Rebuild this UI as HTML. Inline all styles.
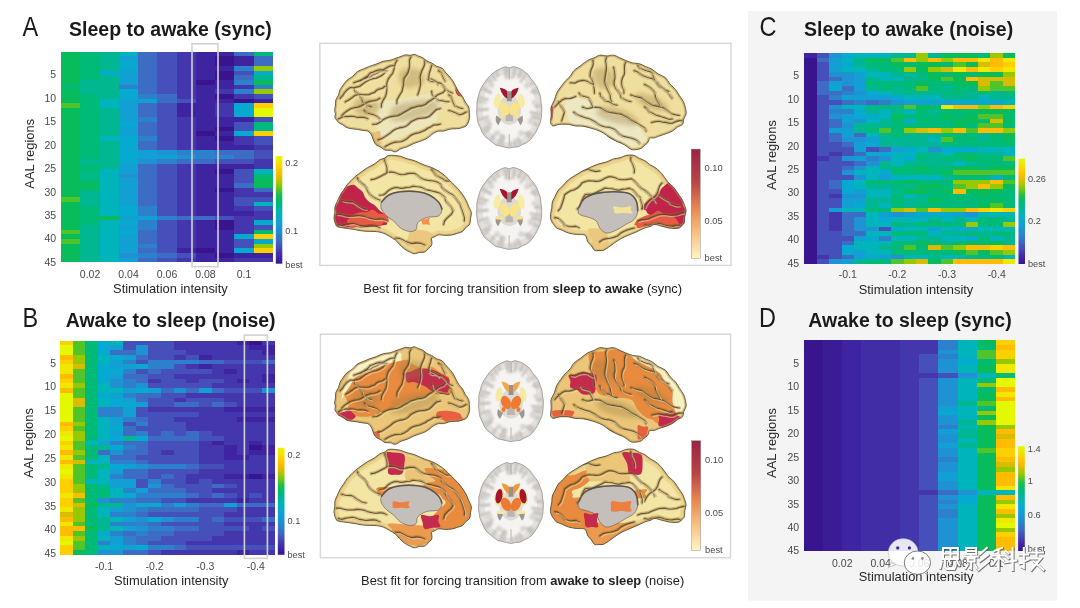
<!DOCTYPE html><html><head><meta charset="utf-8"><style>html,body{margin:0;padding:0;background:#fff;width:1080px;height:608px;overflow:hidden}svg{display:block;filter:blur(0.3px)}text{font-family:"Liberation Sans",sans-serif}</style></head><body>
<svg width="1080" height="608" viewBox="0 0 1080 608">
<rect x="0" y="0" width="1080" height="608" fill="#ffffff"/>
<rect x="748" y="11" width="309.2" height="589.6" fill="#f4f4f4"/>
<text x="0" y="0" font-size="23.5" fill="#1a1a1a" transform="translate(22.4,35.6) scale(1,1.2)">A</text>
<text x="69.1" y="35.6" font-size="19.5" font-weight="bold" text-anchor="start" fill="#1a1a1a" >Sleep to awake (sync)</text>
<g shape-rendering="crispEdges" transform="translate(61.2,51.8) scale(19.2364,4.6822)"><rect x="0" y="0" width="11" height="45" fill="#307bca"/><path fill="#38148e" d="M8 1h1v1h-1zM8 2h1v1h-1zM8 4h1v1h-1zM8 5h1v1h-1zM7 6h1v1h-1zM8 9h1v1h-1zM9 10h1v1h-1zM8 16h1v1h-1zM7 17h1v1h-1zM8 18h1v1h-1zM8 25h1v1h-1zM8 29h1v1h-1zM8 36h1v1h-1zM8 37h1v1h-1zM7 42h1v1h-1zM8 43h1v1h-1z"/><path fill="#3e24a0" d="M7 0h2v1h-2zM7 1h1v1h-1zM9 1h1v1h-1zM7 2h1v1h-1zM9 2h1v1h-1zM7 3h2v1h-2zM7 4h1v1h-1zM7 5h1v1h-1zM8 6h1v1h-1zM7 7h2v1h-2zM7 8h1v1h-1zM7 9h1v1h-1zM7 10h2v1h-2zM10 10h1v1h-1zM6 11h2v1h-2zM6 12h2v1h-2zM6 13h2v1h-2zM7 14h3v1h-3zM7 15h2v1h-2zM7 16h1v1h-1zM8 17h1v1h-1zM7 18h1v1h-1zM7 19h2v1h-2zM7 20h3v1h-3zM7 24h3v1h-3zM7 25h1v1h-1zM7 26h2v1h-2zM7 27h2v1h-2zM7 28h2v1h-2zM7 29h1v1h-1zM7 30h2v1h-2zM7 31h2v1h-2zM7 32h2v1h-2zM7 33h2v1h-2zM7 34h3v1h-3zM7 36h1v1h-1zM7 37h1v1h-1zM7 38h2v1h-2zM7 39h2v1h-2zM7 40h2v1h-2zM7 41h2v1h-2zM6 42h1v1h-1zM8 42h1v1h-1zM7 43h1v1h-1zM9 43h2v1h-2zM7 44h2v1h-2z"/><path fill="#4436ac" d="M6 0h1v1h-1zM6 1h1v1h-1zM6 2h1v1h-1zM6 3h1v1h-1zM6 4h1v1h-1zM6 5h1v1h-1zM6 6h1v1h-1zM6 7h1v1h-1zM9 7h1v1h-1zM6 8h1v1h-1zM8 8h1v1h-1zM6 9h1v1h-1zM9 9h1v1h-1zM8 11h1v1h-1zM8 12h1v1h-1zM8 13h1v1h-1zM6 14h1v1h-1zM6 15h1v1h-1zM6 16h1v1h-1zM6 17h1v1h-1zM6 18h1v1h-1zM9 18h1v1h-1zM6 19h1v1h-1zM9 19h1v1h-1zM6 20h1v1h-1zM10 20h1v1h-1zM10 23h1v1h-1zM6 24h1v1h-1zM10 24h1v1h-1zM6 25h1v1h-1zM6 26h1v1h-1zM6 27h1v1h-1zM6 28h1v1h-1zM6 29h1v1h-1zM9 29h1v1h-1zM6 30h1v1h-1zM9 30h2v1h-2zM6 31h1v1h-1zM6 32h1v1h-1zM6 33h1v1h-1zM9 33h1v1h-1zM6 34h1v1h-1zM10 34h1v1h-1zM9 35h2v1h-2zM6 36h1v1h-1zM9 36h1v1h-1zM6 37h1v1h-1zM9 37h1v1h-1zM6 38h1v1h-1zM9 38h1v1h-1zM6 39h1v1h-1zM6 40h1v1h-1zM6 41h1v1h-1zM6 44h1v1h-1zM9 44h2v1h-2z"/><path fill="#4650ba" d="M5 0h1v1h-1zM5 1h1v1h-1zM5 2h1v1h-1zM5 3h1v1h-1zM5 4h1v1h-1zM9 4h1v1h-1zM5 5h1v1h-1zM5 6h1v1h-1zM5 7h1v1h-1zM5 8h1v1h-1zM10 9h1v1h-1zM6 10h1v1h-1zM5 11h1v1h-1zM5 12h1v1h-1zM5 13h1v1h-1zM5 14h1v1h-1zM10 14h1v1h-1zM5 15h1v1h-1zM9 15h1v1h-1zM5 16h1v1h-1zM9 16h1v1h-1zM5 17h1v1h-1zM5 18h1v1h-1zM10 18h1v1h-1zM5 19h1v1h-1zM10 19h1v1h-1zM5 20h1v1h-1zM10 21h1v1h-1zM10 22h1v1h-1zM8 23h2v1h-2zM5 24h1v1h-1zM5 25h1v1h-1zM9 25h1v1h-1zM5 26h1v1h-1zM9 26h1v1h-1zM5 27h1v1h-1zM9 27h1v1h-1zM5 28h1v1h-1zM5 29h1v1h-1zM5 30h1v1h-1zM5 31h1v1h-1zM9 31h2v1h-2zM5 32h1v1h-1zM9 32h1v1h-1zM5 33h1v1h-1zM10 33h1v1h-1zM5 34h1v1h-1zM8 35h1v1h-1zM5 36h1v1h-1zM5 37h1v1h-1zM10 37h1v1h-1zM5 38h1v1h-1zM5 39h1v1h-1zM5 40h1v1h-1zM9 40h1v1h-1zM5 41h1v1h-1zM9 41h1v1h-1zM5 42h1v1h-1zM6 43h1v1h-1zM5 44h1v1h-1z"/><path fill="#3c6cc4" d="M4 0h1v1h-1zM9 0h1v1h-1zM4 1h1v1h-1zM10 1h1v1h-1zM4 2h1v1h-1zM10 2h1v1h-1zM4 3h1v1h-1zM4 4h1v1h-1zM4 5h1v1h-1zM9 5h1v1h-1zM4 6h1v1h-1zM4 7h1v1h-1zM4 8h1v1h-1zM5 9h1v1h-1zM5 10h1v1h-1zM4 11h1v1h-1zM4 12h1v1h-1zM4 13h1v1h-1zM4 15h1v1h-1zM4 16h1v1h-1zM4 17h1v1h-1zM4 19h1v1h-1zM4 20h1v1h-1zM8 21h2v1h-2zM9 22h1v1h-1zM6 23h2v1h-2zM4 24h1v1h-1zM4 25h1v1h-1zM4 26h1v1h-1zM4 27h1v1h-1zM4 28h1v1h-1zM9 28h1v1h-1zM4 29h1v1h-1zM10 29h1v1h-1zM4 30h1v1h-1zM4 31h1v1h-1zM4 32h1v1h-1zM6 35h2v1h-2zM4 38h1v1h-1zM4 39h1v1h-1zM4 40h1v1h-1zM4 42h1v1h-1zM5 43h1v1h-1zM4 44h1v1h-1z"/><path fill="#2c80cc" d="M9 3h1v1h-1zM9 6h1v1h-1zM3 7h1v1h-1zM10 7h1v1h-1zM9 8h1v1h-1zM4 9h1v1h-1zM4 14h1v1h-1zM4 18h1v1h-1zM6 21h2v1h-2zM7 22h2v1h-2zM5 23h1v1h-1zM4 33h1v1h-1zM4 34h1v1h-1zM5 35h1v1h-1zM4 36h1v1h-1zM4 37h1v1h-1zM4 41h1v1h-1zM4 43h1v1h-1z"/><path fill="#1e92d2" d="M5 21h1v1h-1zM6 22h1v1h-1zM4 23h1v1h-1zM3 26h1v1h-1zM3 43h1v1h-1z"/><path fill="#12a0d4" d="M3 1h1v1h-1zM3 4h1v1h-1zM3 5h1v1h-1zM3 6h1v1h-1zM3 10h2v1h-2zM3 11h1v1h-1zM3 12h1v1h-1zM3 13h1v1h-1zM3 14h1v1h-1zM3 16h1v1h-1zM3 17h1v1h-1zM4 21h1v1h-1zM4 22h2v1h-2zM3 24h1v1h-1zM3 25h1v1h-1zM3 27h1v1h-1zM3 28h1v1h-1zM3 29h1v1h-1zM3 30h1v1h-1zM3 31h1v1h-1zM3 32h1v1h-1zM3 35h2v1h-2zM3 37h1v1h-1zM3 39h1v1h-1zM3 40h1v1h-1zM3 41h1v1h-1zM3 42h1v1h-1zM3 44h1v1h-1z"/><path fill="#06aad0" d="M3 2h1v1h-1zM3 3h1v1h-1zM2 4h1v1h-1zM10 4h1v1h-1zM3 8h1v1h-1zM3 9h1v1h-1zM9 11h1v1h-1zM9 12h1v1h-1zM9 13h1v1h-1zM3 15h1v1h-1zM9 17h1v1h-1zM3 18h1v1h-1zM3 19h1v1h-1zM3 20h1v1h-1zM3 21h1v1h-1zM3 22h1v1h-1zM3 23h1v1h-1zM3 33h1v1h-1zM3 34h1v1h-1zM3 36h1v1h-1zM10 36h1v1h-1zM3 38h1v1h-1zM9 39h1v1h-1zM10 40h1v1h-1zM9 42h1v1h-1z"/><path fill="#00b4bc" d="M3 0h1v1h-1zM2 10h1v1h-1zM2 11h1v1h-1zM2 18h1v1h-1zM2 25h1v1h-1zM10 25h1v1h-1zM2 26h1v1h-1zM2 27h1v1h-1zM2 28h1v1h-1zM2 29h1v1h-1zM2 30h1v1h-1zM2 31h1v1h-1zM2 32h1v1h-1zM10 32h1v1h-1zM2 33h1v1h-1zM2 34h1v1h-1zM2 36h1v1h-1zM2 37h1v1h-1zM2 38h1v1h-1zM2 39h1v1h-1zM2 40h1v1h-1zM2 41h1v1h-1zM2 42h1v1h-1zM2 43h1v1h-1zM2 44h1v1h-1z"/><path fill="#00b792" d="M2 0h1v1h-1zM2 1h1v1h-1zM2 2h1v1h-1zM2 3h1v1h-1zM2 5h1v1h-1zM10 5h1v1h-1zM1 6h2v1h-2zM1 7h2v1h-2zM1 8h2v1h-2zM2 9h1v1h-1zM2 12h1v1h-1zM2 13h1v1h-1zM2 14h1v1h-1zM2 15h1v1h-1zM2 16h1v1h-1zM10 16h1v1h-1zM2 17h1v1h-1zM2 19h1v1h-1zM2 20h1v1h-1zM2 21h1v1h-1zM2 22h1v1h-1zM1 23h2v1h-2zM2 24h1v1h-1zM1 26h1v1h-1zM1 30h1v1h-1zM1 31h1v1h-1zM1 32h1v1h-1zM1 37h1v1h-1zM1 38h1v1h-1zM1 39h1v1h-1zM1 40h1v1h-1zM1 41h1v1h-1zM1 42h1v1h-1zM1 43h1v1h-1zM1 44h1v1h-1z"/><path fill="#00ba78" d="M1 0h1v1h-1zM10 0h1v1h-1zM1 1h1v1h-1zM1 2h1v1h-1zM1 3h1v1h-1zM1 4h1v1h-1zM1 5h1v1h-1zM0 7h1v1h-1zM1 9h1v1h-1zM1 10h1v1h-1zM1 11h1v1h-1zM1 12h1v1h-1zM1 13h1v1h-1zM1 14h1v1h-1zM1 15h1v1h-1zM10 15h1v1h-1zM1 16h1v1h-1zM1 17h1v1h-1zM1 18h1v1h-1zM1 19h1v1h-1zM1 20h1v1h-1zM1 21h1v1h-1zM1 22h1v1h-1zM1 24h1v1h-1zM1 25h1v1h-1zM10 26h1v1h-1zM1 27h1v1h-1zM1 29h1v1h-1zM1 33h1v1h-1zM1 34h1v1h-1zM1 35h1v1h-1zM1 36h1v1h-1zM10 38h1v1h-1z"/><path fill="#08bc5c" d="M0 0h1v1h-1zM0 1h1v1h-1zM0 2h1v1h-1zM0 3h1v1h-1zM0 4h1v1h-1zM0 5h1v1h-1zM0 6h1v1h-1zM10 6h1v1h-1zM0 8h1v1h-1zM0 9h1v1h-1zM0 10h1v1h-1zM0 12h1v1h-1zM0 13h1v1h-1zM0 14h1v1h-1zM0 15h1v1h-1zM0 16h1v1h-1zM0 17h1v1h-1zM0 18h1v1h-1zM0 19h1v1h-1zM0 20h1v1h-1zM0 21h1v1h-1zM0 22h1v1h-1zM0 23h1v1h-1zM0 24h1v1h-1zM0 25h1v1h-1zM0 26h1v1h-1zM0 27h1v1h-1zM10 27h1v1h-1zM0 28h2v1h-2zM10 28h1v1h-1zM0 29h1v1h-1zM0 30h1v1h-1zM0 32h1v1h-1zM0 33h1v1h-1zM0 34h1v1h-1zM0 35h1v1h-1zM2 35h1v1h-1zM0 36h1v1h-1zM0 37h1v1h-1zM0 39h1v1h-1zM0 41h1v1h-1zM0 42h1v1h-1zM0 43h1v1h-1zM0 44h1v1h-1z"/><path fill="#50c428" d="M0 11h1v1h-1zM0 31h1v1h-1zM0 38h1v1h-1zM0 40h1v1h-1z"/><path fill="#98c800" d="M10 3h1v1h-1zM10 8h1v1h-1zM10 41h1v1h-1z"/><path fill="#ffd000" d="M10 11h1v1h-1zM10 17h1v1h-1zM10 39h1v1h-1zM10 42h1v1h-1z"/><path fill="#E4F800" d="M10 12h1v1h-1zM10 13h1v1h-1z"/></g>
<text x="56.1" y="78.47" font-size="10.5" font-weight="normal" text-anchor="end" fill="#4a4a4a" >5</text>
<text x="56.1" y="101.8811111111111" font-size="10.5" font-weight="normal" text-anchor="end" fill="#4a4a4a" >10</text>
<text x="56.1" y="125.29222222222221" font-size="10.5" font-weight="normal" text-anchor="end" fill="#4a4a4a" >15</text>
<text x="56.1" y="148.70333333333335" font-size="10.5" font-weight="normal" text-anchor="end" fill="#4a4a4a" >20</text>
<text x="56.1" y="172.11444444444444" font-size="10.5" font-weight="normal" text-anchor="end" fill="#4a4a4a" >25</text>
<text x="56.1" y="195.52555555555554" font-size="10.5" font-weight="normal" text-anchor="end" fill="#4a4a4a" >30</text>
<text x="56.1" y="218.93666666666664" font-size="10.5" font-weight="normal" text-anchor="end" fill="#4a4a4a" >35</text>
<text x="56.1" y="242.3477777777778" font-size="10.5" font-weight="normal" text-anchor="end" fill="#4a4a4a" >40</text>
<text x="56.1" y="265.7588888888889" font-size="10.5" font-weight="normal" text-anchor="end" fill="#4a4a4a" >45</text>
<text x="90.05454545454546" y="277.9" font-size="10.5" font-weight="normal" text-anchor="middle" fill="#4a4a4a" >0.02</text>
<text x="128.52727272727273" y="277.9" font-size="10.5" font-weight="normal" text-anchor="middle" fill="#4a4a4a" >0.04</text>
<text x="167.0" y="277.9" font-size="10.5" font-weight="normal" text-anchor="middle" fill="#4a4a4a" >0.06</text>
<text x="205.4727272727273" y="277.9" font-size="10.5" font-weight="normal" text-anchor="middle" fill="#4a4a4a" >0.08</text>
<text x="243.94545454545454" y="277.9" font-size="10.5" font-weight="normal" text-anchor="middle" fill="#4a4a4a" >0.1</text>
<text x="170.4" y="292.7" font-size="12.9" font-weight="normal" text-anchor="middle" fill="#262626" >Stimulation intensity</text>
<text x="0" y="0" font-size="12.9" fill="#262626" text-anchor="middle" transform="translate(33.5,153.8) rotate(-90)">AAL regions</text>
<rect x="192" y="43.8" width="26" height="222.89999999999998" fill="none" stroke="#d2d2d2" stroke-width="1.6"/>
<defs><linearGradient id="cbA" x1="0" y1="0" x2="0" y2="1"><stop offset="0.000" stop-color="#E4F800"/><stop offset="0.050" stop-color="#efe900"/><stop offset="0.100" stop-color="#fdd200"/><stop offset="0.150" stop-color="#ffbf00"/><stop offset="0.200" stop-color="#e0bc00"/><stop offset="0.250" stop-color="#a8c500"/><stop offset="0.300" stop-color="#66c51c"/><stop offset="0.350" stop-color="#21bf4a"/><stop offset="0.400" stop-color="#03bb6d"/><stop offset="0.450" stop-color="#00b886"/><stop offset="0.500" stop-color="#00b6a7"/><stop offset="0.550" stop-color="#03b0c5"/><stop offset="0.600" stop-color="#0ba6d2"/><stop offset="0.650" stop-color="#169bd3"/><stop offset="0.700" stop-color="#228dd0"/><stop offset="0.750" stop-color="#307bca"/><stop offset="0.800" stop-color="#3e66c2"/><stop offset="0.850" stop-color="#464cb8"/><stop offset="0.900" stop-color="#4334ab"/><stop offset="0.950" stop-color="#3e239f"/><stop offset="1.000" stop-color="#38148e"/></linearGradient></defs>
<rect x="275.8" y="156.1" width="6.5" height="107.6" fill="url(#cbA)"/>
<text x="285.3" y="166.2" font-size="9.2" font-weight="normal" text-anchor="start" fill="#4a4a4a" >0.2</text>
<text x="285.3" y="233.5" font-size="9.2" font-weight="normal" text-anchor="start" fill="#4a4a4a" >0.1</text>
<text x="285.3" y="267.59999999999997" font-size="9.2" font-weight="normal" text-anchor="start" fill="#4a4a4a" >best</text>
<text x="0" y="0" font-size="23.5" fill="#1a1a1a" transform="translate(22.4,326.6) scale(1,1.2)">B</text>
<text x="65.7" y="326.6" font-size="19.5" font-weight="bold" text-anchor="start" fill="#1a1a1a" >Awake to sleep (noise)</text>
<g shape-rendering="crispEdges" transform="translate(59.9,340.5) scale(12.6353,4.7667)"><rect x="0" y="0" width="17" height="45" fill="#307bca"/><path fill="#38148e" d="M15 0h1v1h-1zM15 22h1v1h-1zM15 28h1v1h-1z"/><path fill="#3e24a0" d="M14 0h1v1h-1zM15 1h2v1h-2zM16 2h1v1h-1zM11 3h1v1h-1zM11 5h1v1h-1zM13 6h1v1h-1zM16 7h1v1h-1zM14 8h1v1h-1zM16 8h1v1h-1zM13 14h4v1h-4zM14 16h3v1h-3zM12 21h1v1h-1zM15 21h1v1h-1zM13 22h1v1h-1zM16 22h1v1h-1zM13 23h1v1h-1zM15 23h2v1h-2zM13 24h2v1h-2zM13 28h2v1h-2zM16 28h1v1h-1zM14 33h1v1h-1zM14 44h1v1h-1z"/><path fill="#4436ac" d="M9 0h5v1h-5zM16 0h1v1h-1zM9 1h6v1h-6zM10 2h6v1h-6zM9 3h1v1h-1zM12 3h5v1h-5zM10 5h1v1h-1zM12 5h5v1h-5zM12 6h1v1h-1zM14 6h3v1h-3zM9 7h7v1h-7zM7 8h1v1h-1zM10 8h1v1h-1zM13 8h1v1h-1zM15 8h1v1h-1zM12 9h5v1h-5zM10 11h7v1h-7zM9 12h1v1h-1zM13 12h4v1h-4zM14 13h3v1h-3zM7 14h6v1h-6zM11 15h6v1h-6zM9 16h5v1h-5zM10 17h7v1h-7zM10 18h7v1h-7zM12 19h5v1h-5zM13 20h4v1h-4zM11 21h1v1h-1zM13 21h2v1h-2zM16 21h1v1h-1zM11 22h2v1h-2zM14 22h1v1h-1zM8 23h1v1h-1zM11 23h2v1h-2zM14 23h1v1h-1zM11 24h2v1h-2zM15 24h2v1h-2zM11 25h6v1h-6zM13 26h4v1h-4zM11 27h6v1h-6zM10 28h3v1h-3zM10 29h1v1h-1zM12 29h5v1h-5zM14 30h3v1h-3zM12 31h5v1h-5zM14 32h1v1h-1zM16 32h1v1h-1zM10 33h4v1h-4zM15 33h2v1h-2zM14 35h3v1h-3zM13 36h4v1h-4zM13 38h4v1h-4zM15 39h1v1h-1zM13 40h4v1h-4zM12 41h5v1h-5zM10 42h7v1h-7zM8 44h6v1h-6zM15 44h2v1h-2z"/><path fill="#4650ba" d="M5 0h4v1h-4zM5 1h1v1h-1zM7 1h2v1h-2zM7 2h3v1h-3zM7 3h2v1h-2zM10 3h1v1h-1zM6 4h1v1h-1zM13 4h3v1h-3zM9 5h1v1h-1zM6 6h1v1h-1zM8 6h4v1h-4zM7 7h2v1h-2zM8 8h2v1h-2zM11 8h2v1h-2zM7 9h5v1h-5zM13 10h3v1h-3zM8 11h2v1h-2zM7 12h2v1h-2zM10 12h3v1h-3zM7 13h2v1h-2zM11 13h1v1h-1zM13 13h1v1h-1zM6 14h1v1h-1zM6 15h5v1h-5zM7 16h2v1h-2zM5 17h1v1h-1zM7 17h3v1h-3zM6 18h4v1h-4zM7 19h1v1h-1zM9 19h1v1h-1zM11 19h1v1h-1zM11 20h2v1h-2zM7 21h4v1h-4zM7 22h4v1h-4zM7 23h1v1h-1zM9 23h2v1h-2zM6 24h5v1h-5zM7 25h4v1h-4zM11 26h2v1h-2zM7 27h4v1h-4zM7 28h1v1h-1zM9 28h1v1h-1zM6 29h1v1h-1zM8 29h2v1h-2zM11 29h1v1h-1zM6 30h1v1h-1zM9 30h3v1h-3zM13 30h1v1h-1zM10 31h2v1h-2zM11 32h1v1h-1zM13 32h1v1h-1zM15 32h1v1h-1zM8 33h2v1h-2zM11 35h3v1h-3zM7 36h6v1h-6zM11 37h1v1h-1zM13 37h3v1h-3zM8 38h5v1h-5zM11 39h4v1h-4zM16 39h1v1h-1zM9 40h4v1h-4zM8 41h4v1h-4zM7 42h3v1h-3zM10 43h7v1h-7zM7 44h1v1h-1z"/><path fill="#3c6cc4" d="M4 2h2v1h-2zM6 3h1v1h-1zM11 4h2v1h-2zM16 4h1v1h-1zM7 6h1v1h-1zM5 7h2v1h-2zM6 8h1v1h-1zM8 10h1v1h-1zM10 10h1v1h-1zM12 10h1v1h-1zM6 11h2v1h-2zM6 12h1v1h-1zM9 13h2v1h-2zM12 13h1v1h-1zM6 16h1v1h-1zM5 18h1v1h-1zM5 19h1v1h-1zM8 19h1v1h-1zM10 19h1v1h-1zM7 20h4v1h-4zM5 21h2v1h-2zM6 22h1v1h-1zM3 23h1v1h-1zM5 23h2v1h-2zM4 24h2v1h-2zM6 25h1v1h-1zM10 26h1v1h-1zM5 27h2v1h-2zM5 28h2v1h-2zM8 28h1v1h-1zM8 30h1v1h-1zM12 30h1v1h-1zM7 31h3v1h-3zM10 32h1v1h-1zM12 32h1v1h-1zM6 33h2v1h-2zM11 34h2v1h-2zM14 34h3v1h-3zM7 35h4v1h-4zM6 36h1v1h-1zM12 37h1v1h-1zM16 37h1v1h-1zM7 38h1v1h-1zM9 39h2v1h-2zM5 40h1v1h-1zM7 40h2v1h-2zM6 41h2v1h-2zM6 42h1v1h-1zM9 43h1v1h-1zM5 44h2v1h-2z"/><path fill="#2c80cc" d="M5 4h1v1h-1zM7 4h4v1h-4zM7 5h2v1h-2zM5 6h1v1h-1zM5 8h1v1h-1zM5 9h1v1h-1zM5 11h1v1h-1zM3 14h2v1h-2zM3 15h2v1h-2zM5 16h1v1h-1zM6 17h1v1h-1zM6 19h1v1h-1zM4 21h1v1h-1zM5 22h1v1h-1zM4 25h2v1h-2zM7 26h3v1h-3zM4 28h1v1h-1zM7 29h1v1h-1zM5 31h1v1h-1zM6 32h4v1h-4zM4 33h2v1h-2zM8 34h1v1h-1zM10 34h1v1h-1zM6 35h1v1h-1zM4 36h2v1h-2zM9 37h2v1h-2zM4 38h3v1h-3zM7 39h2v1h-2zM4 40h1v1h-1zM6 40h1v1h-1zM5 41h1v1h-1zM3 42h1v1h-1zM5 42h1v1h-1zM7 43h2v1h-2z"/><path fill="#1e92d2" d="M6 1h1v1h-1zM6 2h1v1h-1zM4 8h1v1h-1zM4 9h1v1h-1zM6 9h1v1h-1zM9 10h1v1h-1zM16 10h1v1h-1zM4 23h1v1h-1zM6 26h1v1h-1zM7 30h1v1h-1zM3 33h1v1h-1zM5 34h1v1h-1zM5 35h1v1h-1zM6 37h1v1h-1zM8 37h1v1h-1zM6 39h1v1h-1zM3 44h2v1h-2z"/><path fill="#12a0d4" d="M4 1h1v1h-1zM5 3h1v1h-1zM4 4h1v1h-1zM4 5h2v1h-2zM4 7h1v1h-1zM5 10h1v1h-1zM7 10h1v1h-1zM11 10h1v1h-1zM4 11h1v1h-1zM5 12h1v1h-1zM6 13h1v1h-1zM5 14h1v1h-1zM5 15h1v1h-1zM4 16h1v1h-1zM4 17h1v1h-1zM4 19h1v1h-1zM3 21h1v1h-1zM5 26h1v1h-1zM4 27h1v1h-1zM4 29h2v1h-2zM4 30h2v1h-2zM6 31h1v1h-1zM9 34h1v1h-1zM13 34h1v1h-1zM4 35h1v1h-1zM5 37h1v1h-1zM5 39h1v1h-1zM4 41h1v1h-1zM4 42h1v1h-1zM5 43h1v1h-1z"/><path fill="#06aad0" d="M3 0h1v1h-1zM3 1h1v1h-1zM3 2h1v1h-1zM4 3h1v1h-1zM3 5h1v1h-1zM6 5h1v1h-1zM3 6h2v1h-2zM3 7h1v1h-1zM3 8h1v1h-1zM6 10h1v1h-1zM3 11h1v1h-1zM4 12h1v1h-1zM4 13h2v1h-2zM4 18h1v1h-1zM4 20h1v1h-1zM6 20h1v1h-1zM4 22h1v1h-1zM4 26h1v1h-1zM5 32h1v1h-1zM6 34h2v1h-2zM7 37h1v1h-1zM3 40h1v1h-1zM4 43h1v1h-1zM6 43h1v1h-1z"/><path fill="#00b4bc" d="M4 0h1v1h-1zM3 3h1v1h-1zM3 4h1v1h-1zM3 9h1v1h-1zM3 10h2v1h-2zM3 12h1v1h-1zM3 13h1v1h-1zM3 16h1v1h-1zM3 17h1v1h-1zM3 18h1v1h-1zM3 19h1v1h-1zM3 20h1v1h-1zM2 21h1v1h-1zM3 24h1v1h-1zM2 25h2v1h-2zM3 27h1v1h-1zM3 28h1v1h-1zM2 29h2v1h-2zM4 31h1v1h-1zM4 32h1v1h-1zM3 35h1v1h-1zM3 36h1v1h-1zM4 37h1v1h-1zM4 39h1v1h-1zM3 41h1v1h-1zM3 43h1v1h-1z"/><path fill="#00b792" d="M5 20h1v1h-1zM3 22h1v1h-1zM3 26h1v1h-1zM3 30h1v1h-1zM3 34h2v1h-2zM3 37h1v1h-1zM3 38h1v1h-1zM3 39h1v1h-1z"/><path fill="#00ba78" d="M2 0h1v1h-1zM2 1h1v1h-1zM2 2h1v1h-1zM2 3h1v1h-1zM2 4h1v1h-1zM2 5h1v1h-1zM2 6h1v1h-1zM2 7h1v1h-1zM2 8h1v1h-1zM2 9h1v1h-1zM2 10h1v1h-1zM2 11h1v1h-1zM2 12h1v1h-1zM2 13h1v1h-1zM2 14h1v1h-1zM2 15h1v1h-1zM2 16h1v1h-1zM2 17h1v1h-1zM2 18h1v1h-1zM2 19h1v1h-1zM2 20h1v1h-1zM2 22h1v1h-1zM2 23h1v1h-1zM2 24h1v1h-1zM2 26h1v1h-1zM2 27h1v1h-1zM2 28h1v1h-1zM2 30h1v1h-1zM2 31h2v1h-2zM2 32h2v1h-2zM2 33h1v1h-1zM2 35h1v1h-1zM2 36h1v1h-1zM2 37h1v1h-1zM2 38h1v1h-1zM2 40h1v1h-1zM2 41h1v1h-1zM2 42h1v1h-1zM2 43h1v1h-1zM2 44h1v1h-1z"/><path fill="#08bc5c" d="M2 34h1v1h-1zM2 39h1v1h-1zM1 44h1v1h-1z"/><path fill="#50c428" d="M1 0h1v1h-1zM1 1h1v1h-1zM1 2h1v1h-1zM1 6h1v1h-1zM1 7h1v1h-1zM1 8h1v1h-1zM1 10h1v1h-1zM1 11h1v1h-1zM1 14h1v1h-1zM1 15h1v1h-1zM1 16h1v1h-1zM1 18h1v1h-1zM1 21h1v1h-1zM1 22h1v1h-1zM1 24h1v1h-1zM1 26h1v1h-1zM1 27h1v1h-1zM1 28h1v1h-1zM1 29h1v1h-1zM1 33h1v1h-1zM1 38h1v1h-1zM1 40h1v1h-1zM1 42h1v1h-1zM1 43h1v1h-1z"/><path fill="#98c800" d="M1 3h1v1h-1zM1 4h1v1h-1zM1 9h1v1h-1zM1 17h1v1h-1zM1 19h1v1h-1zM1 20h1v1h-1zM1 23h1v1h-1zM1 30h1v1h-1zM1 31h1v1h-1zM1 35h1v1h-1zM1 36h1v1h-1zM1 37h1v1h-1zM1 41h1v1h-1z"/><path fill="#d8bc00" d="M1 5h1v1h-1zM1 12h1v1h-1zM1 13h1v1h-1zM1 25h1v1h-1zM1 34h1v1h-1zM0 36h1v1h-1z"/><path fill="#ffbc00" d="M0 3h1v1h-1zM0 7h1v1h-1zM0 10h1v1h-1zM0 17h1v1h-1zM0 23h1v1h-1zM0 25h1v1h-1zM1 32h1v1h-1zM0 37h1v1h-1zM0 39h2v1h-2zM0 40h1v1h-1z"/><path fill="#ffd000" d="M0 0h1v1h-1zM0 4h1v1h-1zM0 8h1v1h-1zM0 18h1v1h-1zM0 21h1v1h-1zM0 29h1v1h-1zM0 30h1v1h-1zM0 31h1v1h-1zM0 33h1v1h-1zM0 34h1v1h-1zM0 43h1v1h-1zM0 44h1v1h-1z"/><path fill="#f0e800" d="M0 5h1v1h-1zM0 6h1v1h-1zM0 9h1v1h-1zM0 19h1v1h-1zM0 22h1v1h-1zM0 24h1v1h-1zM0 26h1v1h-1zM0 28h1v1h-1zM0 32h1v1h-1zM0 35h1v1h-1zM0 38h1v1h-1zM0 41h1v1h-1z"/><path fill="#E4F800" d="M0 1h1v1h-1zM0 2h1v1h-1zM0 11h1v1h-1zM0 12h1v1h-1zM0 13h1v1h-1zM0 14h1v1h-1zM0 15h1v1h-1zM0 16h1v1h-1zM0 20h1v1h-1zM0 27h1v1h-1zM0 42h1v1h-1z"/></g>
<text x="56.1" y="366.55" font-size="10.5" font-weight="normal" text-anchor="end" fill="#4a4a4a" >5</text>
<text x="56.1" y="390.3833333333333" font-size="10.5" font-weight="normal" text-anchor="end" fill="#4a4a4a" >10</text>
<text x="56.1" y="414.2166666666667" font-size="10.5" font-weight="normal" text-anchor="end" fill="#4a4a4a" >15</text>
<text x="56.1" y="438.05" font-size="10.5" font-weight="normal" text-anchor="end" fill="#4a4a4a" >20</text>
<text x="56.1" y="461.8833333333333" font-size="10.5" font-weight="normal" text-anchor="end" fill="#4a4a4a" >25</text>
<text x="56.1" y="485.7166666666667" font-size="10.5" font-weight="normal" text-anchor="end" fill="#4a4a4a" >30</text>
<text x="56.1" y="509.55" font-size="10.5" font-weight="normal" text-anchor="end" fill="#4a4a4a" >35</text>
<text x="56.1" y="533.3833333333333" font-size="10.5" font-weight="normal" text-anchor="end" fill="#4a4a4a" >40</text>
<text x="56.1" y="557.2166666666667" font-size="10.5" font-weight="normal" text-anchor="end" fill="#4a4a4a" >45</text>
<text x="104.12352941176471" y="570.4" font-size="10.5" font-weight="normal" text-anchor="middle" fill="#4a4a4a" >-0.1</text>
<text x="154.66470588235293" y="570.4" font-size="10.5" font-weight="normal" text-anchor="middle" fill="#4a4a4a" >-0.2</text>
<text x="205.2058823529412" y="570.4" font-size="10.5" font-weight="normal" text-anchor="middle" fill="#4a4a4a" >-0.3</text>
<text x="255.74705882352941" y="570.4" font-size="10.5" font-weight="normal" text-anchor="middle" fill="#4a4a4a" >-0.4</text>
<text x="171.2" y="585.2" font-size="12.9" font-weight="normal" text-anchor="middle" fill="#262626" >Stimulation intensity</text>
<text x="0" y="0" font-size="12.9" fill="#262626" text-anchor="middle" transform="translate(32.5,443) rotate(-90)">AAL regions</text>
<rect x="244.4" y="335.1" width="22.99999999999997" height="223.29999999999995" fill="none" stroke="#d2d2d2" stroke-width="1.6"/>
<defs><linearGradient id="cbB" x1="0" y1="0" x2="0" y2="1"><stop offset="0.000" stop-color="#E4F800"/><stop offset="0.050" stop-color="#efe900"/><stop offset="0.100" stop-color="#fdd200"/><stop offset="0.150" stop-color="#ffbf00"/><stop offset="0.200" stop-color="#e0bc00"/><stop offset="0.250" stop-color="#a8c500"/><stop offset="0.300" stop-color="#66c51c"/><stop offset="0.350" stop-color="#21bf4a"/><stop offset="0.400" stop-color="#03bb6d"/><stop offset="0.450" stop-color="#00b886"/><stop offset="0.500" stop-color="#00b6a7"/><stop offset="0.550" stop-color="#03b0c5"/><stop offset="0.600" stop-color="#0ba6d2"/><stop offset="0.650" stop-color="#169bd3"/><stop offset="0.700" stop-color="#228dd0"/><stop offset="0.750" stop-color="#307bca"/><stop offset="0.800" stop-color="#3e66c2"/><stop offset="0.850" stop-color="#464cb8"/><stop offset="0.900" stop-color="#4334ab"/><stop offset="0.950" stop-color="#3e239f"/><stop offset="1.000" stop-color="#38148e"/></linearGradient></defs>
<rect x="277.8" y="447.8" width="6.699999999999989" height="106.99999999999994" fill="url(#cbB)"/>
<text x="287.5" y="458.2" font-size="9.2" font-weight="normal" text-anchor="start" fill="#4a4a4a" >0.2</text>
<text x="287.5" y="524.2" font-size="9.2" font-weight="normal" text-anchor="start" fill="#4a4a4a" >0.1</text>
<text x="287.5" y="558.2" font-size="9.2" font-weight="normal" text-anchor="start" fill="#4a4a4a" >best</text>
<text x="0" y="0" font-size="23.5" fill="#1a1a1a" transform="translate(759.5,36) scale(1,1.2)">C</text>
<text x="804" y="35.6" font-size="19.5" font-weight="bold" text-anchor="start" fill="#1a1a1a" >Sleep to awake (noise)</text>
<g shape-rendering="crispEdges" transform="translate(804.3,53.1) scale(12.4118,4.6867)"><rect x="0" y="0" width="17" height="45" fill="#307bca"/><path fill="#38148e" d="M0 1h1v1h-1zM0 2h1v1h-1zM0 3h1v1h-1zM0 4h1v1h-1zM0 5h1v1h-1zM0 6h1v1h-1zM0 7h1v1h-1zM0 8h1v1h-1zM0 9h1v1h-1zM0 10h1v1h-1zM0 11h1v1h-1zM0 12h1v1h-1zM0 13h1v1h-1zM0 14h1v1h-1zM0 15h1v1h-1zM0 16h1v1h-1zM0 17h1v1h-1zM0 18h1v1h-1zM0 19h1v1h-1zM0 20h1v1h-1zM0 21h1v1h-1zM0 22h1v1h-1zM0 23h1v1h-1zM0 24h1v1h-1zM0 25h1v1h-1zM0 26h1v1h-1zM0 27h1v1h-1zM0 28h1v1h-1zM0 29h1v1h-1zM0 30h1v1h-1zM0 31h1v1h-1zM0 32h1v1h-1zM0 33h1v1h-1zM0 34h1v1h-1zM0 35h1v1h-1zM0 36h1v1h-1zM0 37h1v1h-1zM0 38h1v1h-1zM0 39h1v1h-1zM0 40h1v1h-1zM0 41h1v1h-1zM0 42h1v1h-1zM0 43h1v1h-1zM0 44h1v1h-1z"/><path fill="#3e24a0" d="M0 0h1v1h-1z"/><path fill="#4436ac" d="M2 21h1v1h-1zM1 22h1v1h-1zM2 30h1v1h-1zM2 34h1v1h-1zM2 35h1v1h-1zM2 36h1v1h-1zM2 37h1v1h-1zM1 43h1v1h-1z"/><path fill="#4650ba" d="M1 0h1v1h-1zM1 2h1v1h-1zM1 3h1v1h-1zM1 4h1v1h-1zM1 5h1v1h-1zM1 9h1v1h-1zM1 10h2v1h-2zM1 11h1v1h-1zM1 12h1v1h-1zM1 13h1v1h-1zM1 14h1v1h-1zM1 15h1v1h-1zM1 16h1v1h-1zM1 17h1v1h-1zM1 18h1v1h-1zM1 19h2v1h-2zM1 20h3v1h-3zM5 20h1v1h-1zM1 21h1v1h-1zM3 21h1v1h-1zM2 22h1v1h-1zM1 23h3v1h-3zM1 24h2v1h-2zM1 25h2v1h-2zM1 26h3v1h-3zM1 27h1v1h-1zM1 28h1v1h-1zM1 29h2v1h-2zM1 30h1v1h-1zM1 31h2v1h-2zM1 32h2v1h-2zM1 33h1v1h-1zM1 34h1v1h-1zM1 35h1v1h-1zM1 36h1v1h-1zM1 37h1v1h-1zM6 37h1v1h-1zM1 38h2v1h-2zM1 39h3v1h-3zM1 40h2v1h-2zM1 41h2v1h-2zM1 42h2v1h-2zM2 43h1v1h-1zM1 44h1v1h-1z"/><path fill="#3c6cc4" d="M1 1h1v1h-1zM2 5h1v1h-1zM1 6h1v1h-1zM1 7h1v1h-1zM3 7h1v1h-1zM1 8h2v1h-2zM3 10h1v1h-1zM5 10h1v1h-1zM2 14h1v1h-1zM2 15h1v1h-1zM2 17h1v1h-1zM4 17h1v1h-1zM2 18h1v1h-1zM3 19h1v1h-1zM6 20h1v1h-1zM4 21h1v1h-1zM4 23h1v1h-1zM3 24h1v1h-1zM2 27h1v1h-1zM2 28h1v1h-1zM3 34h2v1h-2zM3 35h1v1h-1zM3 36h1v1h-1zM3 37h1v1h-1zM3 38h2v1h-2zM3 40h1v1h-1zM3 43h1v1h-1z"/><path fill="#2c80cc" d="M3 8h1v1h-1zM2 9h1v1h-1zM4 10h1v1h-1zM6 10h1v1h-1zM2 12h2v1h-2zM5 22h1v1h-1zM6 39h1v1h-1z"/><path fill="#1e92d2" d="M2 0h1v1h-1zM2 4h2v1h-2zM3 5h1v1h-1zM3 6h1v1h-1zM4 8h1v1h-1zM7 10h1v1h-1zM2 11h1v1h-1zM2 13h1v1h-1zM4 14h1v1h-1zM3 15h1v1h-1zM3 18h2v1h-2zM10 20h1v1h-1zM3 22h1v1h-1zM6 22h1v1h-1zM5 23h1v1h-1zM4 24h1v1h-1zM3 25h1v1h-1zM4 26h1v1h-1zM3 30h2v1h-2zM7 34h1v1h-1zM13 34h1v1h-1zM4 35h1v1h-1zM4 36h1v1h-1zM4 37h2v1h-2zM7 43h1v1h-1zM2 44h1v1h-1z"/><path fill="#12a0d4" d="M2 1h1v1h-1zM2 2h1v1h-1zM2 3h1v1h-1zM4 4h1v1h-1zM4 5h1v1h-1zM2 6h1v1h-1zM4 6h1v1h-1zM4 7h1v1h-1zM3 9h4v1h-4zM8 10h4v1h-4zM3 13h1v1h-1zM3 14h1v1h-1zM2 16h2v1h-2zM3 17h1v1h-1zM5 18h1v1h-1zM4 19h1v1h-1zM4 20h1v1h-1zM7 20h1v1h-1zM4 22h1v1h-1zM6 26h1v1h-1zM4 29h1v1h-1zM3 31h2v1h-2zM3 32h1v1h-1zM2 33h1v1h-1zM6 34h1v1h-1zM8 34h1v1h-1zM12 34h1v1h-1zM10 37h1v1h-1zM4 39h1v1h-1zM4 42h1v1h-1zM4 43h1v1h-1zM6 43h1v1h-1zM3 44h1v1h-1z"/><path fill="#06aad0" d="M3 0h1v1h-1zM3 2h1v1h-1zM2 7h1v1h-1zM5 8h1v1h-1zM7 9h1v1h-1zM12 10h4v1h-4zM4 12h1v1h-1zM4 13h2v1h-2zM8 14h1v1h-1zM5 19h1v1h-1zM8 20h1v1h-1zM11 20h3v1h-3zM5 21h2v1h-2zM8 22h1v1h-1zM6 25h1v1h-1zM3 27h1v1h-1zM3 28h1v1h-1zM3 29h1v1h-1zM4 32h1v1h-1zM9 34h3v1h-3zM6 35h1v1h-1zM7 37h1v1h-1zM12 37h2v1h-2zM5 39h1v1h-1zM13 39h1v1h-1zM3 41h1v1h-1zM3 42h1v1h-1zM5 43h1v1h-1z"/><path fill="#00b4bc" d="M4 0h3v1h-3zM3 1h1v1h-1zM3 3h2v1h-2zM5 4h2v1h-2zM6 5h2v1h-2zM6 8h1v1h-1zM8 9h3v1h-3zM14 9h1v1h-1zM16 10h1v1h-1zM3 11h2v1h-2zM6 12h1v1h-1zM8 12h1v1h-1zM6 13h1v1h-1zM5 14h1v1h-1zM5 17h1v1h-1zM10 18h1v1h-1zM9 20h1v1h-1zM14 20h3v1h-3zM7 21h2v1h-2zM11 21h1v1h-1zM16 21h1v1h-1zM7 22h1v1h-1zM7 23h1v1h-1zM12 23h1v1h-1zM5 24h1v1h-1zM4 25h2v1h-2zM5 26h1v1h-1zM7 26h4v1h-4zM15 26h1v1h-1zM4 27h1v1h-1zM4 28h1v1h-1zM5 29h2v1h-2zM5 30h2v1h-2zM8 30h1v1h-1zM6 32h1v1h-1zM3 33h2v1h-2zM5 34h1v1h-1zM14 34h3v1h-3zM5 35h1v1h-1zM7 35h3v1h-3zM11 35h1v1h-1zM13 35h1v1h-1zM5 36h2v1h-2zM8 37h2v1h-2zM11 37h1v1h-1zM14 37h3v1h-3zM5 38h2v1h-2zM10 38h1v1h-1zM7 39h2v1h-2zM11 39h2v1h-2zM15 39h1v1h-1zM4 40h3v1h-3zM4 41h2v1h-2zM5 42h2v1h-2zM8 43h2v1h-2zM11 43h2v1h-2zM16 43h1v1h-1z"/><path fill="#00b792" d="M7 0h2v1h-2zM10 0h1v1h-1zM4 1h1v1h-1zM4 2h1v1h-1zM5 3h1v1h-1zM7 4h2v1h-2zM5 5h1v1h-1zM8 5h2v1h-2zM5 7h1v1h-1zM7 7h1v1h-1zM11 7h1v1h-1zM7 8h4v1h-4zM13 8h1v1h-1zM15 8h1v1h-1zM11 9h3v1h-3zM15 9h2v1h-2zM5 11h1v1h-1zM5 12h1v1h-1zM7 12h1v1h-1zM10 12h1v1h-1zM6 14h1v1h-1zM4 15h3v1h-3zM4 16h1v1h-1zM6 17h1v1h-1zM8 17h3v1h-3zM14 17h1v1h-1zM6 18h4v1h-4zM14 18h1v1h-1zM6 19h5v1h-5zM9 21h2v1h-2zM14 21h2v1h-2zM10 22h1v1h-1zM6 23h1v1h-1zM8 23h4v1h-4zM13 23h1v1h-1zM6 24h1v1h-1zM11 26h1v1h-1zM5 28h2v1h-2zM8 28h1v1h-1zM7 29h1v1h-1zM9 30h1v1h-1zM5 31h2v1h-2zM8 31h2v1h-2zM5 32h1v1h-1zM8 32h1v1h-1zM10 35h1v1h-1zM12 35h1v1h-1zM16 35h1v1h-1zM8 36h1v1h-1zM11 38h2v1h-2zM14 38h1v1h-1zM9 39h2v1h-2zM16 39h1v1h-1zM11 40h1v1h-1zM16 40h1v1h-1zM6 41h1v1h-1zM10 43h1v1h-1zM13 43h2v1h-2zM4 44h1v1h-1z"/><path fill="#00ba78" d="M14 0h1v1h-1zM5 2h2v1h-2zM8 2h1v1h-1zM11 2h1v1h-1zM6 3h2v1h-2zM9 4h1v1h-1zM11 4h1v1h-1zM13 4h1v1h-1zM5 6h4v1h-4zM10 6h2v1h-2zM6 7h1v1h-1zM8 7h1v1h-1zM10 7h1v1h-1zM12 7h2v1h-2zM11 8h2v1h-2zM14 8h1v1h-1zM16 8h1v1h-1zM6 11h2v1h-2zM9 12h1v1h-1zM11 12h3v1h-3zM8 13h3v1h-3zM12 13h1v1h-1zM16 13h1v1h-1zM7 14h1v1h-1zM9 14h3v1h-3zM14 14h1v1h-1zM7 15h5v1h-5zM13 15h1v1h-1zM16 15h1v1h-1zM5 16h1v1h-1zM7 16h1v1h-1zM7 17h1v1h-1zM11 17h3v1h-3zM15 17h1v1h-1zM12 18h2v1h-2zM15 18h1v1h-1zM11 19h6v1h-6zM12 21h2v1h-2zM9 22h1v1h-1zM11 22h2v1h-2zM14 22h2v1h-2zM14 23h3v1h-3zM7 24h2v1h-2zM10 24h2v1h-2zM14 24h1v1h-1zM7 25h4v1h-4zM12 26h3v1h-3zM16 26h1v1h-1zM5 27h3v1h-3zM9 27h3v1h-3zM7 28h1v1h-1zM11 28h1v1h-1zM10 29h1v1h-1zM16 29h1v1h-1zM7 30h1v1h-1zM10 30h4v1h-4zM15 30h2v1h-2zM7 31h1v1h-1zM11 31h4v1h-4zM16 31h1v1h-1zM7 32h1v1h-1zM9 32h5v1h-5zM16 32h1v1h-1zM5 33h2v1h-2zM14 35h2v1h-2zM7 36h1v1h-1zM9 36h4v1h-4zM14 36h2v1h-2zM7 38h3v1h-3zM13 38h1v1h-1zM15 38h2v1h-2zM14 39h1v1h-1zM7 40h2v1h-2zM10 40h1v1h-1zM12 40h1v1h-1zM14 40h1v1h-1zM7 41h1v1h-1zM9 41h1v1h-1zM7 42h5v1h-5zM15 43h1v1h-1zM5 44h2v1h-2z"/><path fill="#08bc5c" d="M11 0h3v1h-3zM16 0h1v1h-1zM5 1h2v1h-2zM7 2h1v1h-1zM9 2h2v1h-2zM13 2h1v1h-1zM9 3h1v1h-1zM10 4h1v1h-1zM12 4h1v1h-1zM14 4h2v1h-2zM10 5h1v1h-1zM12 5h1v1h-1zM9 6h1v1h-1zM12 6h2v1h-2zM9 11h2v1h-2zM14 12h3v1h-3zM7 13h1v1h-1zM11 13h1v1h-1zM13 13h1v1h-1zM12 14h2v1h-2zM16 14h1v1h-1zM12 15h1v1h-1zM16 17h1v1h-1zM16 18h1v1h-1zM13 22h1v1h-1zM9 24h1v1h-1zM12 24h2v1h-2zM15 24h2v1h-2zM11 25h1v1h-1zM8 27h1v1h-1zM9 28h2v1h-2zM16 28h1v1h-1zM8 29h2v1h-2zM11 29h1v1h-1zM13 29h3v1h-3zM14 30h1v1h-1zM10 31h1v1h-1zM15 31h1v1h-1zM14 32h1v1h-1zM9 40h1v1h-1zM13 40h1v1h-1zM15 40h1v1h-1zM12 42h1v1h-1zM14 42h1v1h-1zM10 44h1v1h-1z"/><path fill="#50c428" d="M7 1h1v1h-1zM12 2h1v1h-1zM11 5h1v1h-1zM15 6h1v1h-1zM9 7h1v1h-1zM15 7h2v1h-2zM8 11h1v1h-1zM14 13h2v1h-2zM14 15h2v1h-2zM6 16h1v1h-1zM13 16h1v1h-1zM11 18h1v1h-1zM16 22h1v1h-1zM12 25h5v1h-5zM16 27h1v1h-1zM12 28h1v1h-1zM15 32h1v1h-1zM9 33h1v1h-1zM8 41h1v1h-1zM11 41h1v1h-1zM13 42h1v1h-1zM15 42h1v1h-1zM7 44h1v1h-1zM11 44h1v1h-1z"/><path fill="#98c800" d="M9 0h1v1h-1zM15 0h1v1h-1zM9 1h1v1h-1zM11 1h1v1h-1zM8 3h1v1h-1zM10 3h1v1h-1zM16 4h1v1h-1zM14 7h1v1h-1zM14 11h1v1h-1zM8 16h1v1h-1zM11 16h1v1h-1zM16 16h1v1h-1zM12 27h3v1h-3zM13 28h1v1h-1zM15 28h1v1h-1zM7 33h1v1h-1zM11 33h2v1h-2zM13 36h1v1h-1zM16 36h1v1h-1zM12 41h1v1h-1zM16 42h1v1h-1zM8 44h1v1h-1z"/><path fill="#d8bc00" d="M14 2h1v1h-1zM11 3h1v1h-1zM14 5h3v1h-3zM14 6h1v1h-1zM16 6h1v1h-1zM15 14h1v1h-1zM9 16h1v1h-1zM8 33h1v1h-1zM10 41h1v1h-1zM9 44h1v1h-1z"/><path fill="#ffbc00" d="M8 1h1v1h-1zM10 1h1v1h-1zM12 1h2v1h-2zM15 1h1v1h-1zM15 2h1v1h-1zM13 3h1v1h-1zM13 5h1v1h-1zM12 11h2v1h-2zM15 11h1v1h-1zM10 16h1v1h-1zM12 16h1v1h-1zM14 16h2v1h-2zM15 27h1v1h-1zM14 28h1v1h-1zM12 29h1v1h-1zM10 33h1v1h-1zM13 33h1v1h-1zM13 41h2v1h-2zM16 41h1v1h-1zM12 44h4v1h-4z"/><path fill="#ffd000" d="M16 2h1v1h-1zM15 3h1v1h-1zM16 11h1v1h-1zM14 33h1v1h-1zM16 33h1v1h-1zM15 41h1v1h-1z"/><path fill="#f0e800" d="M14 1h1v1h-1zM16 1h1v1h-1zM12 3h1v1h-1zM14 3h1v1h-1zM16 3h1v1h-1zM11 11h1v1h-1zM15 33h1v1h-1zM16 44h1v1h-1z"/></g>
<text x="799.2" y="79.28999999999999" font-size="10.5" font-weight="normal" text-anchor="end" fill="#4a4a4a" >5</text>
<text x="799.2" y="102.72333333333333" font-size="10.5" font-weight="normal" text-anchor="end" fill="#4a4a4a" >10</text>
<text x="799.2" y="126.15666666666667" font-size="10.5" font-weight="normal" text-anchor="end" fill="#4a4a4a" >15</text>
<text x="799.2" y="149.59" font-size="10.5" font-weight="normal" text-anchor="end" fill="#4a4a4a" >20</text>
<text x="799.2" y="173.0233333333333" font-size="10.5" font-weight="normal" text-anchor="end" fill="#4a4a4a" >25</text>
<text x="799.2" y="196.45666666666665" font-size="10.5" font-weight="normal" text-anchor="end" fill="#4a4a4a" >30</text>
<text x="799.2" y="219.89" font-size="10.5" font-weight="normal" text-anchor="end" fill="#4a4a4a" >35</text>
<text x="799.2" y="243.32333333333332" font-size="10.5" font-weight="normal" text-anchor="end" fill="#4a4a4a" >40</text>
<text x="799.2" y="266.7566666666667" font-size="10.5" font-weight="normal" text-anchor="end" fill="#4a4a4a" >45</text>
<text x="847.7411764705882" y="277.9" font-size="10.5" font-weight="normal" text-anchor="middle" fill="#4a4a4a" >-0.1</text>
<text x="897.3882352941176" y="277.9" font-size="10.5" font-weight="normal" text-anchor="middle" fill="#4a4a4a" >-0.2</text>
<text x="947.035294117647" y="277.9" font-size="10.5" font-weight="normal" text-anchor="middle" fill="#4a4a4a" >-0.3</text>
<text x="996.6823529411764" y="277.9" font-size="10.5" font-weight="normal" text-anchor="middle" fill="#4a4a4a" >-0.4</text>
<text x="916" y="294.2" font-size="12.9" font-weight="normal" text-anchor="middle" fill="#262626" >Stimulation intensity</text>
<text x="0" y="0" font-size="12.9" fill="#262626" text-anchor="middle" transform="translate(776,155) rotate(-90)">AAL regions</text>
<defs><linearGradient id="cbC" x1="0" y1="0" x2="0" y2="1"><stop offset="0.000" stop-color="#E4F800"/><stop offset="0.050" stop-color="#efe900"/><stop offset="0.100" stop-color="#fdd200"/><stop offset="0.150" stop-color="#ffbf00"/><stop offset="0.200" stop-color="#e0bc00"/><stop offset="0.250" stop-color="#a8c500"/><stop offset="0.300" stop-color="#66c51c"/><stop offset="0.350" stop-color="#21bf4a"/><stop offset="0.400" stop-color="#03bb6d"/><stop offset="0.450" stop-color="#00b886"/><stop offset="0.500" stop-color="#00b6a7"/><stop offset="0.550" stop-color="#03b0c5"/><stop offset="0.600" stop-color="#0ba6d2"/><stop offset="0.650" stop-color="#169bd3"/><stop offset="0.700" stop-color="#228dd0"/><stop offset="0.750" stop-color="#307bca"/><stop offset="0.800" stop-color="#3e66c2"/><stop offset="0.850" stop-color="#464cb8"/><stop offset="0.900" stop-color="#4334ab"/><stop offset="0.950" stop-color="#3e239f"/><stop offset="1.000" stop-color="#38148e"/></linearGradient></defs>
<rect x="1018.5" y="158.6" width="6.5" height="105.4" fill="url(#cbC)"/>
<text x="1028" y="182.1" font-size="9.2" font-weight="normal" text-anchor="start" fill="#4a4a4a" >0.26</text>
<text x="1028" y="223.6" font-size="9.2" font-weight="normal" text-anchor="start" fill="#4a4a4a" >0.2</text>
<text x="1028" y="267.2" font-size="9.2" font-weight="normal" text-anchor="start" fill="#4a4a4a" >best</text>
<text x="0" y="0" font-size="23.5" fill="#1a1a1a" transform="translate(759.0,326.6) scale(1,1.2)">D</text>
<text x="808.3" y="326.6" font-size="19.5" font-weight="bold" text-anchor="start" fill="#1a1a1a" >Awake to sleep (sync)</text>
<g shape-rendering="crispEdges" transform="translate(803.8,340.4) scale(19.2273,4.6822)"><rect x="0" y="0" width="11" height="45" fill="#307bca"/><path fill="#38148e" d="M0 0h1v1h-1zM0 1h1v1h-1zM0 2h1v1h-1zM0 3h1v1h-1zM0 4h1v1h-1zM0 5h1v1h-1zM0 6h1v1h-1zM0 7h1v1h-1zM0 8h1v1h-1zM0 9h1v1h-1zM0 10h1v1h-1zM0 11h1v1h-1zM0 12h1v1h-1zM0 13h1v1h-1zM0 14h1v1h-1zM0 15h1v1h-1zM0 16h1v1h-1zM0 17h1v1h-1zM0 18h1v1h-1zM0 19h1v1h-1zM0 20h1v1h-1zM0 21h1v1h-1zM0 22h1v1h-1zM0 23h1v1h-1zM0 24h1v1h-1zM0 25h1v1h-1zM0 26h1v1h-1zM0 27h1v1h-1zM0 28h1v1h-1zM0 29h1v1h-1zM0 30h1v1h-1zM0 31h1v1h-1zM0 32h1v1h-1zM0 33h1v1h-1zM0 34h1v1h-1zM0 35h1v1h-1zM0 36h1v1h-1zM0 37h1v1h-1zM0 38h1v1h-1zM0 39h1v1h-1zM0 40h1v1h-1zM0 41h1v1h-1zM0 42h1v1h-1zM0 43h1v1h-1zM0 44h1v1h-1z"/><path fill="#3e24a0" d="M2 0h1v1h-1zM2 1h1v1h-1zM2 2h1v1h-1zM2 3h1v1h-1zM2 4h1v1h-1zM2 5h1v1h-1zM2 6h1v1h-1zM2 7h1v1h-1zM2 8h1v1h-1zM2 9h1v1h-1zM2 10h1v1h-1zM2 11h1v1h-1zM2 12h1v1h-1zM2 13h1v1h-1zM2 14h1v1h-1zM2 15h1v1h-1zM2 16h1v1h-1zM2 17h1v1h-1zM2 18h1v1h-1zM2 19h1v1h-1zM2 20h1v1h-1zM2 21h1v1h-1zM2 22h1v1h-1zM2 23h1v1h-1zM2 24h1v1h-1zM2 25h1v1h-1zM2 26h1v1h-1zM2 27h1v1h-1zM2 28h1v1h-1zM2 29h1v1h-1zM2 30h1v1h-1zM2 31h1v1h-1zM2 32h1v1h-1zM2 33h1v1h-1zM2 34h1v1h-1zM2 35h1v1h-1zM2 36h1v1h-1zM2 37h1v1h-1zM2 38h1v1h-1zM2 39h1v1h-1zM2 40h1v1h-1zM2 41h1v1h-1zM2 42h1v1h-1zM2 43h1v1h-1zM2 44h1v1h-1z"/><path fill="#4436ac" d="M5 0h2v1h-2zM5 1h2v1h-2zM5 2h2v1h-2zM5 3h1v1h-1zM5 4h1v1h-1zM5 5h1v1h-1zM5 6h1v1h-1zM5 7h2v1h-2zM5 8h1v1h-1zM5 9h1v1h-1zM5 10h1v1h-1zM5 11h1v1h-1zM5 12h1v1h-1zM5 13h1v1h-1zM5 14h1v1h-1zM5 15h1v1h-1zM5 16h1v1h-1zM5 17h1v1h-1zM5 18h1v1h-1zM5 19h1v1h-1zM5 20h1v1h-1zM5 21h1v1h-1zM5 22h1v1h-1zM5 23h1v1h-1zM5 24h1v1h-1zM5 25h1v1h-1zM5 26h1v1h-1zM5 27h1v1h-1zM5 28h1v1h-1zM5 29h1v1h-1zM5 30h1v1h-1zM5 31h1v1h-1zM5 32h2v1h-2zM5 33h1v1h-1zM5 34h1v1h-1zM5 35h1v1h-1zM5 36h1v1h-1zM5 37h1v1h-1zM5 38h1v1h-1zM5 39h1v1h-1zM5 40h1v1h-1zM5 41h1v1h-1zM5 42h1v1h-1zM5 43h1v1h-1zM5 44h1v1h-1z"/><path fill="#4650ba" d="M6 3h1v1h-1zM6 4h1v1h-1zM6 5h1v1h-1zM6 6h1v1h-1zM7 7h1v1h-1zM6 8h1v1h-1zM6 9h1v1h-1zM6 10h1v1h-1zM6 11h1v1h-1zM6 12h1v1h-1zM6 13h1v1h-1zM6 14h1v1h-1zM6 15h1v1h-1zM6 16h1v1h-1zM6 17h1v1h-1zM6 18h1v1h-1zM6 19h1v1h-1zM6 20h1v1h-1zM6 21h1v1h-1zM6 22h1v1h-1zM6 23h1v1h-1zM6 24h1v1h-1zM6 25h1v1h-1zM6 26h1v1h-1zM6 27h1v1h-1zM6 28h1v1h-1zM6 29h1v1h-1zM6 30h1v1h-1zM6 31h1v1h-1zM6 33h1v1h-1zM6 34h1v1h-1zM6 35h1v1h-1zM6 36h1v1h-1zM6 37h1v1h-1zM6 38h1v1h-1zM6 39h1v1h-1zM6 40h1v1h-1zM6 41h1v1h-1zM6 42h1v1h-1zM6 43h1v1h-1zM6 44h1v1h-1z"/><path fill="#3c6cc4" d="M7 32h1v1h-1z"/><path fill="#2c80cc" d="M7 0h1v1h-1zM7 1h1v1h-1zM7 3h1v1h-1zM7 18h1v1h-1zM7 25h1v1h-1zM7 34h1v1h-1zM7 36h1v1h-1zM7 37h1v1h-1z"/><path fill="#1e92d2" d="M7 2h1v1h-1zM7 4h1v1h-1zM7 5h1v1h-1zM7 6h1v1h-1zM8 7h1v1h-1zM7 8h1v1h-1zM7 9h1v1h-1zM7 10h1v1h-1zM7 11h1v1h-1zM7 12h1v1h-1zM7 13h1v1h-1zM7 16h1v1h-1zM7 17h1v1h-1zM7 20h1v1h-1zM7 21h1v1h-1zM7 23h1v1h-1zM7 24h1v1h-1zM7 26h1v1h-1zM7 27h1v1h-1zM7 30h1v1h-1zM7 31h1v1h-1zM8 32h1v1h-1zM7 33h1v1h-1zM7 35h1v1h-1zM7 38h1v1h-1zM7 39h1v1h-1zM7 40h1v1h-1zM7 41h1v1h-1zM7 42h1v1h-1zM7 43h1v1h-1zM7 44h1v1h-1z"/><path fill="#12a0d4" d="M7 14h1v1h-1zM7 19h1v1h-1zM7 22h1v1h-1zM7 28h1v1h-1zM7 29h1v1h-1z"/><path fill="#06aad0" d="M8 4h1v1h-1zM7 15h1v1h-1zM8 33h1v1h-1zM8 34h1v1h-1z"/><path fill="#00b4bc" d="M8 0h1v1h-1zM8 1h1v1h-1zM8 2h1v1h-1zM8 3h1v1h-1zM8 5h1v1h-1zM8 6h1v1h-1zM9 7h1v1h-1zM8 8h1v1h-1zM8 9h1v1h-1zM8 10h1v1h-1zM8 11h1v1h-1zM8 12h1v1h-1zM8 14h1v1h-1zM8 15h1v1h-1zM8 16h1v1h-1zM8 18h1v1h-1zM8 21h1v1h-1zM8 23h1v1h-1zM8 24h1v1h-1zM8 25h1v1h-1zM8 26h1v1h-1zM8 27h1v1h-1zM8 28h1v1h-1zM8 29h1v1h-1zM8 30h1v1h-1zM8 31h1v1h-1zM9 32h2v1h-2zM8 35h1v1h-1zM8 36h1v1h-1zM8 37h1v1h-1zM8 38h1v1h-1zM8 39h1v1h-1zM8 40h1v1h-1zM8 41h1v1h-1zM8 42h1v1h-1zM8 43h1v1h-1zM8 44h1v1h-1z"/><path fill="#3b1c97" d="M1 0h1v1h-1zM1 1h1v1h-1zM1 2h1v1h-1zM1 3h1v1h-1zM1 4h1v1h-1zM1 5h1v1h-1zM1 6h1v1h-1zM1 7h1v1h-1zM1 8h1v1h-1zM1 9h1v1h-1zM1 10h1v1h-1zM1 11h1v1h-1zM1 12h1v1h-1zM1 13h1v1h-1zM1 14h1v1h-1zM1 15h1v1h-1zM1 16h1v1h-1zM1 17h1v1h-1zM1 18h1v1h-1zM1 19h1v1h-1zM1 20h1v1h-1zM1 21h1v1h-1zM1 22h1v1h-1zM1 23h1v1h-1zM1 24h1v1h-1zM1 25h1v1h-1zM1 26h1v1h-1zM1 27h1v1h-1zM1 28h1v1h-1zM1 29h1v1h-1zM1 30h1v1h-1zM1 31h1v1h-1zM1 32h1v1h-1zM1 33h1v1h-1zM1 34h1v1h-1zM1 35h1v1h-1zM1 36h1v1h-1zM1 37h1v1h-1zM1 38h1v1h-1zM1 39h1v1h-1zM1 40h1v1h-1zM1 41h1v1h-1zM1 42h1v1h-1zM1 43h1v1h-1zM1 44h1v1h-1z"/><path fill="#412da6" d="M3 0h2v1h-2zM3 1h2v1h-2zM3 2h2v1h-2zM3 3h2v1h-2zM3 4h2v1h-2zM3 5h2v1h-2zM3 6h2v1h-2zM3 7h2v1h-2zM3 8h2v1h-2zM3 9h2v1h-2zM3 10h2v1h-2zM3 11h2v1h-2zM3 12h2v1h-2zM3 13h2v1h-2zM3 14h2v1h-2zM3 15h2v1h-2zM3 16h2v1h-2zM3 17h2v1h-2zM3 18h2v1h-2zM3 19h2v1h-2zM3 20h2v1h-2zM3 21h2v1h-2zM3 22h2v1h-2zM3 23h2v1h-2zM3 24h2v1h-2zM3 25h2v1h-2zM3 26h2v1h-2zM3 27h2v1h-2zM3 28h2v1h-2zM3 29h2v1h-2zM3 30h2v1h-2zM3 31h2v1h-2zM3 32h2v1h-2zM3 33h2v1h-2zM3 34h2v1h-2zM3 35h2v1h-2zM3 36h2v1h-2zM3 37h2v1h-2zM3 38h2v1h-2zM3 39h2v1h-2zM3 40h2v1h-2zM3 41h2v1h-2zM3 42h2v1h-2zM3 43h2v1h-2zM3 44h2v1h-2z"/><path fill="#00b792" d="M8 13h1v1h-1zM8 17h1v1h-1zM8 19h1v1h-1zM8 20h1v1h-1zM8 22h1v1h-1z"/><path fill="#00ba78" d="M9 1h1v1h-1zM9 4h1v1h-1zM10 7h1v1h-1zM9 8h1v1h-1zM9 10h1v1h-1zM9 14h1v1h-1z"/><path fill="#08bc5c" d="M9 0h1v1h-1zM9 5h1v1h-1zM9 6h1v1h-1zM9 11h1v1h-1zM9 12h1v1h-1zM9 16h1v1h-1zM9 18h1v1h-1zM9 19h1v1h-1zM9 20h1v1h-1zM9 21h1v1h-1zM9 22h1v1h-1zM9 24h1v1h-1zM9 25h1v1h-1zM9 26h1v1h-1zM9 27h1v1h-1zM9 28h1v1h-1zM9 29h1v1h-1zM9 30h1v1h-1zM9 31h1v1h-1zM9 33h1v1h-1zM9 34h1v1h-1zM9 35h1v1h-1zM9 36h1v1h-1zM9 37h1v1h-1zM9 38h1v1h-1zM9 39h1v1h-1zM9 40h1v1h-1zM9 41h1v1h-1zM9 42h1v1h-1zM9 43h1v1h-1zM9 44h1v1h-1z"/><path fill="#50c428" d="M9 2h1v1h-1zM9 3h1v1h-1zM9 13h1v1h-1zM9 23h1v1h-1z"/><path fill="#98c800" d="M10 4h1v1h-1zM9 9h1v1h-1zM9 15h1v1h-1zM9 17h1v1h-1zM10 18h1v1h-1zM10 27h1v1h-1zM10 34h1v1h-1zM10 37h1v1h-1zM10 40h1v1h-1z"/><path fill="#d8bc00" d="M10 20h1v1h-1zM10 26h1v1h-1z"/><path fill="#ffbc00" d="M10 1h1v1h-1zM10 10h1v1h-1zM10 12h1v1h-1zM10 19h1v1h-1zM10 21h1v1h-1zM10 22h1v1h-1zM10 25h1v1h-1zM10 28h1v1h-1zM10 29h1v1h-1zM10 30h1v1h-1zM10 33h1v1h-1zM10 36h1v1h-1zM10 42h1v1h-1zM10 43h1v1h-1zM10 44h1v1h-1z"/><path fill="#ffd000" d="M10 0h1v1h-1zM10 2h1v1h-1zM10 3h1v1h-1zM10 23h1v1h-1zM10 24h1v1h-1zM10 41h1v1h-1z"/><path fill="#f0e800" d="M10 5h1v1h-1zM10 6h1v1h-1zM10 11h1v1h-1zM10 31h1v1h-1zM10 35h1v1h-1zM10 38h1v1h-1z"/><path fill="#E4F800" d="M10 8h1v1h-1zM10 9h1v1h-1zM10 13h1v1h-1zM10 14h1v1h-1zM10 15h1v1h-1zM10 16h1v1h-1zM10 17h1v1h-1zM10 39h1v1h-1z"/></g>
<text x="799.1" y="367.07" font-size="10.5" font-weight="normal" text-anchor="end" fill="#4a4a4a" >5</text>
<text x="799.1" y="390.4811111111111" font-size="10.5" font-weight="normal" text-anchor="end" fill="#4a4a4a" >10</text>
<text x="799.1" y="413.89222222222224" font-size="10.5" font-weight="normal" text-anchor="end" fill="#4a4a4a" >15</text>
<text x="799.1" y="437.30333333333334" font-size="10.5" font-weight="normal" text-anchor="end" fill="#4a4a4a" >20</text>
<text x="799.1" y="460.71444444444444" font-size="10.5" font-weight="normal" text-anchor="end" fill="#4a4a4a" >25</text>
<text x="799.1" y="484.1255555555556" font-size="10.5" font-weight="normal" text-anchor="end" fill="#4a4a4a" >30</text>
<text x="799.1" y="507.5366666666667" font-size="10.5" font-weight="normal" text-anchor="end" fill="#4a4a4a" >35</text>
<text x="799.1" y="530.9477777777778" font-size="10.5" font-weight="normal" text-anchor="end" fill="#4a4a4a" >40</text>
<text x="799.1" y="554.3588888888889" font-size="10.5" font-weight="normal" text-anchor="end" fill="#4a4a4a" >45</text>
<text x="842.2545454545455" y="566.7" font-size="10.5" font-weight="normal" text-anchor="middle" fill="#4a4a4a" >0.02</text>
<text x="880.7090909090908" y="566.7" font-size="10.5" font-weight="normal" text-anchor="middle" fill="#4a4a4a" >0.04</text>
<text x="919.1636363636363" y="566.7" font-size="10.5" font-weight="normal" text-anchor="middle" fill="#4a4a4a" >0.06</text>
<text x="957.6181818181817" y="566.7" font-size="10.5" font-weight="normal" text-anchor="middle" fill="#4a4a4a" >0.08</text>
<text x="996.0727272727272" y="566.7" font-size="10.5" font-weight="normal" text-anchor="middle" fill="#4a4a4a" >0.1</text>
<text x="916.1" y="581.3000000000001" font-size="12.9" font-weight="normal" text-anchor="middle" fill="#262626" >Stimulation intensity</text>
<text x="0" y="0" font-size="12.9" fill="#262626" text-anchor="middle" transform="translate(776,443) rotate(-90)">AAL regions</text>
<defs><linearGradient id="cbD" x1="0" y1="0" x2="0" y2="1"><stop offset="0.000" stop-color="#E4F800"/><stop offset="0.050" stop-color="#efe900"/><stop offset="0.100" stop-color="#fdd200"/><stop offset="0.150" stop-color="#ffbf00"/><stop offset="0.200" stop-color="#e0bc00"/><stop offset="0.250" stop-color="#a8c500"/><stop offset="0.300" stop-color="#66c51c"/><stop offset="0.350" stop-color="#21bf4a"/><stop offset="0.400" stop-color="#03bb6d"/><stop offset="0.450" stop-color="#00b886"/><stop offset="0.500" stop-color="#00b6a7"/><stop offset="0.550" stop-color="#03b0c5"/><stop offset="0.600" stop-color="#0ba6d2"/><stop offset="0.650" stop-color="#169bd3"/><stop offset="0.700" stop-color="#228dd0"/><stop offset="0.750" stop-color="#307bca"/><stop offset="0.800" stop-color="#3e66c2"/><stop offset="0.850" stop-color="#464cb8"/><stop offset="0.900" stop-color="#4334ab"/><stop offset="0.950" stop-color="#3e239f"/><stop offset="1.000" stop-color="#38148e"/></linearGradient></defs>
<rect x="1018.1" y="446.2" width="6.699999999999932" height="104.80000000000001" fill="url(#cbD)"/>
<text x="1027.8" y="452.2" font-size="9.2" font-weight="normal" text-anchor="start" fill="#4a4a4a" >1.4</text>
<text x="1027.8" y="484.3" font-size="9.2" font-weight="normal" text-anchor="start" fill="#4a4a4a" >1</text>
<text x="1027.8" y="518.4000000000001" font-size="9.2" font-weight="normal" text-anchor="start" fill="#4a4a4a" >0.6</text>
<text x="1027.8" y="551.9000000000001" font-size="9.2" font-weight="normal" text-anchor="start" fill="#4a4a4a" >best</text>
<rect x="319.8" y="43.3" width="411.2" height="222.1" fill="none" stroke="#d8d8d8" stroke-width="1.5"/>
<rect x="320.4" y="334.2" width="410.1" height="223.5" fill="none" stroke="#d8d8d8" stroke-width="1.5"/>
<text x="363.3" y="292.7" font-size="12.9" fill="#222">Best fit for forcing transition from <tspan font-weight="bold">sleep to awake</tspan> (sync)</text>
<text x="361.1" y="585.2" font-size="12.9" fill="#222">Best fit for forcing transition from <tspan font-weight="bold">awake to sleep</tspan> (noise)</text>
<defs><linearGradient id="bcb" x1="0" y1="0" x2="0" y2="1"><stop offset="0" stop-color="#9b2346"/><stop offset="0.3" stop-color="#bb4446"/><stop offset="0.55" stop-color="#e88a52"/><stop offset="0.75" stop-color="#f6bd7c"/><stop offset="1" stop-color="#fff5c6"/></linearGradient></defs><defs><filter id="fb" x="-10%" y="-10%" width="120%" height="120%"><feGaussianBlur stdDeviation="0.8"/></filter><filter id="fs" x="-30%" y="-30%" width="160%" height="160%"><feGaussianBlur stdDeviation="2.2"/></filter></defs>
<clipPath id="clip0"><path d="M334.6,110.4C334.6,109.0 335.3,107.0 335.5,105.3C335.7,103.5 335.3,101.8 335.8,100.1C336.3,98.4 337.8,96.8 338.5,95.1C339.2,93.4 339.3,91.4 340.1,89.7C340.9,88.0 342.2,86.4 343.3,84.8C344.5,83.2 345.4,81.6 347.0,80.2C348.5,78.8 350.9,77.9 352.6,76.5C354.4,75.0 355.6,72.8 357.3,71.6C359.1,70.3 361.3,69.8 363.4,68.9C365.4,68.1 367.3,67.2 369.4,66.4C371.6,65.6 374.1,64.9 376.4,64.0C378.7,63.2 380.9,61.9 383.2,61.2C385.6,60.6 388.0,60.8 390.3,60.2C392.6,59.7 395.2,58.4 397.0,57.8C398.9,57.1 399.9,56.8 401.4,56.3C402.8,55.8 404.2,55.0 405.7,54.8C407.1,54.7 408.6,55.5 410.0,55.4C411.5,55.3 412.9,54.2 414.3,54.3C415.7,54.4 417.1,55.6 418.6,56.1C420.0,56.7 421.6,57.0 422.9,57.8C424.3,58.6 425.4,60.1 426.9,61.0C428.3,61.9 430.0,62.1 431.6,62.9C433.2,63.8 434.7,65.3 436.4,66.2C438.2,67.0 440.5,67.1 441.9,68.1C443.4,69.1 444.1,70.8 445.3,72.1C446.4,73.4 447.6,74.4 448.8,75.9C450.1,77.3 451.6,79.0 452.8,80.8C453.9,82.5 454.8,84.4 455.7,86.3C456.7,88.1 457.5,90.1 458.7,91.8C459.8,93.5 461.5,94.9 462.6,96.6C463.7,98.3 464.2,100.3 465.3,102.0C466.3,103.8 468.0,105.3 468.7,107.0C469.4,108.6 469.2,110.4 469.3,112.1C469.5,113.9 469.7,115.7 469.6,117.3C469.4,119.0 469.1,120.5 468.5,121.9C468.0,123.4 467.1,125.0 466.1,126.0C465.1,126.9 463.8,126.9 462.7,127.4C461.5,127.8 460.6,128.3 459.2,128.5C457.7,128.8 455.7,128.7 454.0,128.8C452.3,128.9 450.5,129.0 448.8,129.4C447.1,129.8 445.5,130.8 443.8,131.1C442.1,131.4 440.2,130.8 438.5,131.1C436.8,131.5 435.2,132.2 433.8,133.1C432.3,133.9 431.3,135.2 429.8,136.3C428.4,137.4 426.7,138.6 424.9,139.5C423.2,140.3 421.4,140.8 419.5,141.5C417.5,142.2 415.3,142.9 413.3,143.7C411.3,144.6 409.4,145.8 407.4,146.7C405.4,147.5 403.1,147.8 401.1,148.7C399.1,149.6 397.1,151.6 395.3,151.8C393.5,152.1 392.0,150.6 390.3,150.3C388.5,150.0 386.5,150.6 385.0,150.1C383.4,149.6 382.3,148.1 380.8,147.2C379.4,146.4 377.5,146.0 376.3,144.9C375.1,143.9 374.4,142.3 373.7,140.9C373.0,139.4 372.6,137.6 372.0,136.3C371.5,135.1 371.0,134.2 370.3,133.4C369.6,132.5 369.0,131.6 367.7,131.1C366.4,130.6 364.2,130.7 362.5,130.4C360.8,130.1 359.1,129.7 357.3,129.4C355.6,129.1 353.9,129.1 352.1,128.8C350.4,128.5 348.5,128.3 347.0,127.7C345.4,127.0 344.2,125.8 342.8,124.9C341.3,124.0 339.4,123.3 338.4,122.5C337.3,121.7 337.1,120.8 336.6,120.0C336.0,119.1 335.1,118.3 334.9,117.3C334.7,116.3 335.5,115.0 335.5,113.8C335.4,112.7 334.6,111.8 334.6,110.4Z"/></clipPath>
<path d="M334.6,110.4C334.6,109.0 335.3,107.0 335.5,105.3C335.7,103.5 335.3,101.8 335.8,100.1C336.3,98.4 337.8,96.8 338.5,95.1C339.2,93.4 339.3,91.4 340.1,89.7C340.9,88.0 342.2,86.4 343.3,84.8C344.5,83.2 345.4,81.6 347.0,80.2C348.5,78.8 350.9,77.9 352.6,76.5C354.4,75.0 355.6,72.8 357.3,71.6C359.1,70.3 361.3,69.8 363.4,68.9C365.4,68.1 367.3,67.2 369.4,66.4C371.6,65.6 374.1,64.9 376.4,64.0C378.7,63.2 380.9,61.9 383.2,61.2C385.6,60.6 388.0,60.8 390.3,60.2C392.6,59.7 395.2,58.4 397.0,57.8C398.9,57.1 399.9,56.8 401.4,56.3C402.8,55.8 404.2,55.0 405.7,54.8C407.1,54.7 408.6,55.5 410.0,55.4C411.5,55.3 412.9,54.2 414.3,54.3C415.7,54.4 417.1,55.6 418.6,56.1C420.0,56.7 421.6,57.0 422.9,57.8C424.3,58.6 425.4,60.1 426.9,61.0C428.3,61.9 430.0,62.1 431.6,62.9C433.2,63.8 434.7,65.3 436.4,66.2C438.2,67.0 440.5,67.1 441.9,68.1C443.4,69.1 444.1,70.8 445.3,72.1C446.4,73.4 447.6,74.4 448.8,75.9C450.1,77.3 451.6,79.0 452.8,80.8C453.9,82.5 454.8,84.4 455.7,86.3C456.7,88.1 457.5,90.1 458.7,91.8C459.8,93.5 461.5,94.9 462.6,96.6C463.7,98.3 464.2,100.3 465.3,102.0C466.3,103.8 468.0,105.3 468.7,107.0C469.4,108.6 469.2,110.4 469.3,112.1C469.5,113.9 469.7,115.7 469.6,117.3C469.4,119.0 469.1,120.5 468.5,121.9C468.0,123.4 467.1,125.0 466.1,126.0C465.1,126.9 463.8,126.9 462.7,127.4C461.5,127.8 460.6,128.3 459.2,128.5C457.7,128.8 455.7,128.7 454.0,128.8C452.3,128.9 450.5,129.0 448.8,129.4C447.1,129.8 445.5,130.8 443.8,131.1C442.1,131.4 440.2,130.8 438.5,131.1C436.8,131.5 435.2,132.2 433.8,133.1C432.3,133.9 431.3,135.2 429.8,136.3C428.4,137.4 426.7,138.6 424.9,139.5C423.2,140.3 421.4,140.8 419.5,141.5C417.5,142.2 415.3,142.9 413.3,143.7C411.3,144.6 409.4,145.8 407.4,146.7C405.4,147.5 403.1,147.8 401.1,148.7C399.1,149.6 397.1,151.6 395.3,151.8C393.5,152.1 392.0,150.6 390.3,150.3C388.5,150.0 386.5,150.6 385.0,150.1C383.4,149.6 382.3,148.1 380.8,147.2C379.4,146.4 377.5,146.0 376.3,144.9C375.1,143.9 374.4,142.3 373.7,140.9C373.0,139.4 372.6,137.6 372.0,136.3C371.5,135.1 371.0,134.2 370.3,133.4C369.6,132.5 369.0,131.6 367.7,131.1C366.4,130.6 364.2,130.7 362.5,130.4C360.8,130.1 359.1,129.7 357.3,129.4C355.6,129.1 353.9,129.1 352.1,128.8C350.4,128.5 348.5,128.3 347.0,127.7C345.4,127.0 344.2,125.8 342.8,124.9C341.3,124.0 339.4,123.3 338.4,122.5C337.3,121.7 337.1,120.8 336.6,120.0C336.0,119.1 335.1,118.3 334.9,117.3C334.7,116.3 335.5,115.0 335.5,113.8C335.4,112.7 334.6,111.8 334.6,110.4Z" fill="#efdf9f" stroke="none" stroke-width="0" />
<g clip-path="url(#clip0)">
<path d="M379.8,101.8C382.3,99.7 388.4,100.8 392.8,100.2C397.1,99.6 401.4,99.1 405.7,98.3C410.0,97.6 414.3,96.4 418.6,95.6C422.9,94.7 428.4,93.0 431.6,93.2C434.7,93.3 435.9,95.0 437.6,96.5C439.3,97.9 441.8,99.2 441.9,101.8C442.1,104.4 439.5,108.7 438.4,112.1C437.2,115.6 437.3,120.0 435.0,122.5C432.7,125.0 428.1,125.4 424.7,126.8C421.2,128.3 417.7,129.7 414.3,131.1C410.9,132.6 407.5,134.3 404.1,135.7C400.6,137.1 396.5,139.2 393.6,139.8C390.7,140.3 389.0,138.8 386.7,138.8C384.4,138.8 381.2,140.9 379.8,139.8C378.3,138.6 378.6,134.6 378.0,132.0C377.4,129.4 376.4,127.4 376.3,124.2C376.3,121.1 377.1,116.7 377.7,112.9C378.2,109.2 377.3,103.9 379.8,101.8Z" fill="#ece6bd" stroke="none" stroke-width="0" />
<path d="M371.2,132.9C371.4,131.6 374.0,132.4 375.5,132.1C376.9,131.8 378.8,130.3 379.8,131.1C380.7,132.0 380.8,135.1 381.1,137.1C381.4,139.1 382.0,141.8 381.5,143.2C381.0,144.6 379.4,144.8 378.3,145.4C377.1,146.0 375.3,147.7 374.6,146.7C373.9,145.7 374.5,141.8 374.0,139.5C373.4,137.2 370.9,134.1 371.2,132.9Z" fill="#e8bf7a" stroke="none" stroke-width="0" />
<path d="M455.7,87.1C456.1,86.8 457.1,88.6 458.0,89.1C458.9,89.5 460.2,89.0 460.9,89.7C461.6,90.4 462.1,91.9 462.3,93.0C462.6,94.2 463.1,96.1 462.6,96.6C462.2,97.2 460.7,96.6 459.9,96.3C459.0,96.0 458.2,95.7 457.5,94.9C456.7,94.0 455.8,92.5 455.5,91.2C455.3,89.9 455.3,87.5 455.7,87.1Z" fill="#b8304a" stroke="none" stroke-width="0" />
<g filter="url(#fs)" opacity="0.35">
<path d="M393.6,107.0C397.0,104.1 404.5,102.9 410.9,101.8C417.2,100.6 427.0,99.2 431.6,100.1C436.2,100.9 439.6,104.4 438.5,107.0C437.3,109.6 430.4,113.3 424.7,115.6C418.9,117.9 409.7,120.2 404.0,120.8C398.2,121.4 391.9,121.4 390.1,119.0C388.4,116.7 390.1,109.8 393.6,107.0Z" fill="#9c7e44" stroke="none" stroke-width="0" />
<path d="M353.9,101.8C355.6,99.2 363.4,97.8 367.7,98.3C372.0,98.9 378.9,102.6 379.8,105.2C380.6,107.8 376.6,112.4 372.9,113.9C369.1,115.3 360.5,115.9 357.3,113.9C354.2,111.9 352.2,104.4 353.9,101.8Z" fill="#9c7e44" stroke="none" stroke-width="0" />
<path d="M400.5,70.7C403.4,68.1 413.7,67.3 417.8,69.0C421.8,70.7 425.8,77.9 424.7,81.1C423.5,84.2 414.9,87.4 410.9,88.0C406.8,88.6 402.2,87.4 400.5,84.5C398.8,81.6 397.6,73.3 400.5,70.7Z" fill="#9c7e44" stroke="none" stroke-width="0" />
</g>
<defs><path id="sLL" d="M372.9,124.2L376.8,124.1L380.0,122.3L383.0,119.8L386.3,118.1L389.8,116.9L393.6,116.3L397.4,115.8L400.8,114.2L404.0,112.3L407.3,110.6L410.5,108.4L414.1,107.4L417.6,106.3L421.5,105.9L425.2,104.6L428.2,102.0L431.5,99.9L434.6,97.7L436.9,95.3L440.0,93.8L443.3,92.5L445.4,89.7M378.1,139.8L381.6,138.8L384.6,136.9L387.6,134.9L390.5,132.9L393.2,130.5L396.1,128.9L399.2,127.9L402.5,127.4L405.6,126.4L408.3,124.6L410.7,122.1L414.0,120.2L417.4,118.8L421.2,118.3L425.0,117.9L428.7,116.8L431.5,114.5L434.0,111.9L436.6,109.5L440.2,108.7M410.9,56.9L409.5,59.9L409.7,63.2L409.6,66.4L409.0,69.5L408.0,72.6L406.1,75.5L404.1,78.3L403.8,81.6L403.6,85.0L402.8,88.2L402.1,91.4L400.2,94.2L398.6,97.1L397.0,100.0L397.0,103.5M397.0,60.4L395.3,63.3L394.5,66.7L393.9,70.1L392.7,73.3L390.5,76.0L388.4,78.8L387.2,81.9L386.7,85.2L387.0,88.6L386.7,91.9L386.0,95.2L384.6,98.0L382.9,100.8L381.6,103.7L381.5,107.0M424.7,60.4L424.8,64.0L423.6,67.3L422.0,70.6L420.8,73.9L420.1,77.4L420.7,81.1L420.6,84.7L419.9,88.1L418.9,91.5L417.8,94.9M359.1,81.1L362.4,79.2L366.2,78.1L369.8,76.7L373.0,74.6L376.3,73.4L379.6,71.6L383.0,70.8L386.7,70.7M345.3,101.8L348.7,100.0L351.9,97.8L355.0,95.4L358.9,94.3L362.2,94.7L365.4,94.8L368.5,94.8L371.5,93.4L374.4,92.5L376.5,90.3L379.3,89.0L382.5,88.2L385.0,86.3M428.1,79.3L430.7,81.6L434.3,81.6L437.5,82.6L440.8,83.4L443.5,86.2L445.7,89.6L448.8,91.7L452.3,93.2M338.4,119.0L341.3,117.6L344.3,116.4L347.6,116.6L350.8,116.2L353.9,116.5L357.1,117.6L360.8,117.3L364.4,117.6L367.7,119.0M438.5,70.7L441.1,72.7L442.6,75.5L443.8,78.4L445.4,81.1M448.8,110.4L452.5,111.7L456.1,113.2L459.2,114.9L462.7,114.0L466.1,112.1M385.0,146.7L387.9,145.0L391.0,143.5L394.2,142.4L397.6,142.0L401.1,141.7L404.2,140.4L407.1,138.6L409.6,136.3L412.4,134.5L415.6,133.4L418.9,132.8L422.0,131.5L425.0,130.2L427.7,128.3L430.7,126.9L433.6,125.0L437.0,124.9L440.2,124.2M353.9,88.0L355.0,91.1L357.5,93.4L359.7,95.9L361.7,98.4L362.8,101.5L365.2,103.9L367.8,106.0L371.2,107.0M431.6,91.4L432.3,94.7L434.4,97.0L436.7,99.2L439.0,100.8L441.9,100.7L445.4,101.7L448.8,101.8M353.9,82.8L357.5,81.4L361.3,80.4L364.4,78.0L367.7,76.0L370.1,73.1L373.4,71.9L376.7,70.6L380.1,69.8L383.6,69.5L386.8,67.7L390.1,66.0L393.6,65.5M340.1,98.3L342.6,95.7L344.6,92.5L347.1,89.8L350.2,87.6L353.6,87.7L356.7,87.1L359.7,86.2L362.4,84.2L365.5,81.9L368.9,80.1L372.6,78.8L376.2,78.2L379.4,76.7L382.4,75.0L385.0,72.4M341.8,115.6L344.4,112.9L347.5,110.8L350.6,108.8L354.2,107.7L357.6,107.2L361.0,106.0L364.1,104.0L367.3,102.3L370.3,101.3L373.7,100.8L376.9,100.0L379.8,98.3M364.3,110.4L366.6,113.0L370.0,114.0L373.3,114.8L376.8,116.4L379.8,119.0M448.8,94.9L451.2,97.1L452.5,99.9L453.5,103.0L455.1,106.0L458.8,107.8L462.6,108.7M431.6,65.5L430.6,69.5L429.3,73.4L428.7,78.0L432.7,79.9L436.0,81.7L438.5,84.5"/></defs>
<g fill="none" stroke-linecap="round" stroke-linejoin="round"><use href="#sLL" stroke="#8f7038" stroke-width="3.6" opacity="0.42"/><use href="#sLL" stroke="#5a4424" stroke-width="1.1" opacity="0.85"/><use href="#sLL" transform="translate(1.3,1.5)" stroke="#fff8d8" stroke-width="1.2" opacity="0.45"/></g>
<path d="M334.6,110.4C334.6,109.0 335.3,107.0 335.5,105.3C335.7,103.5 335.3,101.8 335.8,100.1C336.3,98.4 337.8,96.8 338.5,95.1C339.2,93.4 339.3,91.4 340.1,89.7C340.9,88.0 342.2,86.4 343.3,84.8C344.5,83.2 345.4,81.6 347.0,80.2C348.5,78.8 350.9,77.9 352.6,76.5C354.4,75.0 355.6,72.8 357.3,71.6C359.1,70.3 361.3,69.8 363.4,68.9C365.4,68.1 367.3,67.2 369.4,66.4C371.6,65.6 374.1,64.9 376.4,64.0C378.7,63.2 380.9,61.9 383.2,61.2C385.6,60.6 388.0,60.8 390.3,60.2C392.6,59.7 395.2,58.4 397.0,57.8C398.9,57.1 399.9,56.8 401.4,56.3C402.8,55.8 404.2,55.0 405.7,54.8C407.1,54.7 408.6,55.5 410.0,55.4C411.5,55.3 412.9,54.2 414.3,54.3C415.7,54.4 417.1,55.6 418.6,56.1C420.0,56.7 421.6,57.0 422.9,57.8C424.3,58.6 425.4,60.1 426.9,61.0C428.3,61.9 430.0,62.1 431.6,62.9C433.2,63.8 434.7,65.3 436.4,66.2C438.2,67.0 440.5,67.1 441.9,68.1C443.4,69.1 444.1,70.8 445.3,72.1C446.4,73.4 447.6,74.4 448.8,75.9C450.1,77.3 451.6,79.0 452.8,80.8C453.9,82.5 454.8,84.4 455.7,86.3C456.7,88.1 457.5,90.1 458.7,91.8C459.8,93.5 461.5,94.9 462.6,96.6C463.7,98.3 464.2,100.3 465.3,102.0C466.3,103.8 468.0,105.3 468.7,107.0C469.4,108.6 469.2,110.4 469.3,112.1C469.5,113.9 469.7,115.7 469.6,117.3C469.4,119.0 469.1,120.5 468.5,121.9C468.0,123.4 467.1,125.0 466.1,126.0C465.1,126.9 463.8,126.9 462.7,127.4C461.5,127.8 460.6,128.3 459.2,128.5C457.7,128.8 455.7,128.7 454.0,128.8C452.3,128.9 450.5,129.0 448.8,129.4C447.1,129.8 445.5,130.8 443.8,131.1C442.1,131.4 440.2,130.8 438.5,131.1C436.8,131.5 435.2,132.2 433.8,133.1C432.3,133.9 431.3,135.2 429.8,136.3C428.4,137.4 426.7,138.6 424.9,139.5C423.2,140.3 421.4,140.8 419.5,141.5C417.5,142.2 415.3,142.9 413.3,143.7C411.3,144.6 409.4,145.8 407.4,146.7C405.4,147.5 403.1,147.8 401.1,148.7C399.1,149.6 397.1,151.6 395.3,151.8C393.5,152.1 392.0,150.6 390.3,150.3C388.5,150.0 386.5,150.6 385.0,150.1C383.4,149.6 382.3,148.1 380.8,147.2C379.4,146.4 377.5,146.0 376.3,144.9C375.1,143.9 374.4,142.3 373.7,140.9C373.0,139.4 372.6,137.6 372.0,136.3C371.5,135.1 371.0,134.2 370.3,133.4C369.6,132.5 369.0,131.6 367.7,131.1C366.4,130.6 364.2,130.7 362.5,130.4C360.8,130.1 359.1,129.7 357.3,129.4C355.6,129.1 353.9,129.1 352.1,128.8C350.4,128.5 348.5,128.3 347.0,127.7C345.4,127.0 344.2,125.8 342.8,124.9C341.3,124.0 339.4,123.3 338.4,122.5C337.3,121.7 337.1,120.8 336.6,120.0C336.0,119.1 335.1,118.3 334.9,117.3C334.7,116.3 335.5,115.0 335.5,113.8C335.4,112.7 334.6,111.8 334.6,110.4Z" fill="none" stroke="#b79a5a" stroke-width="3.5" opacity="0.6"/>
</g>
<path d="M334.6,110.4C334.6,109.0 335.3,107.0 335.5,105.3C335.7,103.5 335.3,101.8 335.8,100.1C336.3,98.4 337.8,96.8 338.5,95.1C339.2,93.4 339.3,91.4 340.1,89.7C340.9,88.0 342.2,86.4 343.3,84.8C344.5,83.2 345.4,81.6 347.0,80.2C348.5,78.8 350.9,77.9 352.6,76.5C354.4,75.0 355.6,72.8 357.3,71.6C359.1,70.3 361.3,69.8 363.4,68.9C365.4,68.1 367.3,67.2 369.4,66.4C371.6,65.6 374.1,64.9 376.4,64.0C378.7,63.2 380.9,61.9 383.2,61.2C385.6,60.6 388.0,60.8 390.3,60.2C392.6,59.7 395.2,58.4 397.0,57.8C398.9,57.1 399.9,56.8 401.4,56.3C402.8,55.8 404.2,55.0 405.7,54.8C407.1,54.7 408.6,55.5 410.0,55.4C411.5,55.3 412.9,54.2 414.3,54.3C415.7,54.4 417.1,55.6 418.6,56.1C420.0,56.7 421.6,57.0 422.9,57.8C424.3,58.6 425.4,60.1 426.9,61.0C428.3,61.9 430.0,62.1 431.6,62.9C433.2,63.8 434.7,65.3 436.4,66.2C438.2,67.0 440.5,67.1 441.9,68.1C443.4,69.1 444.1,70.8 445.3,72.1C446.4,73.4 447.6,74.4 448.8,75.9C450.1,77.3 451.6,79.0 452.8,80.8C453.9,82.5 454.8,84.4 455.7,86.3C456.7,88.1 457.5,90.1 458.7,91.8C459.8,93.5 461.5,94.9 462.6,96.6C463.7,98.3 464.2,100.3 465.3,102.0C466.3,103.8 468.0,105.3 468.7,107.0C469.4,108.6 469.2,110.4 469.3,112.1C469.5,113.9 469.7,115.7 469.6,117.3C469.4,119.0 469.1,120.5 468.5,121.9C468.0,123.4 467.1,125.0 466.1,126.0C465.1,126.9 463.8,126.9 462.7,127.4C461.5,127.8 460.6,128.3 459.2,128.5C457.7,128.8 455.7,128.7 454.0,128.8C452.3,128.9 450.5,129.0 448.8,129.4C447.1,129.8 445.5,130.8 443.8,131.1C442.1,131.4 440.2,130.8 438.5,131.1C436.8,131.5 435.2,132.2 433.8,133.1C432.3,133.9 431.3,135.2 429.8,136.3C428.4,137.4 426.7,138.6 424.9,139.5C423.2,140.3 421.4,140.8 419.5,141.5C417.5,142.2 415.3,142.9 413.3,143.7C411.3,144.6 409.4,145.8 407.4,146.7C405.4,147.5 403.1,147.8 401.1,148.7C399.1,149.6 397.1,151.6 395.3,151.8C393.5,152.1 392.0,150.6 390.3,150.3C388.5,150.0 386.5,150.6 385.0,150.1C383.4,149.6 382.3,148.1 380.8,147.2C379.4,146.4 377.5,146.0 376.3,144.9C375.1,143.9 374.4,142.3 373.7,140.9C373.0,139.4 372.6,137.6 372.0,136.3C371.5,135.1 371.0,134.2 370.3,133.4C369.6,132.5 369.0,131.6 367.7,131.1C366.4,130.6 364.2,130.7 362.5,130.4C360.8,130.1 359.1,129.7 357.3,129.4C355.6,129.1 353.9,129.1 352.1,128.8C350.4,128.5 348.5,128.3 347.0,127.7C345.4,127.0 344.2,125.8 342.8,124.9C341.3,124.0 339.4,123.3 338.4,122.5C337.3,121.7 337.1,120.8 336.6,120.0C336.0,119.1 335.1,118.3 334.9,117.3C334.7,116.3 335.5,115.0 335.5,113.8C335.4,112.7 334.6,111.8 334.6,110.4Z" fill="none" stroke="#4e402c" stroke-width="0.8" />
<clipPath id="clip16"><path d="M550.6,122.5C550.5,120.9 551.1,117.3 551.2,114.7C551.2,112.2 550.6,109.4 551.1,107.0C551.7,104.6 553.5,102.6 554.4,100.3C555.3,98.0 555.6,95.4 556.6,93.2C557.7,90.9 559.3,89.0 560.7,87.0C562.2,84.9 563.7,82.8 565.3,81.1C566.8,79.3 568.7,78.1 570.1,76.4C571.6,74.6 572.1,72.5 573.9,70.7C575.7,68.9 578.5,67.2 580.8,65.5C583.1,63.8 585.5,61.6 587.7,60.4C589.9,59.1 591.8,58.8 593.8,58.0C595.9,57.1 597.6,55.5 599.8,55.2C601.9,54.8 604.4,55.9 606.7,55.9C609.0,55.9 611.4,54.9 613.6,55.2C615.8,55.5 617.6,56.9 619.6,57.8C621.7,58.6 623.6,59.5 625.7,60.4C627.8,61.2 630.1,62.3 632.4,62.9C634.7,63.4 637.3,63.2 639.5,63.8C641.7,64.4 643.5,65.6 645.5,66.5C647.5,67.4 649.5,67.8 651.6,69.0C653.7,70.2 655.8,72.5 658.1,73.9C660.4,75.4 663.4,75.9 665.4,77.6C667.4,79.3 668.3,82.1 670.0,84.1C671.8,86.1 674.2,87.8 675.7,89.7C677.3,91.7 678.2,93.8 679.5,95.8C680.8,97.8 682.5,99.8 683.5,101.8C684.5,103.8 684.9,105.7 685.4,107.7C685.8,109.7 686.4,112.0 686.1,113.9C685.8,115.7 684.3,117.1 683.8,118.8C683.2,120.6 683.7,122.8 682.6,124.2C681.6,125.6 678.9,126.1 677.2,127.3C675.5,128.4 674.2,130.0 672.3,131.1C670.3,132.2 667.8,133.1 665.5,133.9C663.2,134.8 660.3,135.6 658.5,136.3C656.6,137.0 655.8,137.6 654.3,137.9C652.9,138.2 650.8,137.6 649.8,138.0C648.9,138.5 649.1,139.8 648.7,140.7C648.2,141.5 648.0,142.4 647.3,143.2C646.5,144.0 645.1,144.8 644.1,145.7C643.1,146.5 642.6,147.7 641.2,148.4C639.9,149.1 637.8,149.5 636.1,149.6C634.4,149.8 632.8,150.1 630.9,149.3C628.9,148.4 626.6,146.0 624.3,144.7C622.0,143.4 619.5,142.7 617.0,141.5C614.6,140.3 612.1,139.1 609.8,137.7C607.5,136.3 605.5,134.2 603.2,132.9C601.0,131.6 598.8,130.8 596.5,129.9C594.2,129.1 591.7,128.3 589.4,127.7C587.1,127.1 584.9,126.5 582.6,126.2C580.3,125.9 577.9,126.2 575.6,126.0C573.3,125.7 571.1,124.7 568.8,124.4C566.5,124.1 563.7,124.2 561.8,124.2C559.9,124.3 558.9,124.5 557.4,124.8C556.0,125.1 554.2,126.0 553.2,126.0C552.2,125.9 551.9,125.1 551.4,124.6C551.0,124.0 550.6,124.1 550.6,122.5Z"/></clipPath>
<path d="M550.6,122.5C550.5,120.9 551.1,117.3 551.2,114.7C551.2,112.2 550.6,109.4 551.1,107.0C551.7,104.6 553.5,102.6 554.4,100.3C555.3,98.0 555.6,95.4 556.6,93.2C557.7,90.9 559.3,89.0 560.7,87.0C562.2,84.9 563.7,82.8 565.3,81.1C566.8,79.3 568.7,78.1 570.1,76.4C571.6,74.6 572.1,72.5 573.9,70.7C575.7,68.9 578.5,67.2 580.8,65.5C583.1,63.8 585.5,61.6 587.7,60.4C589.9,59.1 591.8,58.8 593.8,58.0C595.9,57.1 597.6,55.5 599.8,55.2C601.9,54.8 604.4,55.9 606.7,55.9C609.0,55.9 611.4,54.9 613.6,55.2C615.8,55.5 617.6,56.9 619.6,57.8C621.7,58.6 623.6,59.5 625.7,60.4C627.8,61.2 630.1,62.3 632.4,62.9C634.7,63.4 637.3,63.2 639.5,63.8C641.7,64.4 643.5,65.6 645.5,66.5C647.5,67.4 649.5,67.8 651.6,69.0C653.7,70.2 655.8,72.5 658.1,73.9C660.4,75.4 663.4,75.9 665.4,77.6C667.4,79.3 668.3,82.1 670.0,84.1C671.8,86.1 674.2,87.8 675.7,89.7C677.3,91.7 678.2,93.8 679.5,95.8C680.8,97.8 682.5,99.8 683.5,101.8C684.5,103.8 684.9,105.7 685.4,107.7C685.8,109.7 686.4,112.0 686.1,113.9C685.8,115.7 684.3,117.1 683.8,118.8C683.2,120.6 683.7,122.8 682.6,124.2C681.6,125.6 678.9,126.1 677.2,127.3C675.5,128.4 674.2,130.0 672.3,131.1C670.3,132.2 667.8,133.1 665.5,133.9C663.2,134.8 660.3,135.6 658.5,136.3C656.6,137.0 655.8,137.6 654.3,137.9C652.9,138.2 650.8,137.6 649.8,138.0C648.9,138.5 649.1,139.8 648.7,140.7C648.2,141.5 648.0,142.4 647.3,143.2C646.5,144.0 645.1,144.8 644.1,145.7C643.1,146.5 642.6,147.7 641.2,148.4C639.9,149.1 637.8,149.5 636.1,149.6C634.4,149.8 632.8,150.1 630.9,149.3C628.9,148.4 626.6,146.0 624.3,144.7C622.0,143.4 619.5,142.7 617.0,141.5C614.6,140.3 612.1,139.1 609.8,137.7C607.5,136.3 605.5,134.2 603.2,132.9C601.0,131.6 598.8,130.8 596.5,129.9C594.2,129.1 591.7,128.3 589.4,127.7C587.1,127.1 584.9,126.5 582.6,126.2C580.3,125.9 577.9,126.2 575.6,126.0C573.3,125.7 571.1,124.7 568.8,124.4C566.5,124.1 563.7,124.2 561.8,124.2C559.9,124.3 558.9,124.5 557.4,124.8C556.0,125.1 554.2,126.0 553.2,126.0C552.2,125.9 551.9,125.1 551.4,124.6C551.0,124.0 550.6,124.1 550.6,122.5Z" fill="#efdf9f" stroke="none" stroke-width="0" />
<g clip-path="url(#clip16)">
<path d="M568.7,94.9C571.0,94.5 576.2,97.3 579.9,98.5C583.6,99.6 587.1,100.1 591.2,101.8C595.2,103.5 599.9,106.2 604.2,108.5C608.5,110.8 613.1,113.9 617.0,115.6C621.0,117.3 624.5,117.3 627.9,118.7C631.4,120.1 635.4,122.0 637.8,124.2C640.1,126.5 640.5,129.5 642.0,132.0C643.4,134.6 646.7,137.9 646.4,139.8C646.1,141.6 642.4,142.1 640.4,143.2C638.4,144.4 637.1,146.6 634.3,146.7C631.6,146.7 627.3,144.6 623.9,143.5C620.4,142.3 617.1,141.4 613.6,139.8C610.1,138.1 606.5,135.4 602.8,133.7C599.0,132.0 594.8,130.7 591.2,129.4C587.5,128.1 584.2,127.1 580.8,126.0C577.3,124.8 572.7,124.4 570.4,122.5C568.2,120.6 568.3,117.5 567.5,114.9C566.6,112.3 565.5,109.3 565.3,107.0C565.0,104.6 565.5,102.7 566.1,100.7C566.7,98.7 566.4,95.2 568.7,94.9Z" fill="#ece8c4" stroke="none" stroke-width="0" />
<path d="M549.7,105.2C549.8,104.2 550.8,105.9 551.4,106.2C552.0,106.5 552.9,105.8 553.2,107.0C553.5,108.1 553.4,111.0 553.2,113.0C553.1,115.1 552.7,118.0 552.3,119.0C551.9,120.1 551.5,119.6 551.0,119.6C550.6,119.6 549.8,120.3 549.7,119.0C549.7,117.8 550.8,114.4 550.8,112.1C550.8,109.8 549.6,106.2 549.7,105.2Z" fill="#b8304a" stroke="none" stroke-width="0" />
<g filter="url(#fs)" opacity="0.35">
<path d="M599.8,107.0C603.5,105.8 614.2,106.7 620.5,108.7C626.8,110.7 635.5,116.2 637.8,119.0C640.1,121.9 638.3,125.4 634.3,126.0C630.3,126.5 619.6,124.2 613.6,122.5C607.6,120.8 600.4,118.2 598.1,115.6C595.8,113.0 596.0,108.1 599.8,107.0Z" fill="#9c7e44" stroke="none" stroke-width="0" />
<path d="M637.8,93.2C641.2,92.6 653.3,95.7 658.5,98.3C663.7,100.9 669.4,106.7 668.8,108.7C668.3,110.7 660.2,111.6 655.0,110.4C649.8,109.3 640.6,104.7 637.8,101.8C634.9,98.9 634.3,93.7 637.8,93.2Z" fill="#9c7e44" stroke="none" stroke-width="0" />
<path d="M592.9,70.7C594.6,67.5 606.7,66.7 610.1,69.0C613.6,71.3 615.3,81.4 613.6,84.5C611.9,87.7 603.2,90.3 599.8,88.0C596.3,85.7 591.2,73.9 592.9,70.7Z" fill="#9c7e44" stroke="none" stroke-width="0" />
</g>
<defs><path id="sRL" d="M582.5,107.0L585.9,108.6L589.4,108.3L592.9,107.4L596.4,107.3L600.0,107.8L603.2,109.8L606.4,111.7L609.9,112.5L613.6,113.0L617.1,113.7L620.9,114.3L624.2,116.0L627.5,117.7L630.6,120.1L633.7,121.8L636.5,123.1L639.2,124.8L642.0,126.4L644.7,128.2L646.4,131.1M573.9,112.1L576.4,114.4L579.3,115.7L582.3,116.8L585.4,117.9L588.6,118.7L591.5,120.0L594.8,121.8L597.8,124.2L601.1,125.9L604.7,127.0L608.6,127.3L611.7,128.3L614.6,129.6L617.1,131.9L619.5,134.3L622.2,136.1L625.4,136.9L629.2,137.8L633.1,138.8L636.6,140.4L639.5,143.2M606.7,56.9L605.6,60.3L606.2,63.8L606.5,67.3L606.2,70.8L605.6,74.2L605.1,77.7L604.6,81.2L605.7,84.6L607.0,87.9L608.5,91.2L610.2,94.5L610.6,98.3L611.9,101.8M625.7,62.1L624.6,65.1L624.5,68.3L624.7,71.7L624.2,74.8L622.6,77.6L621.7,80.8L621.7,84.0L622.4,87.0L624.0,90.0L624.0,93.2M592.9,60.4L593.4,63.6L592.5,66.6L591.2,69.6L590.4,72.7L590.0,76.0L592.1,79.3L593.3,82.6L593.9,86.1L594.4,89.6L594.6,93.2M634.3,70.7L637.3,72.0L639.8,74.0L642.6,75.8L645.6,76.9L648.7,78.0L652.0,78.6L654.9,80.7L657.6,83.0L659.8,86.0L662.6,88.1L665.4,90.2L668.8,91.4M630.9,94.9L634.0,96.2L637.3,97.1L640.7,97.8L643.5,99.9L646.3,101.9L649.3,103.8L652.3,105.5L655.9,106.0L659.4,106.9L662.8,107.8L665.7,109.6L668.8,111.9L671.9,114.1L675.5,114.9L679.2,115.6M570.4,82.8L574.6,83.3L578.4,81.3L582.6,80.4L586.4,81.0L589.6,82.9L592.9,84.5M651.6,122.5L655.0,121.8L658.5,121.2L661.9,122.1L665.4,122.4L668.9,123.4L672.4,123.3L675.7,121.6L679.1,120.6L682.6,120.8M582.5,127.7L585.9,127.9L588.7,129.4L591.5,131.2L594.0,133.6L596.8,135.0L600.1,135.6L603.5,135.7L607.1,136.8L610.5,138.2L613.7,140.3L616.6,142.9L620.5,143.2M554.9,107.0L557.1,104.4L559.6,102.1L562.2,99.9L565.3,98.5L568.9,98.7L572.3,97.9L575.6,96.6M644.7,84.5L647.6,86.2L650.4,88.1L653.0,90.4L655.1,93.1L655.5,96.5L656.9,99.5L658.6,102.4L660.2,105.2M599.8,93.2L600.9,96.4L603.4,98.8L605.4,101.2L608.3,101.6L611.1,103.2L613.9,104.8L617.0,105.2M637.8,65.5L639.9,68.3L642.9,69.6L646.0,70.8L649.4,71.5L652.3,73.4L653.8,77.2L655.3,80.7L657.3,83.8L659.6,86.7L662.8,88.4L665.6,90.6L668.3,92.7L670.1,95.6L672.3,98.3M644.7,107.0L647.2,109.3L649.5,112.1L652.7,113.5L655.7,115.3L659.0,116.1L662.0,117.1L665.4,118.1L668.7,119.5L672.3,119.0M558.4,101.8L560.1,105.2L562.6,108.3L564.6,112.0L563.1,116.6L561.8,120.8M613.6,67.3L614.6,70.6L614.9,74.1L615.1,77.6L614.2,81.1L614.2,84.8L615.9,88.3L618.3,91.3L620.4,94.5L621.2,97.6L624.0,99.4L627.3,101.0L630.9,101.8M579.1,93.2L581.4,95.8L584.8,96.7L588.3,97.7L590.3,100.7L591.7,103.8L592.9,107.0"/></defs>
<g fill="none" stroke-linecap="round" stroke-linejoin="round"><use href="#sRL" stroke="#8f7038" stroke-width="3.6" opacity="0.42"/><use href="#sRL" stroke="#5a4424" stroke-width="1.1" opacity="0.85"/><use href="#sRL" transform="translate(1.3,1.5)" stroke="#fff8d8" stroke-width="1.2" opacity="0.45"/></g>
<path d="M550.6,122.5C550.5,120.9 551.1,117.3 551.2,114.7C551.2,112.2 550.6,109.4 551.1,107.0C551.7,104.6 553.5,102.6 554.4,100.3C555.3,98.0 555.6,95.4 556.6,93.2C557.7,90.9 559.3,89.0 560.7,87.0C562.2,84.9 563.7,82.8 565.3,81.1C566.8,79.3 568.7,78.1 570.1,76.4C571.6,74.6 572.1,72.5 573.9,70.7C575.7,68.9 578.5,67.2 580.8,65.5C583.1,63.8 585.5,61.6 587.7,60.4C589.9,59.1 591.8,58.8 593.8,58.0C595.9,57.1 597.6,55.5 599.8,55.2C601.9,54.8 604.4,55.9 606.7,55.9C609.0,55.9 611.4,54.9 613.6,55.2C615.8,55.5 617.6,56.9 619.6,57.8C621.7,58.6 623.6,59.5 625.7,60.4C627.8,61.2 630.1,62.3 632.4,62.9C634.7,63.4 637.3,63.2 639.5,63.8C641.7,64.4 643.5,65.6 645.5,66.5C647.5,67.4 649.5,67.8 651.6,69.0C653.7,70.2 655.8,72.5 658.1,73.9C660.4,75.4 663.4,75.9 665.4,77.6C667.4,79.3 668.3,82.1 670.0,84.1C671.8,86.1 674.2,87.8 675.7,89.7C677.3,91.7 678.2,93.8 679.5,95.8C680.8,97.8 682.5,99.8 683.5,101.8C684.5,103.8 684.9,105.7 685.4,107.7C685.8,109.7 686.4,112.0 686.1,113.9C685.8,115.7 684.3,117.1 683.8,118.8C683.2,120.6 683.7,122.8 682.6,124.2C681.6,125.6 678.9,126.1 677.2,127.3C675.5,128.4 674.2,130.0 672.3,131.1C670.3,132.2 667.8,133.1 665.5,133.9C663.2,134.8 660.3,135.6 658.5,136.3C656.6,137.0 655.8,137.6 654.3,137.9C652.9,138.2 650.8,137.6 649.8,138.0C648.9,138.5 649.1,139.8 648.7,140.7C648.2,141.5 648.0,142.4 647.3,143.2C646.5,144.0 645.1,144.8 644.1,145.7C643.1,146.5 642.6,147.7 641.2,148.4C639.9,149.1 637.8,149.5 636.1,149.6C634.4,149.8 632.8,150.1 630.9,149.3C628.9,148.4 626.6,146.0 624.3,144.7C622.0,143.4 619.5,142.7 617.0,141.5C614.6,140.3 612.1,139.1 609.8,137.7C607.5,136.3 605.5,134.2 603.2,132.9C601.0,131.6 598.8,130.8 596.5,129.9C594.2,129.1 591.7,128.3 589.4,127.7C587.1,127.1 584.9,126.5 582.6,126.2C580.3,125.9 577.9,126.2 575.6,126.0C573.3,125.7 571.1,124.7 568.8,124.4C566.5,124.1 563.7,124.2 561.8,124.2C559.9,124.3 558.9,124.5 557.4,124.8C556.0,125.1 554.2,126.0 553.2,126.0C552.2,125.9 551.9,125.1 551.4,124.6C551.0,124.0 550.6,124.1 550.6,122.5Z" fill="none" stroke="#b79a5a" stroke-width="3.5" opacity="0.6"/>
</g>
<path d="M550.6,122.5C550.5,120.9 551.1,117.3 551.2,114.7C551.2,112.2 550.6,109.4 551.1,107.0C551.7,104.6 553.5,102.6 554.4,100.3C555.3,98.0 555.6,95.4 556.6,93.2C557.7,90.9 559.3,89.0 560.7,87.0C562.2,84.9 563.7,82.8 565.3,81.1C566.8,79.3 568.7,78.1 570.1,76.4C571.6,74.6 572.1,72.5 573.9,70.7C575.7,68.9 578.5,67.2 580.8,65.5C583.1,63.8 585.5,61.6 587.7,60.4C589.9,59.1 591.8,58.8 593.8,58.0C595.9,57.1 597.6,55.5 599.8,55.2C601.9,54.8 604.4,55.9 606.7,55.9C609.0,55.9 611.4,54.9 613.6,55.2C615.8,55.5 617.6,56.9 619.6,57.8C621.7,58.6 623.6,59.5 625.7,60.4C627.8,61.2 630.1,62.3 632.4,62.9C634.7,63.4 637.3,63.2 639.5,63.8C641.7,64.4 643.5,65.6 645.5,66.5C647.5,67.4 649.5,67.8 651.6,69.0C653.7,70.2 655.8,72.5 658.1,73.9C660.4,75.4 663.4,75.9 665.4,77.6C667.4,79.3 668.3,82.1 670.0,84.1C671.8,86.1 674.2,87.8 675.7,89.7C677.3,91.7 678.2,93.8 679.5,95.8C680.8,97.8 682.5,99.8 683.5,101.8C684.5,103.8 684.9,105.7 685.4,107.7C685.8,109.7 686.4,112.0 686.1,113.9C685.8,115.7 684.3,117.1 683.8,118.8C683.2,120.6 683.7,122.8 682.6,124.2C681.6,125.6 678.9,126.1 677.2,127.3C675.5,128.4 674.2,130.0 672.3,131.1C670.3,132.2 667.8,133.1 665.5,133.9C663.2,134.8 660.3,135.6 658.5,136.3C656.6,137.0 655.8,137.6 654.3,137.9C652.9,138.2 650.8,137.6 649.8,138.0C648.9,138.5 649.1,139.8 648.7,140.7C648.2,141.5 648.0,142.4 647.3,143.2C646.5,144.0 645.1,144.8 644.1,145.7C643.1,146.5 642.6,147.7 641.2,148.4C639.9,149.1 637.8,149.5 636.1,149.6C634.4,149.8 632.8,150.1 630.9,149.3C628.9,148.4 626.6,146.0 624.3,144.7C622.0,143.4 619.5,142.7 617.0,141.5C614.6,140.3 612.1,139.1 609.8,137.7C607.5,136.3 605.5,134.2 603.2,132.9C601.0,131.6 598.8,130.8 596.5,129.9C594.2,129.1 591.7,128.3 589.4,127.7C587.1,127.1 584.9,126.5 582.6,126.2C580.3,125.9 577.9,126.2 575.6,126.0C573.3,125.7 571.1,124.7 568.8,124.4C566.5,124.1 563.7,124.2 561.8,124.2C559.9,124.3 558.9,124.5 557.4,124.8C556.0,125.1 554.2,126.0 553.2,126.0C552.2,125.9 551.9,125.1 551.4,124.6C551.0,124.0 550.6,124.1 550.6,122.5Z" fill="none" stroke="#4e402c" stroke-width="0.8" />
<clipPath id="clip31"><path d="M334.0,217.6C334.0,216.0 334.7,214.2 334.8,212.4C335.0,210.7 334.5,209.1 334.9,207.2C335.3,205.4 336.6,203.2 337.4,201.2C338.3,199.2 339.0,197.0 340.1,195.2C341.1,193.3 342.5,191.8 343.7,190.1C344.8,188.4 345.7,186.4 347.0,184.8C348.2,183.2 349.8,181.8 351.2,180.4C352.6,178.9 353.9,177.6 355.6,176.2C357.3,174.7 359.5,173.1 361.6,171.7C363.6,170.3 365.6,168.8 367.7,167.5C369.8,166.3 372.1,165.5 374.1,164.2C376.1,162.9 378.1,160.8 379.8,159.8C381.5,158.8 383.0,158.9 384.4,158.2C385.8,157.5 386.7,155.9 388.4,155.5C390.1,155.0 392.5,155.3 394.5,155.4C396.5,155.6 398.4,155.8 400.5,156.3C402.6,156.9 405.0,158.1 407.3,158.8C409.6,159.5 411.7,159.7 414.3,160.6C416.9,161.6 419.9,163.3 422.8,164.4C425.7,165.6 428.9,166.4 431.6,167.5C434.2,168.7 436.5,169.8 438.8,171.3C441.1,172.7 443.3,174.3 445.4,176.2C447.5,178.0 449.4,180.2 451.4,182.2C453.4,184.3 455.7,186.3 457.5,188.3C459.3,190.2 460.7,192.0 462.2,194.0C463.6,196.0 465.0,198.3 466.1,200.3C467.2,202.4 467.8,204.4 468.7,206.4C469.5,208.4 471.0,210.4 471.3,212.4C471.6,214.4 470.9,216.5 470.6,218.5C470.3,220.5 470.4,223.0 469.6,224.5C468.7,226.0 466.9,226.5 465.8,227.6C464.6,228.8 464.0,230.5 462.6,231.4C461.3,232.4 459.3,232.7 457.5,233.3C455.8,233.9 454.3,234.5 452.3,234.9C450.3,235.2 447.7,235.4 445.4,235.4C443.1,235.4 440.2,234.7 438.5,234.9C436.8,235.1 436.2,236.0 435.0,236.6C433.9,237.2 432.1,237.5 431.6,238.3C431.1,239.2 431.9,240.6 431.9,241.8C431.9,242.9 432.2,244.0 431.6,245.2C431.0,246.4 429.4,247.7 428.3,248.8C427.1,250.0 426.2,251.5 424.7,252.1C423.2,252.7 421.1,252.1 419.4,252.4C417.7,252.7 416.0,254.0 414.3,253.8C412.6,253.7 410.7,252.4 409.0,251.6C407.2,250.7 405.5,249.9 404.0,248.7C402.4,247.5 401.0,245.9 399.5,244.4C398.1,243.0 397.0,241.4 395.3,240.0C393.6,238.7 391.4,237.5 389.4,236.3C387.4,235.2 385.4,233.9 383.2,233.1C381.1,232.3 378.7,231.9 376.4,231.6C374.1,231.3 371.8,231.5 369.4,231.4C367.1,231.3 364.8,231.3 362.5,231.0C360.2,230.8 357.8,230.1 355.6,229.7C353.5,229.3 351.6,229.1 349.6,228.8C347.6,228.5 345.1,228.2 343.5,228.0C341.9,227.7 341.2,227.7 340.0,227.4C338.9,227.1 337.5,227.1 336.6,226.2C335.8,225.3 335.3,223.5 334.8,222.1C334.4,220.6 334.0,219.2 334.0,217.6Z"/></clipPath>
<path d="M334.0,217.6C334.0,216.0 334.7,214.2 334.8,212.4C335.0,210.7 334.5,209.1 334.9,207.2C335.3,205.4 336.6,203.2 337.4,201.2C338.3,199.2 339.0,197.0 340.1,195.2C341.1,193.3 342.5,191.8 343.7,190.1C344.8,188.4 345.7,186.4 347.0,184.8C348.2,183.2 349.8,181.8 351.2,180.4C352.6,178.9 353.9,177.6 355.6,176.2C357.3,174.7 359.5,173.1 361.6,171.7C363.6,170.3 365.6,168.8 367.7,167.5C369.8,166.3 372.1,165.5 374.1,164.2C376.1,162.9 378.1,160.8 379.8,159.8C381.5,158.8 383.0,158.9 384.4,158.2C385.8,157.5 386.7,155.9 388.4,155.5C390.1,155.0 392.5,155.3 394.5,155.4C396.5,155.6 398.4,155.8 400.5,156.3C402.6,156.9 405.0,158.1 407.3,158.8C409.6,159.5 411.7,159.7 414.3,160.6C416.9,161.6 419.9,163.3 422.8,164.4C425.7,165.6 428.9,166.4 431.6,167.5C434.2,168.7 436.5,169.8 438.8,171.3C441.1,172.7 443.3,174.3 445.4,176.2C447.5,178.0 449.4,180.2 451.4,182.2C453.4,184.3 455.7,186.3 457.5,188.3C459.3,190.2 460.7,192.0 462.2,194.0C463.6,196.0 465.0,198.3 466.1,200.3C467.2,202.4 467.8,204.4 468.7,206.4C469.5,208.4 471.0,210.4 471.3,212.4C471.6,214.4 470.9,216.5 470.6,218.5C470.3,220.5 470.4,223.0 469.6,224.5C468.7,226.0 466.9,226.5 465.8,227.6C464.6,228.8 464.0,230.5 462.6,231.4C461.3,232.4 459.3,232.7 457.5,233.3C455.8,233.9 454.3,234.5 452.3,234.9C450.3,235.2 447.7,235.4 445.4,235.4C443.1,235.4 440.2,234.7 438.5,234.9C436.8,235.1 436.2,236.0 435.0,236.6C433.9,237.2 432.1,237.5 431.6,238.3C431.1,239.2 431.9,240.6 431.9,241.8C431.9,242.9 432.2,244.0 431.6,245.2C431.0,246.4 429.4,247.7 428.3,248.8C427.1,250.0 426.2,251.5 424.7,252.1C423.2,252.7 421.1,252.1 419.4,252.4C417.7,252.7 416.0,254.0 414.3,253.8C412.6,253.7 410.7,252.4 409.0,251.6C407.2,250.7 405.5,249.9 404.0,248.7C402.4,247.5 401.0,245.9 399.5,244.4C398.1,243.0 397.0,241.4 395.3,240.0C393.6,238.7 391.4,237.5 389.4,236.3C387.4,235.2 385.4,233.9 383.2,233.1C381.1,232.3 378.7,231.9 376.4,231.6C374.1,231.3 371.8,231.5 369.4,231.4C367.1,231.3 364.8,231.3 362.5,231.0C360.2,230.8 357.8,230.1 355.6,229.7C353.5,229.3 351.6,229.1 349.6,228.8C347.6,228.5 345.1,228.2 343.5,228.0C341.9,227.7 341.2,227.7 340.0,227.4C338.9,227.1 337.5,227.1 336.6,226.2C335.8,225.3 335.3,223.5 334.8,222.1C334.4,220.6 334.0,219.2 334.0,217.6Z" fill="#f3e5a4" stroke="none" stroke-width="0" />
<g clip-path="url(#clip31)">
<path d="M334.0,217.6C334.0,216.0 334.7,214.2 334.8,212.4C335.0,210.7 334.5,209.1 334.9,207.2C335.3,205.4 336.6,203.2 337.4,201.2C338.3,199.2 339.0,197.0 340.1,195.2C341.1,193.3 342.5,191.8 343.7,190.1C344.8,188.4 345.7,186.4 347.0,184.8C348.2,183.2 349.8,181.8 351.2,180.4C352.6,178.9 353.9,177.6 355.6,176.2C357.3,174.7 359.5,173.1 361.6,171.7C363.6,170.3 365.6,168.8 367.7,167.5C369.8,166.3 372.1,165.5 374.1,164.2C376.1,162.9 378.1,160.8 379.8,159.8C381.5,158.8 383.0,158.9 384.4,158.2C385.8,157.5 386.7,155.9 388.4,155.5C390.1,155.0 392.5,155.3 394.5,155.4C396.5,155.6 398.4,155.8 400.5,156.3C402.6,156.9 405.0,158.1 407.3,158.8C409.6,159.5 411.7,159.7 414.3,160.6C416.9,161.6 419.9,163.3 422.8,164.4C425.7,165.6 428.9,166.4 431.6,167.5C434.2,168.7 436.5,169.8 438.8,171.3C441.1,172.7 443.3,174.3 445.4,176.2C447.5,178.0 449.4,180.2 451.4,182.2C453.4,184.3 455.7,186.3 457.5,188.3C459.3,190.2 460.7,192.0 462.2,194.0C463.6,196.0 465.0,198.3 466.1,200.3C467.2,202.4 467.8,204.4 468.7,206.4C469.5,208.4 471.0,210.4 471.3,212.4C471.6,214.4 470.9,216.5 470.6,218.5C470.3,220.5 470.4,223.0 469.6,224.5C468.7,226.0 466.9,226.5 465.8,227.6C464.6,228.8 464.0,230.5 462.6,231.4C461.3,232.4 459.3,232.7 457.5,233.3C455.8,233.9 454.3,234.5 452.3,234.9C450.3,235.2 447.7,235.4 445.4,235.4C443.1,235.4 440.2,234.7 438.5,234.9C436.8,235.1 436.2,236.0 435.0,236.6C433.9,237.2 432.1,237.5 431.6,238.3C431.1,239.2 431.9,240.6 431.9,241.8C431.9,242.9 432.2,244.0 431.6,245.2C431.0,246.4 429.4,247.7 428.3,248.8C427.1,250.0 426.2,251.5 424.7,252.1C423.2,252.7 421.1,252.1 419.4,252.4C417.7,252.7 416.0,254.0 414.3,253.8C412.6,253.7 410.7,252.4 409.0,251.6C407.2,250.7 405.5,249.9 404.0,248.7C402.4,247.5 401.0,245.9 399.5,244.4C398.1,243.0 397.0,241.4 395.3,240.0C393.6,238.7 391.4,237.5 389.4,236.3C387.4,235.2 385.4,233.9 383.2,233.1C381.1,232.3 378.7,231.9 376.4,231.6C374.1,231.3 371.8,231.5 369.4,231.4C367.1,231.3 364.8,231.3 362.5,231.0C360.2,230.8 357.8,230.1 355.6,229.7C353.5,229.3 351.6,229.1 349.6,228.8C347.6,228.5 345.1,228.2 343.5,228.0C341.9,227.7 341.2,227.7 340.0,227.4C338.9,227.1 337.5,227.1 336.6,226.2C335.8,225.3 335.3,223.5 334.8,222.1C334.4,220.6 334.0,219.2 334.0,217.6Z" fill="none" stroke="#e6c67a" stroke-width="9" opacity="0.55"/>
<path d="M334.9,207.2C335.3,205.4 337.6,203.6 338.5,201.6C339.3,199.6 339.3,197.0 340.1,195.2C340.9,193.3 341.9,191.9 343.1,190.5C344.2,189.0 345.8,187.4 347.0,186.5C348.2,185.7 349.2,185.5 350.3,185.3C351.5,185.0 352.6,184.3 353.9,184.8C355.2,185.3 356.7,187.2 358.2,188.3C359.6,189.5 361.3,190.2 362.5,191.7C363.7,193.2 364.1,195.6 365.2,197.4C366.4,199.1 367.8,200.7 369.4,202.1C371.1,203.4 373.5,204.2 375.2,205.7C376.9,207.1 378.3,209.4 379.8,210.7C381.2,212.0 382.8,212.3 383.9,213.5C385.1,214.6 386.2,216.3 386.7,217.6C387.2,218.9 386.7,219.9 386.7,221.0C386.7,222.2 387.6,223.8 386.7,224.5C385.8,225.2 383.2,225.1 381.5,225.4C379.8,225.7 378.4,226.1 376.3,226.2C374.3,226.4 371.6,226.0 369.3,226.3C367.0,226.6 365.1,227.9 362.5,228.0C360.0,228.0 356.8,226.4 353.9,226.4C351.0,226.4 347.4,227.9 345.3,228.0C343.1,228.0 342.5,227.0 341.0,226.7C339.6,226.4 337.6,227.0 336.6,226.2C335.6,225.4 335.5,223.4 335.1,222.0C334.7,220.5 333.9,219.2 334.0,217.6C334.2,216.0 335.7,214.3 335.8,212.5C336.0,210.8 334.5,209.1 334.9,207.2Z" fill="#c02448" stroke="none" stroke-width="0" />
<path d="M347.0,221.0C347.5,219.6 350.2,217.0 352.2,215.6C354.2,214.1 356.7,213.0 359.1,212.4C361.4,211.9 363.9,212.7 366.2,212.2C368.5,211.8 370.8,209.6 372.9,209.8C374.9,210.0 376.4,212.7 378.4,213.4C380.4,214.1 383.4,213.5 385.0,214.1C386.6,214.8 387.5,216.1 388.1,217.4C388.7,218.7 389.1,221.0 388.4,221.9C387.7,222.8 385.2,222.2 383.7,222.7C382.3,223.3 381.9,225.1 379.8,225.4C377.7,225.6 374.0,224.2 371.2,224.2C368.3,224.2 365.0,224.9 362.5,225.4C360.1,225.9 358.6,226.7 356.6,227.1C354.6,227.6 351.7,228.4 350.4,228.0C349.2,227.5 349.7,225.4 349.1,224.3C348.6,223.1 346.5,222.5 347.0,221.0Z" fill="#e85a42" stroke="none" stroke-width="0" />
<path d="M410.9,229.7C413.1,228.5 418.0,229.5 421.4,230.1C424.9,230.7 429.7,231.3 431.6,233.1C433.5,234.9 433.0,238.3 433.0,240.9C433.0,243.5 432.9,246.9 431.6,248.7C430.2,250.4 427.3,251.0 425.0,251.6C422.7,252.2 419.9,252.8 417.8,252.1C415.7,251.4 414.4,248.7 412.4,247.5C410.3,246.4 406.4,246.9 405.7,245.2C405.0,243.5 407.1,239.9 408.0,237.4C408.9,234.8 408.6,230.9 410.9,229.7Z" fill="#ebc77f" stroke="none" stroke-width="0" />
<defs><path id="sLM" d="M379.8,195.2L383.2,195.0L385.8,193.2L388.2,190.7L390.9,189.1L393.8,187.9L397.1,187.5L400.3,188.4L403.5,188.1L406.8,187.5L410.0,187.2L413.2,186.3L416.5,186.7L419.7,187.0L422.8,188.1L425.7,189.8L429.2,190.4L432.6,191.3L436.1,192.1L439.4,193.1L442.3,195.2L444.8,197.5L445.9,200.9L448.5,204.0L451.1,206.9L453.4,210.7L451.5,214.1L449.0,216.3L446.5,218.6L444.5,221.2L443.7,224.5M371.2,179.6L374.9,179.1L378.3,177.5L381.7,175.8L385.0,174.1L388.3,172.0L391.7,172.1L394.9,172.7L398.1,174.1L401.3,174.7L404.6,174.5L407.9,173.6L411.1,173.3L414.5,173.5L417.6,175.6L420.4,177.9L423.5,179.6L427.0,180.3L430.6,180.7L434.1,181.2L437.4,182.3L440.5,184.3L442.1,187.4L444.2,189.7L446.7,191.5L449.4,193.3L452.3,194.7L454.6,196.8L456.6,199.3L458.4,201.9L460.1,204.2L461.2,207.3L462.5,210.6L463.6,214.0L464.5,217.4L464.4,221.0M385.0,157.2L384.6,160.4L385.9,163.4L386.8,166.4L387.2,169.5L386.7,172.7M357.3,177.9L359.1,180.9L361.7,183.3L364.5,185.5L366.6,188.2L368.0,191.4L370.2,194.6L373.0,197.0L376.3,198.9L379.8,200.3M395.3,238.3L399.0,238.3L402.3,239.7L405.5,241.5L408.9,242.9L412.0,243.6L415.4,242.9L418.6,243.1L421.7,243.8L424.7,245.2M336.6,214.1L340.1,214.3L343.5,215.3L346.9,216.0L350.4,216.0L353.9,215.9L357.4,215.4L360.9,215.8L364.3,216.4L367.6,217.9L371.0,218.5L374.1,219.2L377.4,219.1L380.7,218.8L383.8,219.4L386.7,221.0M341.8,200.3L344.8,201.2L348.0,201.5L351.2,201.6L354.1,203.2L356.8,205.2L359.7,207.0L362.6,208.5L366.0,209.0M338.4,224.5L341.8,225.6L345.3,224.2L348.7,223.8L352.2,223.2L355.6,224.0L359.0,225.4L362.4,225.9L365.8,226.5L369.5,226.1L373.0,225.9L376.5,226.4L379.8,228.0M431.6,169.3L434.0,172.4L435.9,175.2L438.6,177.1L442.0,178.7L445.1,180.9L448.8,181.3"/></defs>
<g fill="none" stroke-linecap="round" stroke-linejoin="round"><use href="#sLM" stroke="#8f7038" stroke-width="3.6" opacity="0.42"/><use href="#sLM" stroke="#5a4424" stroke-width="1.1" opacity="0.85"/><use href="#sLM" transform="translate(1.3,1.5)" stroke="#fff8d8" stroke-width="1.2" opacity="0.45"/></g>
<path d="M381.5,202.1C382.7,199.8 385.3,196.9 388.4,195.2C391.6,193.4 395.6,192.3 400.5,191.7C405.4,191.1 412.9,191.1 417.8,191.7C422.7,192.3 426.4,193.4 429.8,195.2C433.3,196.9 436.5,199.8 438.5,202.1C440.5,204.4 441.9,206.7 441.9,209.0C441.9,211.3 441.1,214.4 438.5,215.9C435.9,217.3 429.8,216.4 426.4,217.6C422.9,218.7 419.5,220.8 417.8,222.8C416.0,224.8 417.5,228.2 416.0,229.7C414.6,231.1 411.7,231.7 409.1,231.4C406.5,231.1 403.1,229.7 400.5,228.0C397.9,226.2 395.9,223.1 393.6,221.0C391.3,219.0 388.7,217.9 386.7,215.9C384.7,213.9 382.4,211.3 381.5,209.0C380.6,206.7 380.4,204.4 381.5,202.1Z" fill="#c4bfbb" stroke="#6f6660" stroke-width="0.7" />
<path d="M381.5,202.1C382.7,200.9 385.3,196.9 388.4,195.2C391.6,193.4 395.6,192.3 400.5,191.7C405.4,191.1 412.9,191.1 417.8,191.7C422.7,192.3 426.4,193.4 429.8,195.2C433.3,196.9 436.5,199.8 438.5,202.1C440.5,204.4 441.4,207.8 441.9,209.0" fill="none" stroke="#4f4640" stroke-width="1.6" stroke-linecap="round" opacity="0.8"/>
<path d="M421.2,218.5C421.9,218.1 424.2,219.3 425.6,219.2C427.1,219.1 429.3,217.3 429.8,217.6C430.4,217.9 428.9,219.9 428.9,221.0C428.9,222.2 430.3,224.0 429.8,224.5C429.4,225.0 427.5,224.2 426.4,224.2C425.2,224.2 423.7,224.9 422.9,224.5C422.2,224.1 421.9,222.6 421.7,221.6C421.4,220.6 420.5,218.9 421.2,218.5Z" fill="#f09050" stroke="none" stroke-width="0" />
<path d="M334.0,217.6C334.0,216.0 334.7,214.2 334.8,212.4C335.0,210.7 334.5,209.1 334.9,207.2C335.3,205.4 336.6,203.2 337.4,201.2C338.3,199.2 339.0,197.0 340.1,195.2C341.1,193.3 342.5,191.8 343.7,190.1C344.8,188.4 345.7,186.4 347.0,184.8C348.2,183.2 349.8,181.8 351.2,180.4C352.6,178.9 353.9,177.6 355.6,176.2C357.3,174.7 359.5,173.1 361.6,171.7C363.6,170.3 365.6,168.8 367.7,167.5C369.8,166.3 372.1,165.5 374.1,164.2C376.1,162.9 378.1,160.8 379.8,159.8C381.5,158.8 383.0,158.9 384.4,158.2C385.8,157.5 386.7,155.9 388.4,155.5C390.1,155.0 392.5,155.3 394.5,155.4C396.5,155.6 398.4,155.8 400.5,156.3C402.6,156.9 405.0,158.1 407.3,158.8C409.6,159.5 411.7,159.7 414.3,160.6C416.9,161.6 419.9,163.3 422.8,164.4C425.7,165.6 428.9,166.4 431.6,167.5C434.2,168.7 436.5,169.8 438.8,171.3C441.1,172.7 443.3,174.3 445.4,176.2C447.5,178.0 449.4,180.2 451.4,182.2C453.4,184.3 455.7,186.3 457.5,188.3C459.3,190.2 460.7,192.0 462.2,194.0C463.6,196.0 465.0,198.3 466.1,200.3C467.2,202.4 467.8,204.4 468.7,206.4C469.5,208.4 471.0,210.4 471.3,212.4C471.6,214.4 470.9,216.5 470.6,218.5C470.3,220.5 470.4,223.0 469.6,224.5C468.7,226.0 466.9,226.5 465.8,227.6C464.6,228.8 464.0,230.5 462.6,231.4C461.3,232.4 459.3,232.7 457.5,233.3C455.8,233.9 454.3,234.5 452.3,234.9C450.3,235.2 447.7,235.4 445.4,235.4C443.1,235.4 440.2,234.7 438.5,234.9C436.8,235.1 436.2,236.0 435.0,236.6C433.9,237.2 432.1,237.5 431.6,238.3C431.1,239.2 431.9,240.6 431.9,241.8C431.9,242.9 432.2,244.0 431.6,245.2C431.0,246.4 429.4,247.7 428.3,248.8C427.1,250.0 426.2,251.5 424.7,252.1C423.2,252.7 421.1,252.1 419.4,252.4C417.7,252.7 416.0,254.0 414.3,253.8C412.6,253.7 410.7,252.4 409.0,251.6C407.2,250.7 405.5,249.9 404.0,248.7C402.4,247.5 401.0,245.9 399.5,244.4C398.1,243.0 397.0,241.4 395.3,240.0C393.6,238.7 391.4,237.5 389.4,236.3C387.4,235.2 385.4,233.9 383.2,233.1C381.1,232.3 378.7,231.9 376.4,231.6C374.1,231.3 371.8,231.5 369.4,231.4C367.1,231.3 364.8,231.3 362.5,231.0C360.2,230.8 357.8,230.1 355.6,229.7C353.5,229.3 351.6,229.1 349.6,228.8C347.6,228.5 345.1,228.2 343.5,228.0C341.9,227.7 341.2,227.7 340.0,227.4C338.9,227.1 337.5,227.1 336.6,226.2C335.8,225.3 335.3,223.5 334.8,222.1C334.4,220.6 334.0,219.2 334.0,217.6Z" fill="none" stroke="#b79a5a" stroke-width="3" opacity="0.5"/>
</g>
<path d="M334.0,217.6C334.0,216.0 334.7,214.2 334.8,212.4C335.0,210.7 334.5,209.1 334.9,207.2C335.3,205.4 336.6,203.2 337.4,201.2C338.3,199.2 339.0,197.0 340.1,195.2C341.1,193.3 342.5,191.8 343.7,190.1C344.8,188.4 345.7,186.4 347.0,184.8C348.2,183.2 349.8,181.8 351.2,180.4C352.6,178.9 353.9,177.6 355.6,176.2C357.3,174.7 359.5,173.1 361.6,171.7C363.6,170.3 365.6,168.8 367.7,167.5C369.8,166.3 372.1,165.5 374.1,164.2C376.1,162.9 378.1,160.8 379.8,159.8C381.5,158.8 383.0,158.9 384.4,158.2C385.8,157.5 386.7,155.9 388.4,155.5C390.1,155.0 392.5,155.3 394.5,155.4C396.5,155.6 398.4,155.8 400.5,156.3C402.6,156.9 405.0,158.1 407.3,158.8C409.6,159.5 411.7,159.7 414.3,160.6C416.9,161.6 419.9,163.3 422.8,164.4C425.7,165.6 428.9,166.4 431.6,167.5C434.2,168.7 436.5,169.8 438.8,171.3C441.1,172.7 443.3,174.3 445.4,176.2C447.5,178.0 449.4,180.2 451.4,182.2C453.4,184.3 455.7,186.3 457.5,188.3C459.3,190.2 460.7,192.0 462.2,194.0C463.6,196.0 465.0,198.3 466.1,200.3C467.2,202.4 467.8,204.4 468.7,206.4C469.5,208.4 471.0,210.4 471.3,212.4C471.6,214.4 470.9,216.5 470.6,218.5C470.3,220.5 470.4,223.0 469.6,224.5C468.7,226.0 466.9,226.5 465.8,227.6C464.6,228.8 464.0,230.5 462.6,231.4C461.3,232.4 459.3,232.7 457.5,233.3C455.8,233.9 454.3,234.5 452.3,234.9C450.3,235.2 447.7,235.4 445.4,235.4C443.1,235.4 440.2,234.7 438.5,234.9C436.8,235.1 436.2,236.0 435.0,236.6C433.9,237.2 432.1,237.5 431.6,238.3C431.1,239.2 431.9,240.6 431.9,241.8C431.9,242.9 432.2,244.0 431.6,245.2C431.0,246.4 429.4,247.7 428.3,248.8C427.1,250.0 426.2,251.5 424.7,252.1C423.2,252.7 421.1,252.1 419.4,252.4C417.7,252.7 416.0,254.0 414.3,253.8C412.6,253.7 410.7,252.4 409.0,251.6C407.2,250.7 405.5,249.9 404.0,248.7C402.4,247.5 401.0,245.9 399.5,244.4C398.1,243.0 397.0,241.4 395.3,240.0C393.6,238.7 391.4,237.5 389.4,236.3C387.4,235.2 385.4,233.9 383.2,233.1C381.1,232.3 378.7,231.9 376.4,231.6C374.1,231.3 371.8,231.5 369.4,231.4C367.1,231.3 364.8,231.3 362.5,231.0C360.2,230.8 357.8,230.1 355.6,229.7C353.5,229.3 351.6,229.1 349.6,228.8C347.6,228.5 345.1,228.2 343.5,228.0C341.9,227.7 341.2,227.7 340.0,227.4C338.9,227.1 337.5,227.1 336.6,226.2C335.8,225.3 335.3,223.5 334.8,222.1C334.4,220.6 334.0,219.2 334.0,217.6Z" fill="none" stroke="#4e402c" stroke-width="0.8" />
<clipPath id="clip46"><path d="M550.6,214.1C550.8,212.6 551.5,210.2 551.8,208.2C552.1,206.1 551.7,204.1 552.3,202.1C552.9,200.0 554.3,198.0 555.3,196.0C556.3,194.0 557.0,191.8 558.4,190.0C559.8,188.1 561.9,186.7 563.7,184.9C565.4,183.2 566.7,181.2 568.7,179.6C570.7,178.0 573.2,176.6 575.5,175.2C577.8,173.7 580.1,172.3 582.5,171.0C585.0,169.7 587.6,168.5 590.2,167.4C592.8,166.2 595.4,165.0 598.1,164.1C600.7,163.2 603.4,162.9 606.0,162.1C608.6,161.2 611.3,159.6 613.6,158.9C615.9,158.2 617.8,158.4 619.8,157.8C621.8,157.2 624.0,155.9 625.7,155.5C627.4,155.0 628.6,155.0 630.0,155.0C631.4,155.0 632.8,154.9 634.3,155.5C635.9,156.0 637.6,157.5 639.3,158.3C641.1,159.2 643.0,159.6 644.7,160.6C646.4,161.6 647.9,163.2 649.6,164.4C651.4,165.5 653.3,166.4 655.0,167.5C656.7,168.7 658.4,169.9 659.8,171.4C661.3,172.8 662.6,174.8 663.7,176.2C664.7,177.5 665.4,178.5 666.2,179.6C667.1,180.8 667.8,182.0 668.8,183.1C669.9,184.2 671.5,185.0 672.6,186.2C673.8,187.3 674.6,188.5 675.7,190.0C676.8,191.5 678.0,193.4 679.2,195.2C680.3,196.9 681.7,198.6 682.6,200.3C683.5,202.0 684.0,203.7 684.6,205.5C685.1,207.2 686.1,208.8 686.1,210.7C686.1,212.6 685.0,214.7 684.8,216.7C684.5,218.7 684.8,221.3 684.4,222.8C683.9,224.2 682.8,224.6 681.9,225.5C681.1,226.4 680.5,227.5 679.2,228.0C677.9,228.4 675.7,228.5 674.0,228.5C672.3,228.5 670.9,228.3 668.8,228.0C666.8,227.6 664.2,226.8 661.9,226.3C659.6,225.7 657.0,224.5 655.0,224.5C653.0,224.5 651.7,226.0 650.0,226.5C648.2,227.1 646.8,227.1 644.7,228.0C642.5,228.8 639.6,230.5 637.0,231.6C634.4,232.8 631.8,233.7 629.1,234.9C626.5,236.0 623.7,237.2 621.1,238.6C618.5,240.1 615.7,242.1 613.6,243.5C611.5,244.9 610.3,246.1 608.6,247.2C606.9,248.4 604.9,249.8 603.2,250.4C601.6,250.9 600.4,250.5 598.9,250.5C597.5,250.5 595.9,251.2 594.6,250.4C593.3,249.6 592.5,247.3 591.4,245.9C590.2,244.5 588.5,243.1 587.7,241.8C586.9,240.4 587.1,239.2 586.6,238.0C586.0,236.9 585.9,235.4 584.3,234.9C582.6,234.3 579.0,234.8 576.4,234.5C573.8,234.2 571.0,233.8 568.7,233.1C566.4,232.5 564.7,231.4 562.7,230.5C560.7,229.6 558.1,228.9 556.6,228.0C555.1,227.0 554.7,225.8 553.8,224.7C552.9,223.5 552.0,222.2 551.5,221.0C550.9,219.9 550.6,218.8 550.5,217.7C550.4,216.5 550.4,215.7 550.6,214.1Z"/></clipPath>
<path d="M550.6,214.1C550.8,212.6 551.5,210.2 551.8,208.2C552.1,206.1 551.7,204.1 552.3,202.1C552.9,200.0 554.3,198.0 555.3,196.0C556.3,194.0 557.0,191.8 558.4,190.0C559.8,188.1 561.9,186.7 563.7,184.9C565.4,183.2 566.7,181.2 568.7,179.6C570.7,178.0 573.2,176.6 575.5,175.2C577.8,173.7 580.1,172.3 582.5,171.0C585.0,169.7 587.6,168.5 590.2,167.4C592.8,166.2 595.4,165.0 598.1,164.1C600.7,163.2 603.4,162.9 606.0,162.1C608.6,161.2 611.3,159.6 613.6,158.9C615.9,158.2 617.8,158.4 619.8,157.8C621.8,157.2 624.0,155.9 625.7,155.5C627.4,155.0 628.6,155.0 630.0,155.0C631.4,155.0 632.8,154.9 634.3,155.5C635.9,156.0 637.6,157.5 639.3,158.3C641.1,159.2 643.0,159.6 644.7,160.6C646.4,161.6 647.9,163.2 649.6,164.4C651.4,165.5 653.3,166.4 655.0,167.5C656.7,168.7 658.4,169.9 659.8,171.4C661.3,172.8 662.6,174.8 663.7,176.2C664.7,177.5 665.4,178.5 666.2,179.6C667.1,180.8 667.8,182.0 668.8,183.1C669.9,184.2 671.5,185.0 672.6,186.2C673.8,187.3 674.6,188.5 675.7,190.0C676.8,191.5 678.0,193.4 679.2,195.2C680.3,196.9 681.7,198.6 682.6,200.3C683.5,202.0 684.0,203.7 684.6,205.5C685.1,207.2 686.1,208.8 686.1,210.7C686.1,212.6 685.0,214.7 684.8,216.7C684.5,218.7 684.8,221.3 684.4,222.8C683.9,224.2 682.8,224.6 681.9,225.5C681.1,226.4 680.5,227.5 679.2,228.0C677.9,228.4 675.7,228.5 674.0,228.5C672.3,228.5 670.9,228.3 668.8,228.0C666.8,227.6 664.2,226.8 661.9,226.3C659.6,225.7 657.0,224.5 655.0,224.5C653.0,224.5 651.7,226.0 650.0,226.5C648.2,227.1 646.8,227.1 644.7,228.0C642.5,228.8 639.6,230.5 637.0,231.6C634.4,232.8 631.8,233.7 629.1,234.9C626.5,236.0 623.7,237.2 621.1,238.6C618.5,240.1 615.7,242.1 613.6,243.5C611.5,244.9 610.3,246.1 608.6,247.2C606.9,248.4 604.9,249.8 603.2,250.4C601.6,250.9 600.4,250.5 598.9,250.5C597.5,250.5 595.9,251.2 594.6,250.4C593.3,249.6 592.5,247.3 591.4,245.9C590.2,244.5 588.5,243.1 587.7,241.8C586.9,240.4 587.1,239.2 586.6,238.0C586.0,236.9 585.9,235.4 584.3,234.9C582.6,234.3 579.0,234.8 576.4,234.5C573.8,234.2 571.0,233.8 568.7,233.1C566.4,232.5 564.7,231.4 562.7,230.5C560.7,229.6 558.1,228.9 556.6,228.0C555.1,227.0 554.7,225.8 553.8,224.7C552.9,223.5 552.0,222.2 551.5,221.0C550.9,219.9 550.6,218.8 550.5,217.7C550.4,216.5 550.4,215.7 550.6,214.1Z" fill="#f3e5a4" stroke="none" stroke-width="0" />
<g clip-path="url(#clip46)">
<path d="M550.6,214.1C550.8,212.6 551.5,210.2 551.8,208.2C552.1,206.1 551.7,204.1 552.3,202.1C552.9,200.0 554.3,198.0 555.3,196.0C556.3,194.0 557.0,191.8 558.4,190.0C559.8,188.1 561.9,186.7 563.7,184.9C565.4,183.2 566.7,181.2 568.7,179.6C570.7,178.0 573.2,176.6 575.5,175.2C577.8,173.7 580.1,172.3 582.5,171.0C585.0,169.7 587.6,168.5 590.2,167.4C592.8,166.2 595.4,165.0 598.1,164.1C600.7,163.2 603.4,162.9 606.0,162.1C608.6,161.2 611.3,159.6 613.6,158.9C615.9,158.2 617.8,158.4 619.8,157.8C621.8,157.2 624.0,155.9 625.7,155.5C627.4,155.0 628.6,155.0 630.0,155.0C631.4,155.0 632.8,154.9 634.3,155.5C635.9,156.0 637.6,157.5 639.3,158.3C641.1,159.2 643.0,159.6 644.7,160.6C646.4,161.6 647.9,163.2 649.6,164.4C651.4,165.5 653.3,166.4 655.0,167.5C656.7,168.7 658.4,169.9 659.8,171.4C661.3,172.8 662.6,174.8 663.7,176.2C664.7,177.5 665.4,178.5 666.2,179.6C667.1,180.8 667.8,182.0 668.8,183.1C669.9,184.2 671.5,185.0 672.6,186.2C673.8,187.3 674.6,188.5 675.7,190.0C676.8,191.5 678.0,193.4 679.2,195.2C680.3,196.9 681.7,198.6 682.6,200.3C683.5,202.0 684.0,203.7 684.6,205.5C685.1,207.2 686.1,208.8 686.1,210.7C686.1,212.6 685.0,214.7 684.8,216.7C684.5,218.7 684.8,221.3 684.4,222.8C683.9,224.2 682.8,224.6 681.9,225.5C681.1,226.4 680.5,227.5 679.2,228.0C677.9,228.4 675.7,228.5 674.0,228.5C672.3,228.5 670.9,228.3 668.8,228.0C666.8,227.6 664.2,226.8 661.9,226.3C659.6,225.7 657.0,224.5 655.0,224.5C653.0,224.5 651.7,226.0 650.0,226.5C648.2,227.1 646.8,227.1 644.7,228.0C642.5,228.8 639.6,230.5 637.0,231.6C634.4,232.8 631.8,233.7 629.1,234.9C626.5,236.0 623.7,237.2 621.1,238.6C618.5,240.1 615.7,242.1 613.6,243.5C611.5,244.9 610.3,246.1 608.6,247.2C606.9,248.4 604.9,249.8 603.2,250.4C601.6,250.9 600.4,250.5 598.9,250.5C597.5,250.5 595.9,251.2 594.6,250.4C593.3,249.6 592.5,247.3 591.4,245.9C590.2,244.5 588.5,243.1 587.7,241.8C586.9,240.4 587.1,239.2 586.6,238.0C586.0,236.9 585.9,235.4 584.3,234.9C582.6,234.3 579.0,234.8 576.4,234.5C573.8,234.2 571.0,233.8 568.7,233.1C566.4,232.5 564.7,231.4 562.7,230.5C560.7,229.6 558.1,228.9 556.6,228.0C555.1,227.0 554.7,225.8 553.8,224.7C552.9,223.5 552.0,222.2 551.5,221.0C550.9,219.9 550.6,218.8 550.5,217.7C550.4,216.5 550.4,215.7 550.6,214.1Z" fill="none" stroke="#e6c67a" stroke-width="9" opacity="0.55"/>
<path d="M651.6,198.6C653.0,197.6 655.2,196.5 656.6,195.0C658.1,193.6 658.9,191.5 660.2,190.0C661.5,188.5 662.7,187.2 664.2,186.1C665.6,184.9 667.4,183.0 668.8,183.1C670.2,183.1 671.4,185.1 672.6,186.2C673.7,187.4 674.6,188.5 675.7,190.0C676.8,191.5 678.0,193.5 679.1,195.2C680.3,196.9 681.9,198.6 682.6,200.3C683.4,202.1 683.0,204.1 683.5,205.8C684.1,207.5 685.7,208.8 686.1,210.7C686.5,212.5 686.4,214.8 686.1,216.9C685.8,218.9 685.0,221.2 684.4,222.8C683.8,224.3 683.3,225.2 682.5,226.0C681.6,226.9 680.6,227.6 679.2,228.0C677.8,228.3 675.7,228.0 674.0,228.0C672.3,228.0 670.6,228.5 668.8,228.0C667.1,227.4 665.4,225.7 663.6,224.5C661.9,223.4 660.1,222.3 658.5,221.0C656.8,219.8 655.5,218.1 653.8,216.9C652.0,215.8 649.5,215.2 648.1,214.1C646.8,213.0 646.7,211.2 645.6,210.3C644.4,209.5 641.6,209.6 641.2,209.0C640.8,208.3 642.7,207.5 643.3,206.6C643.9,205.7 643.9,204.7 644.7,203.8C645.4,202.9 646.8,201.8 648.0,201.0C649.1,200.1 650.1,199.6 651.6,198.6Z" fill="#c02448" stroke="none" stroke-width="0" />
<path d="M634.3,224.5C634.7,223.4 636.9,220.5 638.6,219.1C640.3,217.7 642.4,216.7 644.7,215.9C646.9,215.1 649.7,215.2 652.0,214.3C654.3,213.5 656.3,210.6 658.5,210.7C660.6,210.7 662.6,213.8 664.9,214.7C667.2,215.5 670.3,214.9 672.3,215.9C674.3,216.8 675.9,218.5 677.0,220.2C678.2,221.9 680.0,225.2 679.2,226.2C678.4,227.2 674.5,225.8 672.2,226.1C669.9,226.4 667.6,228.1 665.4,228.0C663.1,227.8 661.1,225.7 658.8,225.1C656.5,224.5 653.9,224.2 651.6,224.5C649.2,224.8 647.1,226.1 644.8,226.7C642.5,227.3 639.2,228.1 637.8,228.0C636.4,227.8 637.0,226.5 636.4,225.9C635.8,225.3 633.9,225.6 634.3,224.5Z" fill="#e85a42" stroke="none" stroke-width="0" />
<path d="M587.7,229.7C588.5,227.8 593.5,228.4 596.3,228.4C599.2,228.4 603.0,227.9 605.0,229.7C606.9,231.4 607.5,235.8 608.1,238.9C608.6,242.1 609.6,246.7 608.4,248.7C607.2,250.6 603.4,250.5 600.8,250.7C598.2,251.0 594.4,252.2 592.9,250.4C591.3,248.6 592.4,243.2 591.5,239.7C590.7,236.3 586.9,231.6 587.7,229.7Z" fill="#ebc77f" stroke="none" stroke-width="0" />
<defs><path id="sRM" d="M577.3,209.0L580.1,206.9L581.4,203.8L582.0,200.4L583.4,197.4L585.4,194.5L589.2,194.2L592.6,194.1L595.7,192.8L598.7,191.3L601.7,189.9L604.8,188.1L608.4,188.5L611.9,188.7L615.3,189.9L618.8,190.3L622.2,189.4L625.7,189.0L629.3,188.4L632.8,190.1L635.4,192.7L637.7,195.6L640.1,197.5L641.1,200.9L642.4,204.9L642.1,209.0M558.4,210.7L560.6,208.0L561.8,204.8L562.9,201.5L563.9,198.3L564.7,194.7L567.7,192.5L570.8,190.8L574.3,189.7L577.4,188.0L580.1,185.7L582.3,182.7L585.6,181.5L588.8,180.8L592.2,181.0L595.7,181.4L599.0,181.2L602.1,179.9L605.1,178.3L608.4,176.8L611.7,176.9L614.9,177.8L618.0,179.3L621.2,179.8L624.4,179.7L627.7,179.4L631.2,178.8L634.2,181.0L636.6,183.4L638.9,186.1L641.4,188.6L644.4,190.3L646.9,192.2L649.3,194.4L651.5,196.7L653.3,199.4L655.0,202.1M630.9,157.2L630.8,160.4L632.5,163.3L633.7,166.3L634.5,169.4L634.3,172.7M661.9,183.1L659.8,185.6L658.7,188.7L657.7,192.0L656.1,194.8L653.6,197.1L650.5,198.9L648.0,201.3L646.1,204.1L644.7,207.2M599.8,241.8L602.9,239.6L606.6,238.7L610.4,238.2L614.0,237.3L617.5,235.9L620.4,233.3L623.7,231.4L627.1,230.0L630.7,228.9L634.3,228.0M637.8,221.0L641.2,219.8L644.8,219.4L648.4,218.8L651.7,217.3L655.0,215.9L658.4,214.7L661.8,214.4L665.3,214.4L668.9,215.2L672.4,215.0L676.5,214.5L680.4,213.1L684.4,212.4M658.5,195.2L661.1,197.3L664.0,199.0L667.1,200.6L669.1,203.2L672.3,204.5L675.6,205.6L679.2,205.5M644.7,224.5L648.1,225.6L651.6,224.2L655.0,223.8L658.5,223.2L661.9,224.0L665.3,225.4L668.4,225.7L671.5,226.0L674.7,225.4L677.9,225.0L680.9,226.2M573.9,174.4L577.1,172.5L580.3,170.6L584.1,170.2L587.7,169.2L591.6,170.8L595.6,171.6L599.8,171.0M554.9,217.6L558.1,218.4L560.5,220.4L562.8,222.6L564.9,225.4L568.4,226.6L572.0,226.8L575.8,226.4L579.1,228.0"/></defs>
<g fill="none" stroke-linecap="round" stroke-linejoin="round"><use href="#sRM" stroke="#8f7038" stroke-width="3.6" opacity="0.42"/><use href="#sRM" stroke="#5a4424" stroke-width="1.1" opacity="0.85"/><use href="#sRM" transform="translate(1.3,1.5)" stroke="#fff8d8" stroke-width="1.2" opacity="0.45"/></g>
<path d="M579.1,207.2C579.9,204.6 581.4,200.9 584.3,198.6C587.1,196.3 591.4,194.6 596.3,193.4C601.2,192.3 608.1,191.7 613.6,191.7C619.1,191.7 625.4,192.0 629.1,193.4C632.9,194.9 634.6,197.5 636.0,200.3C637.5,203.2 638.1,207.5 637.8,210.7C637.5,213.9 636.3,217.0 634.3,219.3C632.3,221.6 628.6,222.8 625.7,224.5C622.8,226.2 620.2,228.2 617.0,229.7C613.9,231.1 609.6,233.4 606.7,233.1C603.8,232.8 601.5,230.0 599.8,228.0C598.1,225.9 598.1,222.8 596.3,221.0C594.6,219.3 592.3,218.7 589.4,217.6C586.6,216.4 580.8,215.9 579.1,214.1C577.3,212.4 578.2,209.8 579.1,207.2Z" fill="#c4bfbb" stroke="#6f6660" stroke-width="0.7" />
<path d="M579.1,207.2C579.9,205.8 581.4,200.9 584.3,198.6C587.1,196.3 591.4,194.6 596.3,193.4C601.2,192.3 608.1,191.7 613.6,191.7C619.1,191.7 625.4,192.0 629.1,193.4C632.9,194.9 634.6,197.5 636.0,200.3C637.5,203.2 637.5,209.0 637.8,210.7" fill="none" stroke="#4f4640" stroke-width="1.6" stroke-linecap="round" opacity="0.8"/>
<path d="M613.6,206.4C615.0,206.0 619.4,207.6 622.2,207.6C625.1,207.6 629.4,206.0 630.9,206.4C632.3,206.8 630.5,208.9 630.8,210.1C631.1,211.2 633.7,212.8 632.6,213.3C631.4,213.8 626.8,213.0 624.0,213.0C621.1,213.0 617.0,213.8 615.3,213.3C613.7,212.8 614.3,211.1 614.0,209.9C613.7,208.8 612.2,206.8 613.6,206.4Z" fill="#f2e29a" stroke="none" stroke-width="0" />
<path d="M550.6,214.1C550.8,212.6 551.5,210.2 551.8,208.2C552.1,206.1 551.7,204.1 552.3,202.1C552.9,200.0 554.3,198.0 555.3,196.0C556.3,194.0 557.0,191.8 558.4,190.0C559.8,188.1 561.9,186.7 563.7,184.9C565.4,183.2 566.7,181.2 568.7,179.6C570.7,178.0 573.2,176.6 575.5,175.2C577.8,173.7 580.1,172.3 582.5,171.0C585.0,169.7 587.6,168.5 590.2,167.4C592.8,166.2 595.4,165.0 598.1,164.1C600.7,163.2 603.4,162.9 606.0,162.1C608.6,161.2 611.3,159.6 613.6,158.9C615.9,158.2 617.8,158.4 619.8,157.8C621.8,157.2 624.0,155.9 625.7,155.5C627.4,155.0 628.6,155.0 630.0,155.0C631.4,155.0 632.8,154.9 634.3,155.5C635.9,156.0 637.6,157.5 639.3,158.3C641.1,159.2 643.0,159.6 644.7,160.6C646.4,161.6 647.9,163.2 649.6,164.4C651.4,165.5 653.3,166.4 655.0,167.5C656.7,168.7 658.4,169.9 659.8,171.4C661.3,172.8 662.6,174.8 663.7,176.2C664.7,177.5 665.4,178.5 666.2,179.6C667.1,180.8 667.8,182.0 668.8,183.1C669.9,184.2 671.5,185.0 672.6,186.2C673.8,187.3 674.6,188.5 675.7,190.0C676.8,191.5 678.0,193.4 679.2,195.2C680.3,196.9 681.7,198.6 682.6,200.3C683.5,202.0 684.0,203.7 684.6,205.5C685.1,207.2 686.1,208.8 686.1,210.7C686.1,212.6 685.0,214.7 684.8,216.7C684.5,218.7 684.8,221.3 684.4,222.8C683.9,224.2 682.8,224.6 681.9,225.5C681.1,226.4 680.5,227.5 679.2,228.0C677.9,228.4 675.7,228.5 674.0,228.5C672.3,228.5 670.9,228.3 668.8,228.0C666.8,227.6 664.2,226.8 661.9,226.3C659.6,225.7 657.0,224.5 655.0,224.5C653.0,224.5 651.7,226.0 650.0,226.5C648.2,227.1 646.8,227.1 644.7,228.0C642.5,228.8 639.6,230.5 637.0,231.6C634.4,232.8 631.8,233.7 629.1,234.9C626.5,236.0 623.7,237.2 621.1,238.6C618.5,240.1 615.7,242.1 613.6,243.5C611.5,244.9 610.3,246.1 608.6,247.2C606.9,248.4 604.9,249.8 603.2,250.4C601.6,250.9 600.4,250.5 598.9,250.5C597.5,250.5 595.9,251.2 594.6,250.4C593.3,249.6 592.5,247.3 591.4,245.9C590.2,244.5 588.5,243.1 587.7,241.8C586.9,240.4 587.1,239.2 586.6,238.0C586.0,236.9 585.9,235.4 584.3,234.9C582.6,234.3 579.0,234.8 576.4,234.5C573.8,234.2 571.0,233.8 568.7,233.1C566.4,232.5 564.7,231.4 562.7,230.5C560.7,229.6 558.1,228.9 556.6,228.0C555.1,227.0 554.7,225.8 553.8,224.7C552.9,223.5 552.0,222.2 551.5,221.0C550.9,219.9 550.6,218.8 550.5,217.7C550.4,216.5 550.4,215.7 550.6,214.1Z" fill="none" stroke="#b79a5a" stroke-width="3" opacity="0.5"/>
</g>
<path d="M550.6,214.1C550.8,212.6 551.5,210.2 551.8,208.2C552.1,206.1 551.7,204.1 552.3,202.1C552.9,200.0 554.3,198.0 555.3,196.0C556.3,194.0 557.0,191.8 558.4,190.0C559.8,188.1 561.9,186.7 563.7,184.9C565.4,183.2 566.7,181.2 568.7,179.6C570.7,178.0 573.2,176.6 575.5,175.2C577.8,173.7 580.1,172.3 582.5,171.0C585.0,169.7 587.6,168.5 590.2,167.4C592.8,166.2 595.4,165.0 598.1,164.1C600.7,163.2 603.4,162.9 606.0,162.1C608.6,161.2 611.3,159.6 613.6,158.9C615.9,158.2 617.8,158.4 619.8,157.8C621.8,157.2 624.0,155.9 625.7,155.5C627.4,155.0 628.6,155.0 630.0,155.0C631.4,155.0 632.8,154.9 634.3,155.5C635.9,156.0 637.6,157.5 639.3,158.3C641.1,159.2 643.0,159.6 644.7,160.6C646.4,161.6 647.9,163.2 649.6,164.4C651.4,165.5 653.3,166.4 655.0,167.5C656.7,168.7 658.4,169.9 659.8,171.4C661.3,172.8 662.6,174.8 663.7,176.2C664.7,177.5 665.4,178.5 666.2,179.6C667.1,180.8 667.8,182.0 668.8,183.1C669.9,184.2 671.5,185.0 672.6,186.2C673.8,187.3 674.6,188.5 675.7,190.0C676.8,191.5 678.0,193.4 679.2,195.2C680.3,196.9 681.7,198.6 682.6,200.3C683.5,202.0 684.0,203.7 684.6,205.5C685.1,207.2 686.1,208.8 686.1,210.7C686.1,212.6 685.0,214.7 684.8,216.7C684.5,218.7 684.8,221.3 684.4,222.8C683.9,224.2 682.8,224.6 681.9,225.5C681.1,226.4 680.5,227.5 679.2,228.0C677.9,228.4 675.7,228.5 674.0,228.5C672.3,228.5 670.9,228.3 668.8,228.0C666.8,227.6 664.2,226.8 661.9,226.3C659.6,225.7 657.0,224.5 655.0,224.5C653.0,224.5 651.7,226.0 650.0,226.5C648.2,227.1 646.8,227.1 644.7,228.0C642.5,228.8 639.6,230.5 637.0,231.6C634.4,232.8 631.8,233.7 629.1,234.9C626.5,236.0 623.7,237.2 621.1,238.6C618.5,240.1 615.7,242.1 613.6,243.5C611.5,244.9 610.3,246.1 608.6,247.2C606.9,248.4 604.9,249.8 603.2,250.4C601.6,250.9 600.4,250.5 598.9,250.5C597.5,250.5 595.9,251.2 594.6,250.4C593.3,249.6 592.5,247.3 591.4,245.9C590.2,244.5 588.5,243.1 587.7,241.8C586.9,240.4 587.1,239.2 586.6,238.0C586.0,236.9 585.9,235.4 584.3,234.9C582.6,234.3 579.0,234.8 576.4,234.5C573.8,234.2 571.0,233.8 568.7,233.1C566.4,232.5 564.7,231.4 562.7,230.5C560.7,229.6 558.1,228.9 556.6,228.0C555.1,227.0 554.7,225.8 553.8,224.7C552.9,223.5 552.0,222.2 551.5,221.0C550.9,219.9 550.6,218.8 550.5,217.7C550.4,216.5 550.4,215.7 550.6,214.1Z" fill="none" stroke="#4e402c" stroke-width="0.8" />
<clipPath id="ax61"><path d="M509.30,67.98 L513.28,66.61 L517.22,67.61 L521.09,69.20 L524.70,71.75 L528.23,74.58 L530.96,78.75 L534.04,82.44 L536.83,86.63 L538.72,91.57 L540.52,96.56 L541.03,101.94 L541.88,107.20 L541.72,112.48 L541.39,117.74 L540.28,122.80 L538.18,127.31 L536.08,131.81 L533.36,135.83 L530.46,139.81 L526.70,142.67 L522.47,144.49 L518.37,146.79 L513.81,147.20 L509.30,148.01 L504.79,147.19 L500.40,146.04 L495.90,145.14 L492.13,142.20 L488.50,139.27 L484.83,136.31 L482.09,132.20 L480.23,127.45 L478.03,122.95 L477.21,117.74 L476.54,112.54 L476.93,107.20 L476.94,101.83 L478.24,96.62 L479.66,91.45 L481.80,86.66 L484.66,82.54 L487.46,78.52 L490.71,75.17 L494.12,72.25 L497.75,69.99 L501.47,68.07 L505.33,66.75Z"/></clipPath>
<path d="M509.30,67.98 L513.28,66.61 L517.22,67.61 L521.09,69.20 L524.70,71.75 L528.23,74.58 L530.96,78.75 L534.04,82.44 L536.83,86.63 L538.72,91.57 L540.52,96.56 L541.03,101.94 L541.88,107.20 L541.72,112.48 L541.39,117.74 L540.28,122.80 L538.18,127.31 L536.08,131.81 L533.36,135.83 L530.46,139.81 L526.70,142.67 L522.47,144.49 L518.37,146.79 L513.81,147.20 L509.30,148.01 L504.79,147.19 L500.40,146.04 L495.90,145.14 L492.13,142.20 L488.50,139.27 L484.83,136.31 L482.09,132.20 L480.23,127.45 L478.03,122.95 L477.21,117.74 L476.54,112.54 L476.93,107.20 L476.94,101.83 L478.24,96.62 L479.66,91.45 L481.80,86.66 L484.66,82.54 L487.46,78.52 L490.71,75.17 L494.12,72.25 L497.75,69.99 L501.47,68.07 L505.33,66.75Z" fill="#e4e1de"/>
<g clip-path="url(#ax61)">
<ellipse cx="509.3" cy="108.2" rx="26.6" ry="34.2" fill="#f5f4f2"/>
<g filter="url(#fb)">
<line x1="506.8" y1="67.4" x2="507.4" y2="75.7" stroke="#c6c2bd" stroke-width="2.7" stroke-linecap="round"/>
<line x1="515.0" y1="68.0" x2="513.3" y2="76.9" stroke="#c6c2bd" stroke-width="2.9" stroke-linecap="round"/>
<line x1="521.4" y1="70.3" x2="518.7" y2="76.8" stroke="#c6c2bd" stroke-width="3.2" stroke-linecap="round"/>
<line x1="526.2" y1="73.4" x2="520.8" y2="81.9" stroke="#c6c2bd" stroke-width="2.2" stroke-linecap="round"/>
<line x1="533.9" y1="81.7" x2="526.6" y2="87.6" stroke="#c6c2bd" stroke-width="2.2" stroke-linecap="round"/>
<line x1="537.7" y1="88.9" x2="531.9" y2="91.8" stroke="#c6c2bd" stroke-width="3.0" stroke-linecap="round"/>
<line x1="538.8" y1="91.9" x2="534.5" y2="93.6" stroke="#c6c2bd" stroke-width="2.5" stroke-linecap="round"/>
<line x1="541.2" y1="105.9" x2="535.7" y2="106.1" stroke="#c6c2bd" stroke-width="3.3" stroke-linecap="round"/>
<line x1="540.8" y1="114.1" x2="530.9" y2="112.4" stroke="#c6c2bd" stroke-width="2.7" stroke-linecap="round"/>
<line x1="539.9" y1="118.6" x2="532.7" y2="116.5" stroke="#c6c2bd" stroke-width="3.3" stroke-linecap="round"/>
<line x1="537.9" y1="124.9" x2="530.0" y2="121.1" stroke="#c6c2bd" stroke-width="3.3" stroke-linecap="round"/>
<line x1="531.8" y1="135.5" x2="528.6" y2="132.4" stroke="#c6c2bd" stroke-width="3.5" stroke-linecap="round"/>
<line x1="529.7" y1="137.9" x2="525.6" y2="133.1" stroke="#c6c2bd" stroke-width="3.1" stroke-linecap="round"/>
<line x1="520.3" y1="144.6" x2="518.1" y2="138.8" stroke="#c6c2bd" stroke-width="3.5" stroke-linecap="round"/>
<line x1="515.7" y1="146.3" x2="514.5" y2="140.3" stroke="#c6c2bd" stroke-width="2.6" stroke-linecap="round"/>
<line x1="510.9" y1="147.0" x2="510.7" y2="142.4" stroke="#c6c2bd" stroke-width="2.4" stroke-linecap="round"/>
<line x1="501.7" y1="145.9" x2="504.2" y2="136.1" stroke="#c6c2bd" stroke-width="2.4" stroke-linecap="round"/>
<line x1="498.4" y1="144.7" x2="501.9" y2="135.2" stroke="#c6c2bd" stroke-width="2.9" stroke-linecap="round"/>
<line x1="490.9" y1="139.8" x2="494.2" y2="135.2" stroke="#c6c2bd" stroke-width="3.0" stroke-linecap="round"/>
<line x1="484.5" y1="132.3" x2="490.0" y2="128.0" stroke="#c6c2bd" stroke-width="2.8" stroke-linecap="round"/>
<line x1="482.8" y1="129.5" x2="491.0" y2="124.1" stroke="#c6c2bd" stroke-width="2.2" stroke-linecap="round"/>
<line x1="478.9" y1="119.6" x2="487.8" y2="116.7" stroke="#c6c2bd" stroke-width="2.4" stroke-linecap="round"/>
<line x1="477.4" y1="109.9" x2="487.4" y2="109.2" stroke="#c6c2bd" stroke-width="3.1" stroke-linecap="round"/>
<line x1="477.7" y1="101.2" x2="482.6" y2="101.9" stroke="#c6c2bd" stroke-width="2.8" stroke-linecap="round"/>
<line x1="478.4" y1="97.0" x2="487.5" y2="99.4" stroke="#c6c2bd" stroke-width="2.6" stroke-linecap="round"/>
<line x1="481.5" y1="87.5" x2="490.5" y2="92.5" stroke="#c6c2bd" stroke-width="3.4" stroke-linecap="round"/>
<line x1="487.3" y1="78.3" x2="492.1" y2="83.3" stroke="#c6c2bd" stroke-width="2.9" stroke-linecap="round"/>
<line x1="491.5" y1="74.1" x2="495.5" y2="80.0" stroke="#c6c2bd" stroke-width="2.6" stroke-linecap="round"/>
<line x1="495.9" y1="71.0" x2="498.1" y2="75.6" stroke="#c6c2bd" stroke-width="2.7" stroke-linecap="round"/>
<line x1="505.1" y1="67.7" x2="506.4" y2="77.5" stroke="#c6c2bd" stroke-width="3.1" stroke-linecap="round"/>
<path d="M509.30,67.98 L513.28,66.61 L517.22,67.61 L521.09,69.20 L524.70,71.75 L528.23,74.58 L530.96,78.75 L534.04,82.44 L536.83,86.63 L538.72,91.57 L540.52,96.56 L541.03,101.94 L541.88,107.20 L541.72,112.48 L541.39,117.74 L540.28,122.80 L538.18,127.31 L536.08,131.81 L533.36,135.83 L530.46,139.81 L526.70,142.67 L522.47,144.49 L518.37,146.79 L513.81,147.20 L509.30,148.01 L504.79,147.19 L500.40,146.04 L495.90,145.14 L492.13,142.20 L488.50,139.27 L484.83,136.31 L482.09,132.20 L480.23,127.45 L478.03,122.95 L477.21,117.74 L476.54,112.54 L476.93,107.20 L476.94,101.83 L478.24,96.62 L479.66,91.45 L481.80,86.66 L484.66,82.54 L487.46,78.52 L490.71,75.17 L494.12,72.25 L497.75,69.99 L501.47,68.07 L505.33,66.75Z" fill="none" stroke="#d0ccc8" stroke-width="2.5"/>
<circle cx="491.3" cy="85.2" r="3" fill="#d9d6d2"/>
<circle cx="527.3" cy="85.2" r="3" fill="#d9d6d2"/>
<circle cx="487.3" cy="121.2" r="3.5" fill="#d9d6d2"/>
<circle cx="531.3" cy="121.2" r="3.5" fill="#d9d6d2"/>
<circle cx="497.3" cy="133.2" r="3" fill="#d9d6d2"/>
<circle cx="521.3" cy="133.2" r="3" fill="#d9d6d2"/>
<circle cx="509.3" cy="77.2" r="2.5" fill="#d9d6d2"/>
<circle cx="484.3" cy="102.2" r="2.5" fill="#d9d6d2"/>
<circle cx="534.3" cy="102.2" r="2.5" fill="#d9d6d2"/>
</g></g>
<path d="M509.30,67.98 L513.28,66.61 L517.22,67.61 L521.09,69.20 L524.70,71.75 L528.23,74.58 L530.96,78.75 L534.04,82.44 L536.83,86.63 L538.72,91.57 L540.52,96.56 L541.03,101.94 L541.88,107.20 L541.72,112.48 L541.39,117.74 L540.28,122.80 L538.18,127.31 L536.08,131.81 L533.36,135.83 L530.46,139.81 L526.70,142.67 L522.47,144.49 L518.37,146.79 L513.81,147.20 L509.30,148.01 L504.79,147.19 L500.40,146.04 L495.90,145.14 L492.13,142.20 L488.50,139.27 L484.83,136.31 L482.09,132.20 L480.23,127.45 L478.03,122.95 L477.21,117.74 L476.54,112.54 L476.93,107.20 L476.94,101.83 L478.24,96.62 L479.66,91.45 L481.80,86.66 L484.66,82.54 L487.46,78.52 L490.71,75.17 L494.12,72.25 L497.75,69.99 L501.47,68.07 L505.33,66.75Z" fill="none" stroke="#9c968f" stroke-width="0.8"/>
<line x1="509.3" y1="68.5" x2="509.3" y2="78.5" stroke="#b9b4ae" stroke-width="1.4"/>
<line x1="509.3" y1="145.9" x2="509.3" y2="133.9" stroke="#c9c4bf" stroke-width="1.4"/>
<ellipse cx="509.3" cy="110.2" rx="11.736" ry="14.652000000000001" fill="#ddd9d5"/>
<path d="M507.3,91.2 L511.3,91.2 L511.8,101.2 L506.8,101.2Z" fill="#9a928a"/>
<path d="M506.3,111.2 L512.3,111.2 L513.3,121.2 L505.3,121.2Z" fill="#bdb5ad"/>
<path d="M496.3,115.2 Q494.3,121.2 498.3,125.2 L501.3,119.2 Z" fill="#9f978f"/>
<path d="M522.3,115.2 Q524.3,121.2 520.3,125.2 L517.3,119.2 Z" fill="#9f978f"/>
<ellipse cx="497.3" cy="100.7" rx="3.4" ry="7.4" fill="#f8eca2" transform="rotate(10 497.3 100.7)"/>
<ellipse cx="521.3" cy="100.7" rx="3.4" ry="7.4" fill="#f8eca2" transform="rotate(-10 521.3 100.7)"/>
<path d="M499.8,87.7 Q505.3,88.2 507.3,91.2 L507.3,98.7 Q502.3,96.2 499.8,87.7 Z" fill="#a8142c"/>
<path d="M518.8,87.7 Q513.3,88.2 511.3,91.2 L511.3,98.7 Q516.3,96.2 518.8,87.7 Z" fill="#a8142c"/>
<ellipse cx="504.3" cy="108.7" rx="4.6" ry="7" fill="#f8e38a" transform="rotate(-25 504.3 108.7)"/>
<ellipse cx="514.3" cy="108.7" rx="4.6" ry="7" fill="#f8e38a" transform="rotate(25 514.3 108.7)"/>
<ellipse cx="501.8" cy="115.7" rx="2" ry="2.5" fill="#f8e38a"/>
<ellipse cx="516.8" cy="115.7" rx="2" ry="2.5" fill="#f8e38a"/>
<clipPath id="ax123"><path d="M509.20,168.78 L513.18,167.41 L517.12,168.42 L520.99,170.02 L524.60,172.59 L528.13,175.44 L530.86,179.64 L533.94,183.36 L536.73,187.58 L538.62,192.55 L540.42,197.59 L540.93,203.00 L541.78,208.30 L541.62,213.62 L541.29,218.92 L540.18,224.02 L538.08,228.56 L535.98,233.09 L533.26,237.14 L530.36,241.15 L526.60,244.03 L522.37,245.87 L518.27,248.19 L513.71,248.60 L509.20,249.42 L504.69,248.59 L500.30,247.43 L495.80,246.52 L492.03,243.56 L488.40,240.61 L484.73,237.63 L481.99,233.48 L480.13,228.70 L477.93,224.16 L477.11,218.92 L476.44,213.67 L476.83,208.30 L476.84,202.89 L478.14,197.64 L479.56,192.43 L481.70,187.61 L484.56,183.46 L487.36,179.41 L490.61,176.03 L494.02,173.09 L497.65,170.82 L501.37,168.89 L505.23,167.55Z"/></clipPath>
<path d="M509.20,168.78 L513.18,167.41 L517.12,168.42 L520.99,170.02 L524.60,172.59 L528.13,175.44 L530.86,179.64 L533.94,183.36 L536.73,187.58 L538.62,192.55 L540.42,197.59 L540.93,203.00 L541.78,208.30 L541.62,213.62 L541.29,218.92 L540.18,224.02 L538.08,228.56 L535.98,233.09 L533.26,237.14 L530.36,241.15 L526.60,244.03 L522.37,245.87 L518.27,248.19 L513.71,248.60 L509.20,249.42 L504.69,248.59 L500.30,247.43 L495.80,246.52 L492.03,243.56 L488.40,240.61 L484.73,237.63 L481.99,233.48 L480.13,228.70 L477.93,224.16 L477.11,218.92 L476.44,213.67 L476.83,208.30 L476.84,202.89 L478.14,197.64 L479.56,192.43 L481.70,187.61 L484.56,183.46 L487.36,179.41 L490.61,176.03 L494.02,173.09 L497.65,170.82 L501.37,168.89 L505.23,167.55Z" fill="#e4e1de"/>
<g clip-path="url(#ax123)">
<ellipse cx="509.2" cy="209.3" rx="26.6" ry="34.5" fill="#f5f4f2"/>
<g filter="url(#fb)">
<line x1="506.7" y1="168.2" x2="507.3" y2="176.5" stroke="#c6c2bd" stroke-width="2.7" stroke-linecap="round"/>
<line x1="514.9" y1="168.8" x2="513.2" y2="177.7" stroke="#c6c2bd" stroke-width="2.9" stroke-linecap="round"/>
<line x1="521.3" y1="171.1" x2="518.6" y2="177.7" stroke="#c6c2bd" stroke-width="3.2" stroke-linecap="round"/>
<line x1="526.1" y1="174.2" x2="520.7" y2="182.7" stroke="#c6c2bd" stroke-width="2.2" stroke-linecap="round"/>
<line x1="533.8" y1="182.6" x2="526.5" y2="188.5" stroke="#c6c2bd" stroke-width="2.2" stroke-linecap="round"/>
<line x1="537.6" y1="189.8" x2="531.8" y2="192.8" stroke="#c6c2bd" stroke-width="3.0" stroke-linecap="round"/>
<line x1="538.7" y1="192.9" x2="534.4" y2="194.6" stroke="#c6c2bd" stroke-width="2.5" stroke-linecap="round"/>
<line x1="541.1" y1="207.0" x2="535.6" y2="207.2" stroke="#c6c2bd" stroke-width="3.3" stroke-linecap="round"/>
<line x1="540.7" y1="215.2" x2="530.8" y2="213.5" stroke="#c6c2bd" stroke-width="2.7" stroke-linecap="round"/>
<line x1="539.8" y1="219.8" x2="532.6" y2="217.7" stroke="#c6c2bd" stroke-width="3.3" stroke-linecap="round"/>
<line x1="537.8" y1="226.2" x2="529.9" y2="222.3" stroke="#c6c2bd" stroke-width="3.3" stroke-linecap="round"/>
<line x1="531.7" y1="236.9" x2="528.5" y2="233.7" stroke="#c6c2bd" stroke-width="3.5" stroke-linecap="round"/>
<line x1="529.6" y1="239.2" x2="525.5" y2="234.4" stroke="#c6c2bd" stroke-width="3.1" stroke-linecap="round"/>
<line x1="520.2" y1="246.0" x2="518.0" y2="240.2" stroke="#c6c2bd" stroke-width="3.5" stroke-linecap="round"/>
<line x1="515.6" y1="247.7" x2="514.4" y2="241.7" stroke="#c6c2bd" stroke-width="2.6" stroke-linecap="round"/>
<line x1="510.8" y1="248.4" x2="510.6" y2="243.8" stroke="#c6c2bd" stroke-width="2.4" stroke-linecap="round"/>
<line x1="501.6" y1="247.3" x2="504.1" y2="237.5" stroke="#c6c2bd" stroke-width="2.4" stroke-linecap="round"/>
<line x1="498.3" y1="246.1" x2="501.8" y2="236.6" stroke="#c6c2bd" stroke-width="2.9" stroke-linecap="round"/>
<line x1="490.8" y1="241.2" x2="494.1" y2="236.6" stroke="#c6c2bd" stroke-width="3.0" stroke-linecap="round"/>
<line x1="484.4" y1="233.6" x2="489.9" y2="229.2" stroke="#c6c2bd" stroke-width="2.8" stroke-linecap="round"/>
<line x1="482.7" y1="230.8" x2="490.9" y2="225.4" stroke="#c6c2bd" stroke-width="2.2" stroke-linecap="round"/>
<line x1="478.8" y1="220.8" x2="487.7" y2="217.9" stroke="#c6c2bd" stroke-width="2.4" stroke-linecap="round"/>
<line x1="477.3" y1="211.0" x2="487.3" y2="210.3" stroke="#c6c2bd" stroke-width="3.1" stroke-linecap="round"/>
<line x1="477.6" y1="202.3" x2="482.5" y2="203.0" stroke="#c6c2bd" stroke-width="2.8" stroke-linecap="round"/>
<line x1="478.3" y1="198.0" x2="487.4" y2="200.4" stroke="#c6c2bd" stroke-width="2.6" stroke-linecap="round"/>
<line x1="481.4" y1="188.5" x2="490.4" y2="193.5" stroke="#c6c2bd" stroke-width="3.4" stroke-linecap="round"/>
<line x1="487.2" y1="179.2" x2="492.0" y2="184.2" stroke="#c6c2bd" stroke-width="2.9" stroke-linecap="round"/>
<line x1="491.4" y1="174.9" x2="495.4" y2="180.8" stroke="#c6c2bd" stroke-width="2.6" stroke-linecap="round"/>
<line x1="495.8" y1="171.8" x2="498.0" y2="176.4" stroke="#c6c2bd" stroke-width="2.7" stroke-linecap="round"/>
<line x1="505.0" y1="168.5" x2="506.3" y2="178.3" stroke="#c6c2bd" stroke-width="3.1" stroke-linecap="round"/>
<path d="M509.20,168.78 L513.18,167.41 L517.12,168.42 L520.99,170.02 L524.60,172.59 L528.13,175.44 L530.86,179.64 L533.94,183.36 L536.73,187.58 L538.62,192.55 L540.42,197.59 L540.93,203.00 L541.78,208.30 L541.62,213.62 L541.29,218.92 L540.18,224.02 L538.08,228.56 L535.98,233.09 L533.26,237.14 L530.36,241.15 L526.60,244.03 L522.37,245.87 L518.27,248.19 L513.71,248.60 L509.20,249.42 L504.69,248.59 L500.30,247.43 L495.80,246.52 L492.03,243.56 L488.40,240.61 L484.73,237.63 L481.99,233.48 L480.13,228.70 L477.93,224.16 L477.11,218.92 L476.44,213.67 L476.83,208.30 L476.84,202.89 L478.14,197.64 L479.56,192.43 L481.70,187.61 L484.56,183.46 L487.36,179.41 L490.61,176.03 L494.02,173.09 L497.65,170.82 L501.37,168.89 L505.23,167.55Z" fill="none" stroke="#d0ccc8" stroke-width="2.5"/>
<circle cx="491.2" cy="186.3" r="3" fill="#d9d6d2"/>
<circle cx="527.2" cy="186.3" r="3" fill="#d9d6d2"/>
<circle cx="487.2" cy="222.3" r="3.5" fill="#d9d6d2"/>
<circle cx="531.2" cy="222.3" r="3.5" fill="#d9d6d2"/>
<circle cx="497.2" cy="234.3" r="3" fill="#d9d6d2"/>
<circle cx="521.2" cy="234.3" r="3" fill="#d9d6d2"/>
<circle cx="509.2" cy="178.3" r="2.5" fill="#d9d6d2"/>
<circle cx="484.2" cy="203.3" r="2.5" fill="#d9d6d2"/>
<circle cx="534.2" cy="203.3" r="2.5" fill="#d9d6d2"/>
</g></g>
<path d="M509.20,168.78 L513.18,167.41 L517.12,168.42 L520.99,170.02 L524.60,172.59 L528.13,175.44 L530.86,179.64 L533.94,183.36 L536.73,187.58 L538.62,192.55 L540.42,197.59 L540.93,203.00 L541.78,208.30 L541.62,213.62 L541.29,218.92 L540.18,224.02 L538.08,228.56 L535.98,233.09 L533.26,237.14 L530.36,241.15 L526.60,244.03 L522.37,245.87 L518.27,248.19 L513.71,248.60 L509.20,249.42 L504.69,248.59 L500.30,247.43 L495.80,246.52 L492.03,243.56 L488.40,240.61 L484.73,237.63 L481.99,233.48 L480.13,228.70 L477.93,224.16 L477.11,218.92 L476.44,213.67 L476.83,208.30 L476.84,202.89 L478.14,197.64 L479.56,192.43 L481.70,187.61 L484.56,183.46 L487.36,179.41 L490.61,176.03 L494.02,173.09 L497.65,170.82 L501.37,168.89 L505.23,167.55Z" fill="none" stroke="#9c968f" stroke-width="0.8"/>
<line x1="509.2" y1="169.3" x2="509.2" y2="179.3" stroke="#b9b4ae" stroke-width="1.4"/>
<line x1="509.2" y1="247.3" x2="509.2" y2="235.3" stroke="#c9c4bf" stroke-width="1.4"/>
<ellipse cx="509.2" cy="211.3" rx="11.736" ry="14.76" fill="#ddd9d5"/>
<path d="M507.2,192.3 L511.2,192.3 L511.7,202.3 L506.7,202.3Z" fill="#9a928a"/>
<path d="M506.2,212.3 L512.2,212.3 L513.2,222.3 L505.2,222.3Z" fill="#bdb5ad"/>
<path d="M496.2,216.3 Q494.2,222.3 498.2,226.3 L501.2,220.3 Z" fill="#9f978f"/>
<path d="M522.2,216.3 Q524.2,222.3 520.2,226.3 L517.2,220.3 Z" fill="#9f978f"/>
<ellipse cx="497.2" cy="201.8" rx="3.4" ry="7.4" fill="#f8eca2" transform="rotate(10 497.2 201.8)"/>
<ellipse cx="521.2" cy="201.8" rx="3.4" ry="7.4" fill="#f8eca2" transform="rotate(-10 521.2 201.8)"/>
<path d="M499.7,188.8 Q505.2,189.3 507.2,192.3 L507.2,199.8 Q502.2,197.3 499.7,188.8 Z" fill="#a8142c"/>
<path d="M518.7,188.8 Q513.2,189.3 511.2,192.3 L511.2,199.8 Q516.2,197.3 518.7,188.8 Z" fill="#a8142c"/>
<ellipse cx="504.2" cy="209.8" rx="4.6" ry="7" fill="#f8e38a" transform="rotate(-25 504.2 209.8)"/>
<ellipse cx="514.2" cy="209.8" rx="4.6" ry="7" fill="#f8e38a" transform="rotate(25 514.2 209.8)"/>
<ellipse cx="499.2" cy="217.8" rx="4.5" ry="1.8" fill="#f8e38a"/>
<ellipse cx="519.2" cy="217.8" rx="4.5" ry="1.8" fill="#f8e38a"/>
<clipPath id="clip185"><path d="M334.6,402.9C334.6,401.5 335.3,399.5 335.5,397.8C335.7,396.0 335.3,394.3 335.8,392.6C336.3,390.9 337.8,389.3 338.5,387.6C339.2,385.9 339.3,383.9 340.1,382.2C340.9,380.5 342.2,378.9 343.3,377.3C344.5,375.7 345.4,374.1 347.0,372.7C348.5,371.3 350.9,370.4 352.6,369.0C354.4,367.5 355.6,365.3 357.3,364.1C359.1,362.8 361.3,362.3 363.4,361.4C365.4,360.6 367.3,359.7 369.4,358.9C371.6,358.1 374.1,357.4 376.4,356.5C378.7,355.7 380.9,354.4 383.2,353.7C385.6,353.1 388.0,353.3 390.3,352.7C392.6,352.2 395.2,350.9 397.0,350.3C398.9,349.6 399.9,349.3 401.4,348.8C402.8,348.3 404.2,347.5 405.7,347.3C407.1,347.2 408.6,348.0 410.0,347.9C411.5,347.8 412.9,346.7 414.3,346.8C415.7,346.9 417.1,348.1 418.6,348.6C420.0,349.2 421.6,349.5 422.9,350.3C424.3,351.1 425.4,352.6 426.9,353.5C428.3,354.4 430.0,354.6 431.6,355.4C433.2,356.3 434.7,357.8 436.4,358.7C438.2,359.5 440.5,359.6 441.9,360.6C443.4,361.6 444.1,363.3 445.3,364.6C446.4,365.9 447.6,366.9 448.8,368.4C450.1,369.8 451.6,371.5 452.8,373.3C453.9,375.0 454.8,376.9 455.7,378.8C456.7,380.6 457.5,382.6 458.7,384.3C459.8,386.0 461.5,387.4 462.6,389.1C463.7,390.8 464.2,392.8 465.3,394.5C466.3,396.3 468.0,397.8 468.7,399.5C469.4,401.1 469.2,402.9 469.3,404.6C469.5,406.4 469.7,408.2 469.6,409.8C469.4,411.5 469.1,413.0 468.5,414.4C468.0,415.9 467.1,417.5 466.1,418.5C465.1,419.4 463.8,419.4 462.7,419.9C461.5,420.3 460.6,420.8 459.2,421.0C457.7,421.3 455.7,421.2 454.0,421.3C452.3,421.4 450.5,421.5 448.8,421.9C447.1,422.3 445.5,423.3 443.8,423.6C442.1,423.9 440.2,423.3 438.5,423.6C436.8,424.0 435.2,424.7 433.8,425.6C432.3,426.4 431.3,427.7 429.8,428.8C428.4,429.9 426.7,431.1 424.9,432.0C423.2,432.8 421.4,433.3 419.5,434.0C417.5,434.7 415.3,435.4 413.3,436.2C411.3,437.1 409.4,438.3 407.4,439.2C405.4,440.0 403.1,440.3 401.1,441.2C399.1,442.1 397.1,444.1 395.3,444.3C393.5,444.6 392.0,443.1 390.3,442.8C388.5,442.5 386.5,443.1 385.0,442.6C383.4,442.1 382.3,440.6 380.8,439.7C379.4,438.9 377.5,438.5 376.3,437.4C375.1,436.4 374.4,434.8 373.7,433.4C373.0,431.9 372.6,430.1 372.0,428.8C371.5,427.6 371.0,426.7 370.3,425.9C369.6,425.0 369.0,424.1 367.7,423.6C366.4,423.1 364.2,423.2 362.5,422.9C360.8,422.6 359.1,422.2 357.3,421.9C355.6,421.6 353.9,421.6 352.1,421.3C350.4,421.0 348.5,420.8 347.0,420.2C345.4,419.5 344.2,418.3 342.8,417.4C341.3,416.5 339.4,415.8 338.4,415.0C337.3,414.2 337.1,413.3 336.6,412.5C336.0,411.6 335.1,410.8 334.9,409.8C334.7,408.8 335.5,407.5 335.5,406.3C335.4,405.2 334.6,404.3 334.6,402.9Z"/></clipPath>
<path d="M334.6,402.9C334.6,401.5 335.3,399.5 335.5,397.8C335.7,396.0 335.3,394.3 335.8,392.6C336.3,390.9 337.8,389.3 338.5,387.6C339.2,385.9 339.3,383.9 340.1,382.2C340.9,380.5 342.2,378.9 343.3,377.3C344.5,375.7 345.4,374.1 347.0,372.7C348.5,371.3 350.9,370.4 352.6,369.0C354.4,367.5 355.6,365.3 357.3,364.1C359.1,362.8 361.3,362.3 363.4,361.4C365.4,360.6 367.3,359.7 369.4,358.9C371.6,358.1 374.1,357.4 376.4,356.5C378.7,355.7 380.9,354.4 383.2,353.7C385.6,353.1 388.0,353.3 390.3,352.7C392.6,352.2 395.2,350.9 397.0,350.3C398.9,349.6 399.9,349.3 401.4,348.8C402.8,348.3 404.2,347.5 405.7,347.3C407.1,347.2 408.6,348.0 410.0,347.9C411.5,347.8 412.9,346.7 414.3,346.8C415.7,346.9 417.1,348.1 418.6,348.6C420.0,349.2 421.6,349.5 422.9,350.3C424.3,351.1 425.4,352.6 426.9,353.5C428.3,354.4 430.0,354.6 431.6,355.4C433.2,356.3 434.7,357.8 436.4,358.7C438.2,359.5 440.5,359.6 441.9,360.6C443.4,361.6 444.1,363.3 445.3,364.6C446.4,365.9 447.6,366.9 448.8,368.4C450.1,369.8 451.6,371.5 452.8,373.3C453.9,375.0 454.8,376.9 455.7,378.8C456.7,380.6 457.5,382.6 458.7,384.3C459.8,386.0 461.5,387.4 462.6,389.1C463.7,390.8 464.2,392.8 465.3,394.5C466.3,396.3 468.0,397.8 468.7,399.5C469.4,401.1 469.2,402.9 469.3,404.6C469.5,406.4 469.7,408.2 469.6,409.8C469.4,411.5 469.1,413.0 468.5,414.4C468.0,415.9 467.1,417.5 466.1,418.5C465.1,419.4 463.8,419.4 462.7,419.9C461.5,420.3 460.6,420.8 459.2,421.0C457.7,421.3 455.7,421.2 454.0,421.3C452.3,421.4 450.5,421.5 448.8,421.9C447.1,422.3 445.5,423.3 443.8,423.6C442.1,423.9 440.2,423.3 438.5,423.6C436.8,424.0 435.2,424.7 433.8,425.6C432.3,426.4 431.3,427.7 429.8,428.8C428.4,429.9 426.7,431.1 424.9,432.0C423.2,432.8 421.4,433.3 419.5,434.0C417.5,434.7 415.3,435.4 413.3,436.2C411.3,437.1 409.4,438.3 407.4,439.2C405.4,440.0 403.1,440.3 401.1,441.2C399.1,442.1 397.1,444.1 395.3,444.3C393.5,444.6 392.0,443.1 390.3,442.8C388.5,442.5 386.5,443.1 385.0,442.6C383.4,442.1 382.3,440.6 380.8,439.7C379.4,438.9 377.5,438.5 376.3,437.4C375.1,436.4 374.4,434.8 373.7,433.4C373.0,431.9 372.6,430.1 372.0,428.8C371.5,427.6 371.0,426.7 370.3,425.9C369.6,425.0 369.0,424.1 367.7,423.6C366.4,423.1 364.2,423.2 362.5,422.9C360.8,422.6 359.1,422.2 357.3,421.9C355.6,421.6 353.9,421.6 352.1,421.3C350.4,421.0 348.5,420.8 347.0,420.2C345.4,419.5 344.2,418.3 342.8,417.4C341.3,416.5 339.4,415.8 338.4,415.0C337.3,414.2 337.1,413.3 336.6,412.5C336.0,411.6 335.1,410.8 334.9,409.8C334.7,408.8 335.5,407.5 335.5,406.3C335.4,405.2 334.6,404.3 334.6,402.9Z" fill="#ebc678" stroke="none" stroke-width="0" />
<g clip-path="url(#clip185)">
<path d="M343.5,389.1C344.5,386.5 346.5,382.3 348.0,378.8C349.4,375.4 349.2,371.2 352.2,368.4C355.2,365.6 361.3,364.2 365.9,362.2C370.5,360.2 375.8,357.8 379.8,356.3C383.8,354.8 386.5,353.9 389.9,353.3C393.4,352.7 398.6,352.1 400.5,352.9C402.4,353.7 401.0,356.3 401.3,358.1C401.5,359.8 403.5,362.2 402.2,363.2C401.0,364.2 396.5,363.8 393.6,364.1C390.7,364.4 388.3,364.0 385.0,364.9C381.7,365.8 377.6,368.1 373.8,369.5C370.1,370.9 365.7,371.9 362.5,373.6C359.4,375.3 357.2,377.5 354.9,379.8C352.6,382.1 350.3,385.1 348.7,387.4C347.1,389.7 346.4,391.4 345.3,393.4C344.1,395.5 342.3,399.3 341.8,399.5C341.3,399.6 342.0,395.9 342.3,394.2C342.6,392.5 342.6,391.7 343.5,389.1Z" fill="#f7f1c4" stroke="none" stroke-width="0" />
<path d="M345.3,394.3C345.7,391.2 348.8,388.6 350.5,385.7C352.2,382.8 352.4,379.6 355.6,377.0C358.9,374.5 365.2,372.5 370.1,370.5C375.0,368.5 380.6,366.4 385.0,364.9C389.3,363.5 392.3,362.7 396.1,361.8C399.8,361.0 404.8,359.4 407.4,359.8C410.1,360.1 410.2,363.0 412.0,364.1C413.7,365.3 415.6,366.0 417.8,366.7C419.9,367.3 422.4,368.2 424.7,368.2C427.0,368.2 429.0,366.0 431.6,366.7C434.1,367.3 437.1,370.5 440.0,372.2C442.9,373.9 447.2,374.9 448.8,377.0C450.5,379.2 449.3,382.4 449.9,384.9C450.5,387.5 453.6,391.0 452.3,392.6C451.0,394.1 445.5,394.1 442.0,394.4C438.6,394.7 435.0,393.8 431.6,394.3C428.1,394.8 424.8,396.6 421.4,397.5C417.9,398.3 414.7,398.1 410.9,399.5C407.0,400.9 402.4,403.8 398.0,405.8C393.7,407.8 388.6,410.1 385.0,411.5C381.4,413.0 379.3,413.4 376.4,414.3C373.5,415.2 370.7,416.4 367.7,416.7C364.7,417.1 361.3,416.7 358.2,416.4C355.0,416.1 350.4,417.0 348.7,415.0C347.0,413.0 348.7,407.9 348.1,404.5C347.5,401.0 344.9,397.4 345.3,394.3Z" fill="#e98b3e" stroke="none" stroke-width="0" />
<path d="M402.2,373.6C403.0,372.6 407.6,372.6 410.2,371.7C412.8,370.8 415.2,368.9 417.8,368.4C420.3,367.9 423.0,368.4 425.6,368.7C428.2,369.0 430.7,369.2 433.3,370.1C435.9,371.0 438.8,372.5 441.3,373.9C443.9,375.4 447.6,376.8 448.8,378.8C450.1,380.7 449.3,383.5 449.0,385.8C448.8,388.1 448.7,391.7 447.1,392.6C445.5,393.4 442.0,391.0 439.4,390.7C436.9,390.4 433.8,391.5 431.6,390.8C429.3,390.2 428.0,387.8 425.9,386.7C423.9,385.5 421.5,384.7 419.5,383.9C417.4,383.2 415.6,382.3 413.6,382.0C411.6,381.7 408.7,383.0 407.4,382.2C406.1,381.4 406.4,378.9 405.5,377.4C404.7,376.0 401.4,374.5 402.2,373.6Z" fill="#c42a4c" stroke="none" stroke-width="0" />
<path d="M338.4,411.5C339.3,410.9 342.0,412.2 343.7,411.9C345.5,411.6 347.2,409.7 348.7,409.8C350.2,410.0 351.5,411.7 352.6,412.8C353.8,414.0 355.9,415.4 355.6,416.7C355.3,418.0 352.4,419.4 350.7,420.6C349.0,421.7 347.0,423.2 345.3,423.6C343.6,424.1 341.9,423.8 340.4,423.2C339.0,422.6 337.0,421.4 336.6,420.2C336.3,419.0 337.9,417.4 338.2,416.0C338.5,414.6 337.4,412.2 338.4,411.5Z" fill="#c42a4c" stroke="none" stroke-width="0" />
<path d="M438.5,411.5C440.6,410.9 445.5,410.7 449.0,411.0C452.4,411.3 456.9,412.1 459.2,413.3C461.5,414.4 461.1,416.8 462.6,417.9C464.0,419.1 468.5,419.4 467.8,420.2C467.1,421.0 461.6,422.1 458.5,422.6C455.3,423.2 451.4,424.1 448.8,423.6C446.3,423.2 445.2,420.9 443.2,420.1C441.2,419.2 437.9,419.4 436.8,418.5C435.6,417.5 435.9,415.8 436.1,414.6C436.4,413.5 436.3,412.2 438.5,411.5Z" fill="#e8603e" stroke="none" stroke-width="0" />
<path d="M371.2,432.3C371.7,431.5 374.1,432.1 375.6,431.8C377.0,431.5 379.1,429.9 379.8,430.5C380.5,431.2 379.7,434.0 379.7,435.7C379.7,437.4 380.4,440.1 379.8,440.9C379.2,441.7 377.5,440.6 376.3,440.6C375.2,440.6 373.6,441.6 372.9,440.9C372.2,440.2 372.5,438.0 372.2,436.5C371.9,435.1 370.6,433.1 371.2,432.3Z" fill="#e8603e" stroke="none" stroke-width="0" />
<g filter="url(#fs)" opacity="0.35">
<path d="M393.6,399.5C397.0,396.6 404.5,395.4 410.9,394.3C417.2,393.1 427.0,391.7 431.6,392.6C436.2,393.4 439.6,396.9 438.5,399.5C437.3,402.1 430.4,405.8 424.7,408.1C418.9,410.4 409.7,412.7 404.0,413.3C398.2,413.9 391.9,413.9 390.1,411.5C388.4,409.2 390.1,402.3 393.6,399.5Z" fill="#9c7e44" stroke="none" stroke-width="0" />
<path d="M353.9,394.3C355.6,391.7 363.4,390.3 367.7,390.8C372.0,391.4 378.9,395.1 379.8,397.7C380.6,400.3 376.6,404.9 372.9,406.4C369.1,407.8 360.5,408.4 357.3,406.4C354.2,404.4 352.2,396.9 353.9,394.3Z" fill="#9c7e44" stroke="none" stroke-width="0" />
<path d="M400.5,363.2C403.4,360.6 413.7,359.8 417.8,361.5C421.8,363.2 425.8,370.4 424.7,373.6C423.5,376.7 414.9,379.9 410.9,380.5C406.8,381.1 402.2,379.9 400.5,377.0C398.8,374.1 397.6,365.8 400.5,363.2Z" fill="#9c7e44" stroke="none" stroke-width="0" />
</g>
<g fill="none" stroke-linecap="round" stroke-linejoin="round" transform="translate(0,292.5)"><use href="#sLL" stroke="#8f7038" stroke-width="3.6" opacity="0.42"/><use href="#sLL" stroke="#5a4424" stroke-width="1.1" opacity="0.85"/><use href="#sLL" transform="translate(1.3,1.5)" stroke="#fff8d8" stroke-width="1.2" opacity="0.45"/></g>
<path d="M334.6,402.9C334.6,401.5 335.3,399.5 335.5,397.8C335.7,396.0 335.3,394.3 335.8,392.6C336.3,390.9 337.8,389.3 338.5,387.6C339.2,385.9 339.3,383.9 340.1,382.2C340.9,380.5 342.2,378.9 343.3,377.3C344.5,375.7 345.4,374.1 347.0,372.7C348.5,371.3 350.9,370.4 352.6,369.0C354.4,367.5 355.6,365.3 357.3,364.1C359.1,362.8 361.3,362.3 363.4,361.4C365.4,360.6 367.3,359.7 369.4,358.9C371.6,358.1 374.1,357.4 376.4,356.5C378.7,355.7 380.9,354.4 383.2,353.7C385.6,353.1 388.0,353.3 390.3,352.7C392.6,352.2 395.2,350.9 397.0,350.3C398.9,349.6 399.9,349.3 401.4,348.8C402.8,348.3 404.2,347.5 405.7,347.3C407.1,347.2 408.6,348.0 410.0,347.9C411.5,347.8 412.9,346.7 414.3,346.8C415.7,346.9 417.1,348.1 418.6,348.6C420.0,349.2 421.6,349.5 422.9,350.3C424.3,351.1 425.4,352.6 426.9,353.5C428.3,354.4 430.0,354.6 431.6,355.4C433.2,356.3 434.7,357.8 436.4,358.7C438.2,359.5 440.5,359.6 441.9,360.6C443.4,361.6 444.1,363.3 445.3,364.6C446.4,365.9 447.6,366.9 448.8,368.4C450.1,369.8 451.6,371.5 452.8,373.3C453.9,375.0 454.8,376.9 455.7,378.8C456.7,380.6 457.5,382.6 458.7,384.3C459.8,386.0 461.5,387.4 462.6,389.1C463.7,390.8 464.2,392.8 465.3,394.5C466.3,396.3 468.0,397.8 468.7,399.5C469.4,401.1 469.2,402.9 469.3,404.6C469.5,406.4 469.7,408.2 469.6,409.8C469.4,411.5 469.1,413.0 468.5,414.4C468.0,415.9 467.1,417.5 466.1,418.5C465.1,419.4 463.8,419.4 462.7,419.9C461.5,420.3 460.6,420.8 459.2,421.0C457.7,421.3 455.7,421.2 454.0,421.3C452.3,421.4 450.5,421.5 448.8,421.9C447.1,422.3 445.5,423.3 443.8,423.6C442.1,423.9 440.2,423.3 438.5,423.6C436.8,424.0 435.2,424.7 433.8,425.6C432.3,426.4 431.3,427.7 429.8,428.8C428.4,429.9 426.7,431.1 424.9,432.0C423.2,432.8 421.4,433.3 419.5,434.0C417.5,434.7 415.3,435.4 413.3,436.2C411.3,437.1 409.4,438.3 407.4,439.2C405.4,440.0 403.1,440.3 401.1,441.2C399.1,442.1 397.1,444.1 395.3,444.3C393.5,444.6 392.0,443.1 390.3,442.8C388.5,442.5 386.5,443.1 385.0,442.6C383.4,442.1 382.3,440.6 380.8,439.7C379.4,438.9 377.5,438.5 376.3,437.4C375.1,436.4 374.4,434.8 373.7,433.4C373.0,431.9 372.6,430.1 372.0,428.8C371.5,427.6 371.0,426.7 370.3,425.9C369.6,425.0 369.0,424.1 367.7,423.6C366.4,423.1 364.2,423.2 362.5,422.9C360.8,422.6 359.1,422.2 357.3,421.9C355.6,421.6 353.9,421.6 352.1,421.3C350.4,421.0 348.5,420.8 347.0,420.2C345.4,419.5 344.2,418.3 342.8,417.4C341.3,416.5 339.4,415.8 338.4,415.0C337.3,414.2 337.1,413.3 336.6,412.5C336.0,411.6 335.1,410.8 334.9,409.8C334.7,408.8 335.5,407.5 335.5,406.3C335.4,405.2 334.6,404.3 334.6,402.9Z" fill="none" stroke="#b79a5a" stroke-width="3.5" opacity="0.6"/>
</g>
<path d="M334.6,402.9C334.6,401.5 335.3,399.5 335.5,397.8C335.7,396.0 335.3,394.3 335.8,392.6C336.3,390.9 337.8,389.3 338.5,387.6C339.2,385.9 339.3,383.9 340.1,382.2C340.9,380.5 342.2,378.9 343.3,377.3C344.5,375.7 345.4,374.1 347.0,372.7C348.5,371.3 350.9,370.4 352.6,369.0C354.4,367.5 355.6,365.3 357.3,364.1C359.1,362.8 361.3,362.3 363.4,361.4C365.4,360.6 367.3,359.7 369.4,358.9C371.6,358.1 374.1,357.4 376.4,356.5C378.7,355.7 380.9,354.4 383.2,353.7C385.6,353.1 388.0,353.3 390.3,352.7C392.6,352.2 395.2,350.9 397.0,350.3C398.9,349.6 399.9,349.3 401.4,348.8C402.8,348.3 404.2,347.5 405.7,347.3C407.1,347.2 408.6,348.0 410.0,347.9C411.5,347.8 412.9,346.7 414.3,346.8C415.7,346.9 417.1,348.1 418.6,348.6C420.0,349.2 421.6,349.5 422.9,350.3C424.3,351.1 425.4,352.6 426.9,353.5C428.3,354.4 430.0,354.6 431.6,355.4C433.2,356.3 434.7,357.8 436.4,358.7C438.2,359.5 440.5,359.6 441.9,360.6C443.4,361.6 444.1,363.3 445.3,364.6C446.4,365.9 447.6,366.9 448.8,368.4C450.1,369.8 451.6,371.5 452.8,373.3C453.9,375.0 454.8,376.9 455.7,378.8C456.7,380.6 457.5,382.6 458.7,384.3C459.8,386.0 461.5,387.4 462.6,389.1C463.7,390.8 464.2,392.8 465.3,394.5C466.3,396.3 468.0,397.8 468.7,399.5C469.4,401.1 469.2,402.9 469.3,404.6C469.5,406.4 469.7,408.2 469.6,409.8C469.4,411.5 469.1,413.0 468.5,414.4C468.0,415.9 467.1,417.5 466.1,418.5C465.1,419.4 463.8,419.4 462.7,419.9C461.5,420.3 460.6,420.8 459.2,421.0C457.7,421.3 455.7,421.2 454.0,421.3C452.3,421.4 450.5,421.5 448.8,421.9C447.1,422.3 445.5,423.3 443.8,423.6C442.1,423.9 440.2,423.3 438.5,423.6C436.8,424.0 435.2,424.7 433.8,425.6C432.3,426.4 431.3,427.7 429.8,428.8C428.4,429.9 426.7,431.1 424.9,432.0C423.2,432.8 421.4,433.3 419.5,434.0C417.5,434.7 415.3,435.4 413.3,436.2C411.3,437.1 409.4,438.3 407.4,439.2C405.4,440.0 403.1,440.3 401.1,441.2C399.1,442.1 397.1,444.1 395.3,444.3C393.5,444.6 392.0,443.1 390.3,442.8C388.5,442.5 386.5,443.1 385.0,442.6C383.4,442.1 382.3,440.6 380.8,439.7C379.4,438.9 377.5,438.5 376.3,437.4C375.1,436.4 374.4,434.8 373.7,433.4C373.0,431.9 372.6,430.1 372.0,428.8C371.5,427.6 371.0,426.7 370.3,425.9C369.6,425.0 369.0,424.1 367.7,423.6C366.4,423.1 364.2,423.2 362.5,422.9C360.8,422.6 359.1,422.2 357.3,421.9C355.6,421.6 353.9,421.6 352.1,421.3C350.4,421.0 348.5,420.8 347.0,420.2C345.4,419.5 344.2,418.3 342.8,417.4C341.3,416.5 339.4,415.8 338.4,415.0C337.3,414.2 337.1,413.3 336.6,412.5C336.0,411.6 335.1,410.8 334.9,409.8C334.7,408.8 335.5,407.5 335.5,406.3C335.4,405.2 334.6,404.3 334.6,402.9Z" fill="none" stroke="#4e402c" stroke-width="0.8" />
<clipPath id="clip203"><path d="M550.6,415.0C550.5,413.4 551.1,409.8 551.2,407.2C551.2,404.7 550.6,401.9 551.1,399.5C551.7,397.1 553.5,395.1 554.4,392.8C555.3,390.5 555.6,387.9 556.6,385.7C557.7,383.4 559.3,381.5 560.7,379.5C562.2,377.4 563.7,375.3 565.3,373.6C566.8,371.8 568.7,370.6 570.1,368.9C571.6,367.1 572.1,365.0 573.9,363.2C575.7,361.4 578.5,359.7 580.8,358.0C583.1,356.3 585.5,354.1 587.7,352.9C589.9,351.6 591.8,351.3 593.8,350.5C595.9,349.6 597.6,348.0 599.8,347.7C601.9,347.3 604.4,348.4 606.7,348.4C609.0,348.4 611.4,347.4 613.6,347.7C615.8,348.0 617.6,349.4 619.6,350.3C621.7,351.1 623.6,352.0 625.7,352.9C627.8,353.7 630.1,354.8 632.4,355.4C634.7,355.9 637.3,355.7 639.5,356.3C641.7,356.9 643.5,358.1 645.5,359.0C647.5,359.9 649.5,360.3 651.6,361.5C653.7,362.7 655.8,365.0 658.1,366.4C660.4,367.9 663.4,368.4 665.4,370.1C667.4,371.8 668.3,374.6 670.0,376.6C671.8,378.6 674.2,380.3 675.7,382.2C677.3,384.2 678.2,386.3 679.5,388.3C680.8,390.3 682.5,392.3 683.5,394.3C684.5,396.3 684.9,398.2 685.4,400.2C685.8,402.2 686.4,404.5 686.1,406.4C685.8,408.2 684.3,409.6 683.8,411.3C683.2,413.1 683.7,415.3 682.6,416.7C681.6,418.1 678.9,418.6 677.2,419.8C675.5,420.9 674.2,422.5 672.3,423.6C670.3,424.7 667.8,425.6 665.5,426.4C663.2,427.3 660.3,428.1 658.5,428.8C656.6,429.5 655.8,430.1 654.3,430.4C652.9,430.7 650.8,430.1 649.8,430.5C648.9,431.0 649.1,432.3 648.7,433.2C648.2,434.0 648.0,434.9 647.3,435.7C646.5,436.5 645.1,437.3 644.1,438.2C643.1,439.0 642.6,440.2 641.2,440.9C639.9,441.6 637.8,442.0 636.1,442.1C634.4,442.3 632.8,442.6 630.9,441.8C628.9,440.9 626.6,438.5 624.3,437.2C622.0,435.9 619.5,435.2 617.0,434.0C614.6,432.8 612.1,431.6 609.8,430.2C607.5,428.8 605.5,426.7 603.2,425.4C601.0,424.1 598.8,423.3 596.5,422.4C594.2,421.6 591.7,420.8 589.4,420.2C587.1,419.6 584.9,419.0 582.6,418.7C580.3,418.4 577.9,418.7 575.6,418.5C573.3,418.2 571.1,417.2 568.8,416.9C566.5,416.6 563.7,416.7 561.8,416.7C559.9,416.8 558.9,417.0 557.4,417.3C556.0,417.6 554.2,418.5 553.2,418.5C552.2,418.4 551.9,417.6 551.4,417.1C551.0,416.5 550.6,416.6 550.6,415.0Z"/></clipPath>
<path d="M550.6,415.0C550.5,413.4 551.1,409.8 551.2,407.2C551.2,404.7 550.6,401.9 551.1,399.5C551.7,397.1 553.5,395.1 554.4,392.8C555.3,390.5 555.6,387.9 556.6,385.7C557.7,383.4 559.3,381.5 560.7,379.5C562.2,377.4 563.7,375.3 565.3,373.6C566.8,371.8 568.7,370.6 570.1,368.9C571.6,367.1 572.1,365.0 573.9,363.2C575.7,361.4 578.5,359.7 580.8,358.0C583.1,356.3 585.5,354.1 587.7,352.9C589.9,351.6 591.8,351.3 593.8,350.5C595.9,349.6 597.6,348.0 599.8,347.7C601.9,347.3 604.4,348.4 606.7,348.4C609.0,348.4 611.4,347.4 613.6,347.7C615.8,348.0 617.6,349.4 619.6,350.3C621.7,351.1 623.6,352.0 625.7,352.9C627.8,353.7 630.1,354.8 632.4,355.4C634.7,355.9 637.3,355.7 639.5,356.3C641.7,356.9 643.5,358.1 645.5,359.0C647.5,359.9 649.5,360.3 651.6,361.5C653.7,362.7 655.8,365.0 658.1,366.4C660.4,367.9 663.4,368.4 665.4,370.1C667.4,371.8 668.3,374.6 670.0,376.6C671.8,378.6 674.2,380.3 675.7,382.2C677.3,384.2 678.2,386.3 679.5,388.3C680.8,390.3 682.5,392.3 683.5,394.3C684.5,396.3 684.9,398.2 685.4,400.2C685.8,402.2 686.4,404.5 686.1,406.4C685.8,408.2 684.3,409.6 683.8,411.3C683.2,413.1 683.7,415.3 682.6,416.7C681.6,418.1 678.9,418.6 677.2,419.8C675.5,420.9 674.2,422.5 672.3,423.6C670.3,424.7 667.8,425.6 665.5,426.4C663.2,427.3 660.3,428.1 658.5,428.8C656.6,429.5 655.8,430.1 654.3,430.4C652.9,430.7 650.8,430.1 649.8,430.5C648.9,431.0 649.1,432.3 648.7,433.2C648.2,434.0 648.0,434.9 647.3,435.7C646.5,436.5 645.1,437.3 644.1,438.2C643.1,439.0 642.6,440.2 641.2,440.9C639.9,441.6 637.8,442.0 636.1,442.1C634.4,442.3 632.8,442.6 630.9,441.8C628.9,440.9 626.6,438.5 624.3,437.2C622.0,435.9 619.5,435.2 617.0,434.0C614.6,432.8 612.1,431.6 609.8,430.2C607.5,428.8 605.5,426.7 603.2,425.4C601.0,424.1 598.8,423.3 596.5,422.4C594.2,421.6 591.7,420.8 589.4,420.2C587.1,419.6 584.9,419.0 582.6,418.7C580.3,418.4 577.9,418.7 575.6,418.5C573.3,418.2 571.1,417.2 568.8,416.9C566.5,416.6 563.7,416.7 561.8,416.7C559.9,416.8 558.9,417.0 557.4,417.3C556.0,417.6 554.2,418.5 553.2,418.5C552.2,418.4 551.9,417.6 551.4,417.1C551.0,416.5 550.6,416.6 550.6,415.0Z" fill="#ebc678" stroke="none" stroke-width="0" />
<g clip-path="url(#clip203)">
<path d="M622.2,354.6C623.9,354.0 629.7,355.3 633.4,355.6C637.2,355.9 640.8,355.1 644.7,356.3C648.6,357.6 652.8,360.8 656.8,363.1C660.9,365.4 665.4,367.0 668.8,370.1C672.3,373.2 675.1,377.5 677.7,381.5C680.3,385.5 683.1,390.7 684.4,394.3C685.6,397.9 684.8,400.1 685.1,402.9C685.4,405.8 686.8,410.1 686.1,411.5C685.4,413.0 682.6,411.6 680.9,411.6C679.2,411.6 677.2,413.6 675.7,411.5C674.3,409.5 673.2,403.6 672.0,399.5C670.9,395.5 670.7,390.7 668.8,387.4C667.0,384.1 663.7,382.0 660.8,379.7C657.9,377.4 655.3,375.5 651.6,373.6C647.9,371.7 642.9,370.2 638.6,368.4C634.3,366.7 628.2,364.8 625.7,363.2C623.2,361.7 624.2,360.5 623.6,359.0C623.0,357.6 620.6,355.2 622.2,354.6Z" fill="#f7f1c4" stroke="none" stroke-width="0" />
<path d="M589.4,352.9C591.9,350.6 599.8,351.8 605.0,351.2C610.2,350.6 616.4,348.8 620.5,349.4C624.6,350.0 626.5,353.0 629.4,355.0C632.3,357.1 634.5,359.5 637.8,361.5C641.1,363.5 645.5,365.1 649.2,367.1C653.0,369.1 657.5,370.9 660.2,373.6C662.9,376.2 663.3,380.0 665.3,382.8C667.4,385.7 671.1,387.5 672.3,390.8C673.5,394.2 671.9,399.1 672.5,403.1C673.1,407.2 676.7,412.4 675.7,415.0C674.8,417.6 669.8,417.5 666.9,419.0C664.1,420.4 661.0,423.5 658.5,423.6C656.0,423.7 654.2,420.7 651.9,419.6C649.6,418.4 647.1,418.5 644.7,416.7C642.2,414.9 639.3,411.6 637.0,408.7C634.7,405.8 634.5,401.3 630.9,399.5C627.2,397.6 620.4,398.3 615.2,397.5C610.0,396.6 603.1,396.2 599.8,394.3C596.4,392.3 596.6,388.7 595.2,385.8C593.8,382.9 592.0,380.5 591.2,377.0C590.3,373.6 590.4,369.0 590.1,365.0C589.8,360.9 587.0,355.1 589.4,352.9Z" fill="#e98b3e" stroke="none" stroke-width="0" />
<path d="M568.7,375.3C569.6,374.1 573.5,374.9 575.8,374.3C578.1,373.7 580.2,372.1 582.5,371.8C584.8,371.6 587.3,372.4 589.6,373.0C591.9,373.6 595.3,373.5 596.3,375.3C597.4,377.1 596.3,381.1 596.0,384.0C595.8,386.9 595.8,390.8 594.6,392.6C593.4,394.3 590.7,394.2 588.7,394.5C586.7,394.8 584.5,395.0 582.5,394.3C580.6,393.5 579.0,391.1 577.0,390.0C575.0,388.8 571.5,388.8 570.4,387.4C569.3,385.9 570.7,383.2 570.4,381.2C570.1,379.2 567.8,376.5 568.7,375.3Z" fill="#c42a4c" stroke="none" stroke-width="0" />
<path d="M658.5,413.3C659.5,412.3 663.2,413.9 665.5,413.6C667.8,413.3 670.4,411.4 672.3,411.5C674.2,411.7 675.6,413.4 677.0,414.5C678.4,415.7 680.9,417.0 680.9,418.5C680.9,419.9 678.4,421.7 676.9,423.1C675.5,424.5 674.2,426.3 672.3,427.1C670.3,427.8 667.5,427.9 665.2,427.6C662.9,427.3 659.5,426.7 658.5,425.4C657.5,424.0 659.2,421.3 659.2,419.3C659.2,417.3 657.4,414.2 658.5,413.3Z" fill="#c42a4c" stroke="none" stroke-width="0" />
<path d="M551.5,411.5C553.0,410.5 558.9,410.1 562.7,410.1C566.4,410.1 572.3,410.4 573.9,411.5C575.5,412.7 572.4,415.0 572.4,416.7C572.4,418.5 575.4,420.9 573.9,421.9C572.4,422.9 567.0,422.6 563.5,422.6C560.1,422.6 554.9,422.9 553.2,421.9C551.5,420.9 553.7,418.3 553.4,416.6C553.1,414.8 549.9,412.6 551.5,411.5Z" fill="#e8603e" stroke="none" stroke-width="0" />
<path d="M637.8,425.4C638.6,424.4 641.1,426.4 642.9,426.6C644.6,426.9 647.4,426.0 648.1,427.1C648.8,428.2 647.5,431.1 647.2,433.1C646.9,435.1 647.2,438.2 646.4,439.2C645.5,440.1 643.5,438.9 642.1,438.9C640.6,438.9 638.5,440.3 637.8,439.2C637.1,438.1 637.9,434.6 637.9,432.3C637.9,430.0 636.9,426.3 637.8,425.4Z" fill="#e8603e" stroke="none" stroke-width="0" />
<g filter="url(#fs)" opacity="0.35">
<path d="M599.8,399.5C603.5,398.3 614.2,399.2 620.5,401.2C626.8,403.2 635.5,408.7 637.8,411.5C640.1,414.4 638.3,417.9 634.3,418.5C630.3,419.0 619.6,416.7 613.6,415.0C607.6,413.3 600.4,410.7 598.1,408.1C595.8,405.5 596.0,400.6 599.8,399.5Z" fill="#9c7e44" stroke="none" stroke-width="0" />
<path d="M637.8,385.7C641.2,385.1 653.3,388.2 658.5,390.8C663.7,393.4 669.4,399.2 668.8,401.2C668.3,403.2 660.2,404.1 655.0,402.9C649.8,401.8 640.6,397.2 637.8,394.3C634.9,391.4 634.3,386.2 637.8,385.7Z" fill="#9c7e44" stroke="none" stroke-width="0" />
<path d="M592.9,363.2C594.6,360.0 606.7,359.2 610.1,361.5C613.6,363.8 615.3,373.9 613.6,377.0C611.9,380.2 603.2,382.8 599.8,380.5C596.3,378.2 591.2,366.4 592.9,363.2Z" fill="#9c7e44" stroke="none" stroke-width="0" />
</g>
<g fill="none" stroke-linecap="round" stroke-linejoin="round" transform="translate(0,292.5)"><use href="#sRL" stroke="#8f7038" stroke-width="3.6" opacity="0.42"/><use href="#sRL" stroke="#5a4424" stroke-width="1.1" opacity="0.85"/><use href="#sRL" transform="translate(1.3,1.5)" stroke="#fff8d8" stroke-width="1.2" opacity="0.45"/></g>
<path d="M550.6,415.0C550.5,413.4 551.1,409.8 551.2,407.2C551.2,404.7 550.6,401.9 551.1,399.5C551.7,397.1 553.5,395.1 554.4,392.8C555.3,390.5 555.6,387.9 556.6,385.7C557.7,383.4 559.3,381.5 560.7,379.5C562.2,377.4 563.7,375.3 565.3,373.6C566.8,371.8 568.7,370.6 570.1,368.9C571.6,367.1 572.1,365.0 573.9,363.2C575.7,361.4 578.5,359.7 580.8,358.0C583.1,356.3 585.5,354.1 587.7,352.9C589.9,351.6 591.8,351.3 593.8,350.5C595.9,349.6 597.6,348.0 599.8,347.7C601.9,347.3 604.4,348.4 606.7,348.4C609.0,348.4 611.4,347.4 613.6,347.7C615.8,348.0 617.6,349.4 619.6,350.3C621.7,351.1 623.6,352.0 625.7,352.9C627.8,353.7 630.1,354.8 632.4,355.4C634.7,355.9 637.3,355.7 639.5,356.3C641.7,356.9 643.5,358.1 645.5,359.0C647.5,359.9 649.5,360.3 651.6,361.5C653.7,362.7 655.8,365.0 658.1,366.4C660.4,367.9 663.4,368.4 665.4,370.1C667.4,371.8 668.3,374.6 670.0,376.6C671.8,378.6 674.2,380.3 675.7,382.2C677.3,384.2 678.2,386.3 679.5,388.3C680.8,390.3 682.5,392.3 683.5,394.3C684.5,396.3 684.9,398.2 685.4,400.2C685.8,402.2 686.4,404.5 686.1,406.4C685.8,408.2 684.3,409.6 683.8,411.3C683.2,413.1 683.7,415.3 682.6,416.7C681.6,418.1 678.9,418.6 677.2,419.8C675.5,420.9 674.2,422.5 672.3,423.6C670.3,424.7 667.8,425.6 665.5,426.4C663.2,427.3 660.3,428.1 658.5,428.8C656.6,429.5 655.8,430.1 654.3,430.4C652.9,430.7 650.8,430.1 649.8,430.5C648.9,431.0 649.1,432.3 648.7,433.2C648.2,434.0 648.0,434.9 647.3,435.7C646.5,436.5 645.1,437.3 644.1,438.2C643.1,439.0 642.6,440.2 641.2,440.9C639.9,441.6 637.8,442.0 636.1,442.1C634.4,442.3 632.8,442.6 630.9,441.8C628.9,440.9 626.6,438.5 624.3,437.2C622.0,435.9 619.5,435.2 617.0,434.0C614.6,432.8 612.1,431.6 609.8,430.2C607.5,428.8 605.5,426.7 603.2,425.4C601.0,424.1 598.8,423.3 596.5,422.4C594.2,421.6 591.7,420.8 589.4,420.2C587.1,419.6 584.9,419.0 582.6,418.7C580.3,418.4 577.9,418.7 575.6,418.5C573.3,418.2 571.1,417.2 568.8,416.9C566.5,416.6 563.7,416.7 561.8,416.7C559.9,416.8 558.9,417.0 557.4,417.3C556.0,417.6 554.2,418.5 553.2,418.5C552.2,418.4 551.9,417.6 551.4,417.1C551.0,416.5 550.6,416.6 550.6,415.0Z" fill="none" stroke="#b79a5a" stroke-width="3.5" opacity="0.6"/>
</g>
<path d="M550.6,415.0C550.5,413.4 551.1,409.8 551.2,407.2C551.2,404.7 550.6,401.9 551.1,399.5C551.7,397.1 553.5,395.1 554.4,392.8C555.3,390.5 555.6,387.9 556.6,385.7C557.7,383.4 559.3,381.5 560.7,379.5C562.2,377.4 563.7,375.3 565.3,373.6C566.8,371.8 568.7,370.6 570.1,368.9C571.6,367.1 572.1,365.0 573.9,363.2C575.7,361.4 578.5,359.7 580.8,358.0C583.1,356.3 585.5,354.1 587.7,352.9C589.9,351.6 591.8,351.3 593.8,350.5C595.9,349.6 597.6,348.0 599.8,347.7C601.9,347.3 604.4,348.4 606.7,348.4C609.0,348.4 611.4,347.4 613.6,347.7C615.8,348.0 617.6,349.4 619.6,350.3C621.7,351.1 623.6,352.0 625.7,352.9C627.8,353.7 630.1,354.8 632.4,355.4C634.7,355.9 637.3,355.7 639.5,356.3C641.7,356.9 643.5,358.1 645.5,359.0C647.5,359.9 649.5,360.3 651.6,361.5C653.7,362.7 655.8,365.0 658.1,366.4C660.4,367.9 663.4,368.4 665.4,370.1C667.4,371.8 668.3,374.6 670.0,376.6C671.8,378.6 674.2,380.3 675.7,382.2C677.3,384.2 678.2,386.3 679.5,388.3C680.8,390.3 682.5,392.3 683.5,394.3C684.5,396.3 684.9,398.2 685.4,400.2C685.8,402.2 686.4,404.5 686.1,406.4C685.8,408.2 684.3,409.6 683.8,411.3C683.2,413.1 683.7,415.3 682.6,416.7C681.6,418.1 678.9,418.6 677.2,419.8C675.5,420.9 674.2,422.5 672.3,423.6C670.3,424.7 667.8,425.6 665.5,426.4C663.2,427.3 660.3,428.1 658.5,428.8C656.6,429.5 655.8,430.1 654.3,430.4C652.9,430.7 650.8,430.1 649.8,430.5C648.9,431.0 649.1,432.3 648.7,433.2C648.2,434.0 648.0,434.9 647.3,435.7C646.5,436.5 645.1,437.3 644.1,438.2C643.1,439.0 642.6,440.2 641.2,440.9C639.9,441.6 637.8,442.0 636.1,442.1C634.4,442.3 632.8,442.6 630.9,441.8C628.9,440.9 626.6,438.5 624.3,437.2C622.0,435.9 619.5,435.2 617.0,434.0C614.6,432.8 612.1,431.6 609.8,430.2C607.5,428.8 605.5,426.7 603.2,425.4C601.0,424.1 598.8,423.3 596.5,422.4C594.2,421.6 591.7,420.8 589.4,420.2C587.1,419.6 584.9,419.0 582.6,418.7C580.3,418.4 577.9,418.7 575.6,418.5C573.3,418.2 571.1,417.2 568.8,416.9C566.5,416.6 563.7,416.7 561.8,416.7C559.9,416.8 558.9,417.0 557.4,417.3C556.0,417.6 554.2,418.5 553.2,418.5C552.2,418.4 551.9,417.6 551.4,417.1C551.0,416.5 550.6,416.6 550.6,415.0Z" fill="none" stroke="#4e402c" stroke-width="0.8" />
<clipPath id="clip221"><path d="M334.0,511.6C334.0,510.0 334.7,508.2 334.8,506.4C335.0,504.7 334.5,503.1 334.9,501.2C335.3,499.4 336.6,497.2 337.4,495.2C338.3,493.2 339.0,491.0 340.1,489.2C341.1,487.3 342.5,485.8 343.7,484.1C344.8,482.4 345.7,480.4 347.0,478.8C348.2,477.2 349.8,475.8 351.2,474.4C352.6,472.9 353.9,471.6 355.6,470.2C357.3,468.7 359.5,467.1 361.6,465.7C363.6,464.3 365.6,462.8 367.7,461.5C369.8,460.3 372.1,459.5 374.1,458.2C376.1,456.9 378.1,454.8 379.8,453.8C381.5,452.8 383.0,452.9 384.4,452.2C385.8,451.5 386.7,449.9 388.4,449.5C390.1,449.0 392.5,449.3 394.5,449.4C396.5,449.6 398.4,449.8 400.5,450.3C402.6,450.9 405.0,452.1 407.3,452.8C409.6,453.5 411.7,453.7 414.3,454.6C416.9,455.6 419.9,457.3 422.8,458.4C425.7,459.6 428.9,460.4 431.6,461.5C434.2,462.7 436.5,463.8 438.8,465.3C441.1,466.7 443.3,468.3 445.4,470.2C447.5,472.0 449.4,474.2 451.4,476.2C453.4,478.3 455.7,480.3 457.5,482.3C459.3,484.2 460.7,486.0 462.2,488.0C463.6,490.0 465.0,492.3 466.1,494.3C467.2,496.4 467.8,498.4 468.7,500.4C469.5,502.4 471.0,504.4 471.3,506.4C471.6,508.4 470.9,510.5 470.6,512.5C470.3,514.5 470.4,517.0 469.6,518.5C468.7,520.0 466.9,520.5 465.8,521.6C464.6,522.8 464.0,524.5 462.6,525.4C461.3,526.4 459.3,526.7 457.5,527.3C455.8,527.9 454.3,528.5 452.3,528.9C450.3,529.2 447.7,529.4 445.4,529.4C443.1,529.4 440.2,528.7 438.5,528.9C436.8,529.1 436.2,530.0 435.0,530.6C433.9,531.2 432.1,531.5 431.6,532.3C431.1,533.2 431.9,534.6 431.9,535.8C431.9,536.9 432.2,538.0 431.6,539.2C431.0,540.4 429.4,541.7 428.3,542.8C427.1,544.0 426.2,545.5 424.7,546.1C423.2,546.7 421.1,546.1 419.4,546.4C417.7,546.7 416.0,548.0 414.3,547.8C412.6,547.7 410.7,546.4 409.0,545.6C407.2,544.7 405.5,543.9 404.0,542.7C402.4,541.5 401.0,539.9 399.5,538.4C398.1,537.0 397.0,535.4 395.3,534.0C393.6,532.7 391.4,531.5 389.4,530.3C387.4,529.2 385.4,527.9 383.2,527.1C381.1,526.3 378.7,525.9 376.4,525.6C374.1,525.3 371.8,525.5 369.4,525.4C367.1,525.3 364.8,525.3 362.5,525.0C360.2,524.8 357.8,524.1 355.6,523.7C353.5,523.3 351.6,523.1 349.6,522.8C347.6,522.5 345.1,522.2 343.5,522.0C341.9,521.7 341.2,521.7 340.0,521.4C338.9,521.1 337.5,521.1 336.6,520.2C335.8,519.3 335.3,517.5 334.8,516.1C334.4,514.6 334.0,513.2 334.0,511.6Z"/></clipPath>
<path d="M334.0,511.6C334.0,510.0 334.7,508.2 334.8,506.4C335.0,504.7 334.5,503.1 334.9,501.2C335.3,499.4 336.6,497.2 337.4,495.2C338.3,493.2 339.0,491.0 340.1,489.2C341.1,487.3 342.5,485.8 343.7,484.1C344.8,482.4 345.7,480.4 347.0,478.8C348.2,477.2 349.8,475.8 351.2,474.4C352.6,472.9 353.9,471.6 355.6,470.2C357.3,468.7 359.5,467.1 361.6,465.7C363.6,464.3 365.6,462.8 367.7,461.5C369.8,460.3 372.1,459.5 374.1,458.2C376.1,456.9 378.1,454.8 379.8,453.8C381.5,452.8 383.0,452.9 384.4,452.2C385.8,451.5 386.7,449.9 388.4,449.5C390.1,449.0 392.5,449.3 394.5,449.4C396.5,449.6 398.4,449.8 400.5,450.3C402.6,450.9 405.0,452.1 407.3,452.8C409.6,453.5 411.7,453.7 414.3,454.6C416.9,455.6 419.9,457.3 422.8,458.4C425.7,459.6 428.9,460.4 431.6,461.5C434.2,462.7 436.5,463.8 438.8,465.3C441.1,466.7 443.3,468.3 445.4,470.2C447.5,472.0 449.4,474.2 451.4,476.2C453.4,478.3 455.7,480.3 457.5,482.3C459.3,484.2 460.7,486.0 462.2,488.0C463.6,490.0 465.0,492.3 466.1,494.3C467.2,496.4 467.8,498.4 468.7,500.4C469.5,502.4 471.0,504.4 471.3,506.4C471.6,508.4 470.9,510.5 470.6,512.5C470.3,514.5 470.4,517.0 469.6,518.5C468.7,520.0 466.9,520.5 465.8,521.6C464.6,522.8 464.0,524.5 462.6,525.4C461.3,526.4 459.3,526.7 457.5,527.3C455.8,527.9 454.3,528.5 452.3,528.9C450.3,529.2 447.7,529.4 445.4,529.4C443.1,529.4 440.2,528.7 438.5,528.9C436.8,529.1 436.2,530.0 435.0,530.6C433.9,531.2 432.1,531.5 431.6,532.3C431.1,533.2 431.9,534.6 431.9,535.8C431.9,536.9 432.2,538.0 431.6,539.2C431.0,540.4 429.4,541.7 428.3,542.8C427.1,544.0 426.2,545.5 424.7,546.1C423.2,546.7 421.1,546.1 419.4,546.4C417.7,546.7 416.0,548.0 414.3,547.8C412.6,547.7 410.7,546.4 409.0,545.6C407.2,544.7 405.5,543.9 404.0,542.7C402.4,541.5 401.0,539.9 399.5,538.4C398.1,537.0 397.0,535.4 395.3,534.0C393.6,532.7 391.4,531.5 389.4,530.3C387.4,529.2 385.4,527.9 383.2,527.1C381.1,526.3 378.7,525.9 376.4,525.6C374.1,525.3 371.8,525.5 369.4,525.4C367.1,525.3 364.8,525.3 362.5,525.0C360.2,524.8 357.8,524.1 355.6,523.7C353.5,523.3 351.6,523.1 349.6,522.8C347.6,522.5 345.1,522.2 343.5,522.0C341.9,521.7 341.2,521.7 340.0,521.4C338.9,521.1 337.5,521.1 336.6,520.2C335.8,519.3 335.3,517.5 334.8,516.1C334.4,514.6 334.0,513.2 334.0,511.6Z" fill="#f3e5a4" stroke="none" stroke-width="0" />
<g clip-path="url(#clip221)">
<path d="M334.0,511.6C334.0,510.0 334.7,508.2 334.8,506.4C335.0,504.7 334.5,503.1 334.9,501.2C335.3,499.4 336.6,497.2 337.4,495.2C338.3,493.2 339.0,491.0 340.1,489.2C341.1,487.3 342.5,485.8 343.7,484.1C344.8,482.4 345.7,480.4 347.0,478.8C348.2,477.2 349.8,475.8 351.2,474.4C352.6,472.9 353.9,471.6 355.6,470.2C357.3,468.7 359.5,467.1 361.6,465.7C363.6,464.3 365.6,462.8 367.7,461.5C369.8,460.3 372.1,459.5 374.1,458.2C376.1,456.9 378.1,454.8 379.8,453.8C381.5,452.8 383.0,452.9 384.4,452.2C385.8,451.5 386.7,449.9 388.4,449.5C390.1,449.0 392.5,449.3 394.5,449.4C396.5,449.6 398.4,449.8 400.5,450.3C402.6,450.9 405.0,452.1 407.3,452.8C409.6,453.5 411.7,453.7 414.3,454.6C416.9,455.6 419.9,457.3 422.8,458.4C425.7,459.6 428.9,460.4 431.6,461.5C434.2,462.7 436.5,463.8 438.8,465.3C441.1,466.7 443.3,468.3 445.4,470.2C447.5,472.0 449.4,474.2 451.4,476.2C453.4,478.3 455.7,480.3 457.5,482.3C459.3,484.2 460.7,486.0 462.2,488.0C463.6,490.0 465.0,492.3 466.1,494.3C467.2,496.4 467.8,498.4 468.7,500.4C469.5,502.4 471.0,504.4 471.3,506.4C471.6,508.4 470.9,510.5 470.6,512.5C470.3,514.5 470.4,517.0 469.6,518.5C468.7,520.0 466.9,520.5 465.8,521.6C464.6,522.8 464.0,524.5 462.6,525.4C461.3,526.4 459.3,526.7 457.5,527.3C455.8,527.9 454.3,528.5 452.3,528.9C450.3,529.2 447.7,529.4 445.4,529.4C443.1,529.4 440.2,528.7 438.5,528.9C436.8,529.1 436.2,530.0 435.0,530.6C433.9,531.2 432.1,531.5 431.6,532.3C431.1,533.2 431.9,534.6 431.9,535.8C431.9,536.9 432.2,538.0 431.6,539.2C431.0,540.4 429.4,541.7 428.3,542.8C427.1,544.0 426.2,545.5 424.7,546.1C423.2,546.7 421.1,546.1 419.4,546.4C417.7,546.7 416.0,548.0 414.3,547.8C412.6,547.7 410.7,546.4 409.0,545.6C407.2,544.7 405.5,543.9 404.0,542.7C402.4,541.5 401.0,539.9 399.5,538.4C398.1,537.0 397.0,535.4 395.3,534.0C393.6,532.7 391.4,531.5 389.4,530.3C387.4,529.2 385.4,527.9 383.2,527.1C381.1,526.3 378.7,525.9 376.4,525.6C374.1,525.3 371.8,525.5 369.4,525.4C367.1,525.3 364.8,525.3 362.5,525.0C360.2,524.8 357.8,524.1 355.6,523.7C353.5,523.3 351.6,523.1 349.6,522.8C347.6,522.5 345.1,522.2 343.5,522.0C341.9,521.7 341.2,521.7 340.0,521.4C338.9,521.1 337.5,521.1 336.6,520.2C335.8,519.3 335.3,517.5 334.8,516.1C334.4,514.6 334.0,513.2 334.0,511.6Z" fill="none" stroke="#e6c67a" stroke-width="9" opacity="0.55"/>
<path d="M404.0,456.4C405.9,455.0 413.0,458.5 417.6,459.1C422.2,459.7 428.5,458.7 431.6,459.8C434.7,460.9 434.9,463.5 436.4,465.5C437.8,467.5 440.2,469.9 440.2,471.9C440.2,473.9 437.6,475.6 436.2,477.3C434.8,479.1 434.5,481.7 431.6,482.3C428.6,482.8 423.0,481.0 418.6,480.5C414.3,479.9 407.8,481.0 405.7,478.8C403.5,476.6 406.0,471.3 405.7,467.5C405.4,463.8 402.0,457.8 404.0,456.4Z" fill="#ebc678" stroke="none" stroke-width="0" />
<path d="M424.7,468.4C426.0,467.3 432.9,468.2 437.0,468.8C441.0,469.3 445.6,469.7 448.8,471.9C452.1,474.1 453.8,479.0 456.6,482.1C459.5,485.3 464.2,487.9 466.1,490.9C468.0,493.9 467.0,497.2 468.2,500.1C469.3,502.9 472.2,505.0 473.0,508.1C473.8,511.3 473.4,515.3 472.8,518.8C472.2,522.2 472.6,527.0 469.6,528.9C466.5,530.7 459.7,529.0 454.8,529.6C449.9,530.2 443.2,533.1 440.2,532.3C437.2,531.5 438.3,527.1 436.9,524.8C435.5,522.5 431.4,520.9 431.6,518.5C431.8,516.1 435.8,513.0 438.1,510.4C440.4,507.8 444.7,505.0 445.4,503.0C446.1,501.0 443.5,499.8 442.3,498.4C441.2,496.9 440.9,494.9 438.5,494.3C436.1,493.7 431.5,495.0 428.0,494.7C424.6,494.4 422.7,492.8 417.8,492.6C412.9,492.4 405.0,492.9 398.7,493.5C392.4,494.1 383.3,496.3 379.8,496.1C376.3,495.8 377.8,493.5 377.5,492.0C377.2,490.6 374.4,488.2 378.1,487.4C381.7,486.6 392.5,487.4 399.7,487.1C406.9,486.8 416.5,486.4 421.2,485.7C425.9,485.0 425.7,483.7 428.0,482.8C430.3,482.0 434.9,481.8 435.0,480.5C435.2,479.3 430.6,477.4 428.8,475.4C427.1,473.3 423.3,469.5 424.7,468.4Z" fill="#e98b3e" stroke="none" stroke-width="0" />
<path d="M385.0,452.9C386.1,451.1 391.4,452.2 394.6,452.5C397.7,452.7 402.3,452.7 404.0,454.6C405.6,456.6 404.8,461.1 404.5,464.3C404.2,467.4 403.8,471.9 402.2,473.6C400.7,475.4 397.6,474.8 395.3,474.8C393.0,474.8 389.6,475.6 388.4,473.6C387.2,471.7 388.5,466.5 388.0,463.0C387.4,459.6 383.9,454.7 385.0,452.9Z" fill="#c42a4c" stroke="none" stroke-width="0" />
<path d="M388.4,523.7C391.4,522.9 402.9,524.2 410.0,524.7C417.2,525.3 427.5,525.5 431.6,527.1C435.6,528.8 433.8,532.1 434.3,534.7C434.9,537.3 436.4,541.2 435.0,542.7C433.7,544.1 429.1,542.9 426.2,543.4C423.3,544.0 421.3,546.3 417.8,546.1C414.2,545.9 409.1,544.1 405.1,542.4C401.0,540.6 395.8,537.9 393.6,535.8C391.4,533.6 392.7,531.4 391.9,529.3C391.0,527.3 385.4,524.4 388.4,523.7Z" fill="#ec9a50" stroke="none" stroke-width="0" />
<g fill="none" stroke-linecap="round" stroke-linejoin="round" transform="translate(0,294.0)"><use href="#sLM" stroke="#8f7038" stroke-width="3.6" opacity="0.42"/><use href="#sLM" stroke="#5a4424" stroke-width="1.1" opacity="0.85"/><use href="#sLM" transform="translate(1.3,1.5)" stroke="#fff8d8" stroke-width="1.2" opacity="0.45"/></g>
<path d="M381.5,496.1C382.7,493.8 385.3,490.9 388.4,489.2C391.6,487.4 395.6,486.3 400.5,485.7C405.4,485.1 412.9,485.1 417.8,485.7C422.7,486.3 426.4,487.4 429.8,489.2C433.3,490.9 436.5,493.8 438.5,496.1C440.5,498.4 441.9,500.7 441.9,503.0C441.9,505.3 441.1,508.4 438.5,509.9C435.9,511.3 429.8,510.4 426.4,511.6C422.9,512.7 419.5,514.8 417.8,516.8C416.0,518.8 417.5,522.2 416.0,523.7C414.6,525.1 411.7,525.7 409.1,525.4C406.5,525.1 403.1,523.7 400.5,522.0C397.9,520.2 395.9,517.1 393.6,515.0C391.3,513.0 388.7,511.9 386.7,509.9C384.7,507.9 382.4,505.3 381.5,503.0C380.6,500.7 380.4,498.4 381.5,496.1Z" fill="#c4bfbb" stroke="#6f6660" stroke-width="0.7" />
<path d="M381.5,496.1C382.7,494.9 385.3,490.9 388.4,489.2C391.6,487.4 395.6,486.3 400.5,485.7C405.4,485.1 412.9,485.1 417.8,485.7C422.7,486.3 426.4,487.4 429.8,489.2C433.3,490.9 436.5,493.8 438.5,496.1C440.5,498.4 441.4,501.8 441.9,503.0" fill="none" stroke="#4f4640" stroke-width="1.6" stroke-linecap="round" opacity="0.8"/>
<path d="M421.2,515.0C422.4,514.1 427.0,516.2 429.8,516.2C432.7,516.2 437.1,514.2 438.5,515.0C439.9,515.9 438.1,519.2 438.4,521.2C438.7,523.2 441.2,526.0 440.2,527.1C439.2,528.2 435.0,527.5 432.4,527.7C429.8,528.0 426.3,529.8 424.7,528.9C423.0,527.9 423.1,524.4 422.5,522.1C421.9,519.8 420.0,516.0 421.2,515.0Z" fill="#c42a4c" stroke="none" stroke-width="0" />
<path d="M393.6,501.2C395.1,500.8 398.8,502.3 401.4,502.3C404.0,502.3 408.0,500.8 409.1,501.2C410.3,501.6 408.4,503.5 408.4,504.7C408.4,505.8 410.3,507.6 409.1,508.1C408.0,508.6 404.0,507.7 401.4,507.7C398.8,507.7 395.1,508.6 393.6,508.1C392.1,507.6 392.6,505.8 392.6,504.7C392.6,503.5 392.1,501.6 393.6,501.2Z" fill="#ec8040" stroke="none" stroke-width="0" />
<path d="M334.0,511.6C334.0,510.0 334.7,508.2 334.8,506.4C335.0,504.7 334.5,503.1 334.9,501.2C335.3,499.4 336.6,497.2 337.4,495.2C338.3,493.2 339.0,491.0 340.1,489.2C341.1,487.3 342.5,485.8 343.7,484.1C344.8,482.4 345.7,480.4 347.0,478.8C348.2,477.2 349.8,475.8 351.2,474.4C352.6,472.9 353.9,471.6 355.6,470.2C357.3,468.7 359.5,467.1 361.6,465.7C363.6,464.3 365.6,462.8 367.7,461.5C369.8,460.3 372.1,459.5 374.1,458.2C376.1,456.9 378.1,454.8 379.8,453.8C381.5,452.8 383.0,452.9 384.4,452.2C385.8,451.5 386.7,449.9 388.4,449.5C390.1,449.0 392.5,449.3 394.5,449.4C396.5,449.6 398.4,449.8 400.5,450.3C402.6,450.9 405.0,452.1 407.3,452.8C409.6,453.5 411.7,453.7 414.3,454.6C416.9,455.6 419.9,457.3 422.8,458.4C425.7,459.6 428.9,460.4 431.6,461.5C434.2,462.7 436.5,463.8 438.8,465.3C441.1,466.7 443.3,468.3 445.4,470.2C447.5,472.0 449.4,474.2 451.4,476.2C453.4,478.3 455.7,480.3 457.5,482.3C459.3,484.2 460.7,486.0 462.2,488.0C463.6,490.0 465.0,492.3 466.1,494.3C467.2,496.4 467.8,498.4 468.7,500.4C469.5,502.4 471.0,504.4 471.3,506.4C471.6,508.4 470.9,510.5 470.6,512.5C470.3,514.5 470.4,517.0 469.6,518.5C468.7,520.0 466.9,520.5 465.8,521.6C464.6,522.8 464.0,524.5 462.6,525.4C461.3,526.4 459.3,526.7 457.5,527.3C455.8,527.9 454.3,528.5 452.3,528.9C450.3,529.2 447.7,529.4 445.4,529.4C443.1,529.4 440.2,528.7 438.5,528.9C436.8,529.1 436.2,530.0 435.0,530.6C433.9,531.2 432.1,531.5 431.6,532.3C431.1,533.2 431.9,534.6 431.9,535.8C431.9,536.9 432.2,538.0 431.6,539.2C431.0,540.4 429.4,541.7 428.3,542.8C427.1,544.0 426.2,545.5 424.7,546.1C423.2,546.7 421.1,546.1 419.4,546.4C417.7,546.7 416.0,548.0 414.3,547.8C412.6,547.7 410.7,546.4 409.0,545.6C407.2,544.7 405.5,543.9 404.0,542.7C402.4,541.5 401.0,539.9 399.5,538.4C398.1,537.0 397.0,535.4 395.3,534.0C393.6,532.7 391.4,531.5 389.4,530.3C387.4,529.2 385.4,527.9 383.2,527.1C381.1,526.3 378.7,525.9 376.4,525.6C374.1,525.3 371.8,525.5 369.4,525.4C367.1,525.3 364.8,525.3 362.5,525.0C360.2,524.8 357.8,524.1 355.6,523.7C353.5,523.3 351.6,523.1 349.6,522.8C347.6,522.5 345.1,522.2 343.5,522.0C341.9,521.7 341.2,521.7 340.0,521.4C338.9,521.1 337.5,521.1 336.6,520.2C335.8,519.3 335.3,517.5 334.8,516.1C334.4,514.6 334.0,513.2 334.0,511.6Z" fill="none" stroke="#b79a5a" stroke-width="3" opacity="0.5"/>
</g>
<path d="M334.0,511.6C334.0,510.0 334.7,508.2 334.8,506.4C335.0,504.7 334.5,503.1 334.9,501.2C335.3,499.4 336.6,497.2 337.4,495.2C338.3,493.2 339.0,491.0 340.1,489.2C341.1,487.3 342.5,485.8 343.7,484.1C344.8,482.4 345.7,480.4 347.0,478.8C348.2,477.2 349.8,475.8 351.2,474.4C352.6,472.9 353.9,471.6 355.6,470.2C357.3,468.7 359.5,467.1 361.6,465.7C363.6,464.3 365.6,462.8 367.7,461.5C369.8,460.3 372.1,459.5 374.1,458.2C376.1,456.9 378.1,454.8 379.8,453.8C381.5,452.8 383.0,452.9 384.4,452.2C385.8,451.5 386.7,449.9 388.4,449.5C390.1,449.0 392.5,449.3 394.5,449.4C396.5,449.6 398.4,449.8 400.5,450.3C402.6,450.9 405.0,452.1 407.3,452.8C409.6,453.5 411.7,453.7 414.3,454.6C416.9,455.6 419.9,457.3 422.8,458.4C425.7,459.6 428.9,460.4 431.6,461.5C434.2,462.7 436.5,463.8 438.8,465.3C441.1,466.7 443.3,468.3 445.4,470.2C447.5,472.0 449.4,474.2 451.4,476.2C453.4,478.3 455.7,480.3 457.5,482.3C459.3,484.2 460.7,486.0 462.2,488.0C463.6,490.0 465.0,492.3 466.1,494.3C467.2,496.4 467.8,498.4 468.7,500.4C469.5,502.4 471.0,504.4 471.3,506.4C471.6,508.4 470.9,510.5 470.6,512.5C470.3,514.5 470.4,517.0 469.6,518.5C468.7,520.0 466.9,520.5 465.8,521.6C464.6,522.8 464.0,524.5 462.6,525.4C461.3,526.4 459.3,526.7 457.5,527.3C455.8,527.9 454.3,528.5 452.3,528.9C450.3,529.2 447.7,529.4 445.4,529.4C443.1,529.4 440.2,528.7 438.5,528.9C436.8,529.1 436.2,530.0 435.0,530.6C433.9,531.2 432.1,531.5 431.6,532.3C431.1,533.2 431.9,534.6 431.9,535.8C431.9,536.9 432.2,538.0 431.6,539.2C431.0,540.4 429.4,541.7 428.3,542.8C427.1,544.0 426.2,545.5 424.7,546.1C423.2,546.7 421.1,546.1 419.4,546.4C417.7,546.7 416.0,548.0 414.3,547.8C412.6,547.7 410.7,546.4 409.0,545.6C407.2,544.7 405.5,543.9 404.0,542.7C402.4,541.5 401.0,539.9 399.5,538.4C398.1,537.0 397.0,535.4 395.3,534.0C393.6,532.7 391.4,531.5 389.4,530.3C387.4,529.2 385.4,527.9 383.2,527.1C381.1,526.3 378.7,525.9 376.4,525.6C374.1,525.3 371.8,525.5 369.4,525.4C367.1,525.3 364.8,525.3 362.5,525.0C360.2,524.8 357.8,524.1 355.6,523.7C353.5,523.3 351.6,523.1 349.6,522.8C347.6,522.5 345.1,522.2 343.5,522.0C341.9,521.7 341.2,521.7 340.0,521.4C338.9,521.1 337.5,521.1 336.6,520.2C335.8,519.3 335.3,517.5 334.8,516.1C334.4,514.6 334.0,513.2 334.0,511.6Z" fill="none" stroke="#4e402c" stroke-width="0.8" />
<clipPath id="clip237"><path d="M550.6,508.1C550.8,506.6 551.5,504.2 551.8,502.2C552.1,500.1 551.7,498.1 552.3,496.1C552.9,494.0 554.3,492.0 555.3,490.0C556.3,488.0 557.0,485.8 558.4,484.0C559.8,482.1 561.9,480.7 563.7,478.9C565.4,477.2 566.7,475.2 568.7,473.6C570.7,472.0 573.2,470.6 575.5,469.2C577.8,467.7 580.1,466.3 582.5,465.0C585.0,463.7 587.6,462.5 590.2,461.4C592.8,460.2 595.4,459.0 598.1,458.1C600.7,457.2 603.4,456.9 606.0,456.1C608.6,455.2 611.3,453.6 613.6,452.9C615.9,452.2 617.8,452.4 619.8,451.8C621.8,451.2 624.0,449.9 625.7,449.5C627.4,449.0 628.6,449.0 630.0,449.0C631.4,449.0 632.8,448.9 634.3,449.5C635.9,450.0 637.6,451.5 639.3,452.3C641.1,453.2 643.0,453.6 644.7,454.6C646.4,455.6 647.9,457.2 649.6,458.4C651.4,459.5 653.3,460.4 655.0,461.5C656.7,462.7 658.4,463.9 659.8,465.4C661.3,466.8 662.6,468.8 663.7,470.2C664.7,471.5 665.4,472.5 666.2,473.6C667.1,474.8 667.8,476.0 668.8,477.1C669.9,478.2 671.5,479.0 672.6,480.2C673.8,481.3 674.6,482.5 675.7,484.0C676.8,485.5 678.0,487.4 679.2,489.2C680.3,490.9 681.7,492.6 682.6,494.3C683.5,496.0 684.0,497.7 684.6,499.5C685.1,501.2 686.1,502.8 686.1,504.7C686.1,506.6 685.0,508.7 684.8,510.7C684.5,512.7 684.8,515.3 684.4,516.8C683.9,518.2 682.8,518.6 681.9,519.5C681.1,520.4 680.5,521.5 679.2,522.0C677.9,522.4 675.7,522.5 674.0,522.5C672.3,522.5 670.9,522.3 668.8,522.0C666.8,521.6 664.2,520.8 661.9,520.3C659.6,519.7 657.0,518.5 655.0,518.5C653.0,518.5 651.7,520.0 650.0,520.5C648.2,521.1 646.8,521.1 644.7,522.0C642.5,522.8 639.6,524.5 637.0,525.6C634.4,526.8 631.8,527.7 629.1,528.9C626.5,530.0 623.7,531.2 621.1,532.6C618.5,534.1 615.7,536.1 613.6,537.5C611.5,538.9 610.3,540.1 608.6,541.2C606.9,542.4 604.9,543.8 603.2,544.4C601.6,544.9 600.4,544.5 598.9,544.5C597.5,544.5 595.9,545.2 594.6,544.4C593.3,543.6 592.5,541.3 591.4,539.9C590.2,538.5 588.5,537.1 587.7,535.8C586.9,534.4 587.1,533.2 586.6,532.0C586.0,530.9 585.9,529.4 584.3,528.9C582.6,528.3 579.0,528.8 576.4,528.5C573.8,528.2 571.0,527.8 568.7,527.1C566.4,526.5 564.7,525.4 562.7,524.5C560.7,523.6 558.1,522.9 556.6,522.0C555.1,521.0 554.7,519.8 553.8,518.7C552.9,517.5 552.0,516.2 551.5,515.0C550.9,513.9 550.6,512.8 550.5,511.7C550.4,510.5 550.4,509.7 550.6,508.1Z"/></clipPath>
<path d="M550.6,508.1C550.8,506.6 551.5,504.2 551.8,502.2C552.1,500.1 551.7,498.1 552.3,496.1C552.9,494.0 554.3,492.0 555.3,490.0C556.3,488.0 557.0,485.8 558.4,484.0C559.8,482.1 561.9,480.7 563.7,478.9C565.4,477.2 566.7,475.2 568.7,473.6C570.7,472.0 573.2,470.6 575.5,469.2C577.8,467.7 580.1,466.3 582.5,465.0C585.0,463.7 587.6,462.5 590.2,461.4C592.8,460.2 595.4,459.0 598.1,458.1C600.7,457.2 603.4,456.9 606.0,456.1C608.6,455.2 611.3,453.6 613.6,452.9C615.9,452.2 617.8,452.4 619.8,451.8C621.8,451.2 624.0,449.9 625.7,449.5C627.4,449.0 628.6,449.0 630.0,449.0C631.4,449.0 632.8,448.9 634.3,449.5C635.9,450.0 637.6,451.5 639.3,452.3C641.1,453.2 643.0,453.6 644.7,454.6C646.4,455.6 647.9,457.2 649.6,458.4C651.4,459.5 653.3,460.4 655.0,461.5C656.7,462.7 658.4,463.9 659.8,465.4C661.3,466.8 662.6,468.8 663.7,470.2C664.7,471.5 665.4,472.5 666.2,473.6C667.1,474.8 667.8,476.0 668.8,477.1C669.9,478.2 671.5,479.0 672.6,480.2C673.8,481.3 674.6,482.5 675.7,484.0C676.8,485.5 678.0,487.4 679.2,489.2C680.3,490.9 681.7,492.6 682.6,494.3C683.5,496.0 684.0,497.7 684.6,499.5C685.1,501.2 686.1,502.8 686.1,504.7C686.1,506.6 685.0,508.7 684.8,510.7C684.5,512.7 684.8,515.3 684.4,516.8C683.9,518.2 682.8,518.6 681.9,519.5C681.1,520.4 680.5,521.5 679.2,522.0C677.9,522.4 675.7,522.5 674.0,522.5C672.3,522.5 670.9,522.3 668.8,522.0C666.8,521.6 664.2,520.8 661.9,520.3C659.6,519.7 657.0,518.5 655.0,518.5C653.0,518.5 651.7,520.0 650.0,520.5C648.2,521.1 646.8,521.1 644.7,522.0C642.5,522.8 639.6,524.5 637.0,525.6C634.4,526.8 631.8,527.7 629.1,528.9C626.5,530.0 623.7,531.2 621.1,532.6C618.5,534.1 615.7,536.1 613.6,537.5C611.5,538.9 610.3,540.1 608.6,541.2C606.9,542.4 604.9,543.8 603.2,544.4C601.6,544.9 600.4,544.5 598.9,544.5C597.5,544.5 595.9,545.2 594.6,544.4C593.3,543.6 592.5,541.3 591.4,539.9C590.2,538.5 588.5,537.1 587.7,535.8C586.9,534.4 587.1,533.2 586.6,532.0C586.0,530.9 585.9,529.4 584.3,528.9C582.6,528.3 579.0,528.8 576.4,528.5C573.8,528.2 571.0,527.8 568.7,527.1C566.4,526.5 564.7,525.4 562.7,524.5C560.7,523.6 558.1,522.9 556.6,522.0C555.1,521.0 554.7,519.8 553.8,518.7C552.9,517.5 552.0,516.2 551.5,515.0C550.9,513.9 550.6,512.8 550.5,511.7C550.4,510.5 550.4,509.7 550.6,508.1Z" fill="#f3e5a4" stroke="none" stroke-width="0" />
<g clip-path="url(#clip237)">
<path d="M550.6,508.1C550.8,506.6 551.5,504.2 551.8,502.2C552.1,500.1 551.7,498.1 552.3,496.1C552.9,494.0 554.3,492.0 555.3,490.0C556.3,488.0 557.0,485.8 558.4,484.0C559.8,482.1 561.9,480.7 563.7,478.9C565.4,477.2 566.7,475.2 568.7,473.6C570.7,472.0 573.2,470.6 575.5,469.2C577.8,467.7 580.1,466.3 582.5,465.0C585.0,463.7 587.6,462.5 590.2,461.4C592.8,460.2 595.4,459.0 598.1,458.1C600.7,457.2 603.4,456.9 606.0,456.1C608.6,455.2 611.3,453.6 613.6,452.9C615.9,452.2 617.8,452.4 619.8,451.8C621.8,451.2 624.0,449.9 625.7,449.5C627.4,449.0 628.6,449.0 630.0,449.0C631.4,449.0 632.8,448.9 634.3,449.5C635.9,450.0 637.6,451.5 639.3,452.3C641.1,453.2 643.0,453.6 644.7,454.6C646.4,455.6 647.9,457.2 649.6,458.4C651.4,459.5 653.3,460.4 655.0,461.5C656.7,462.7 658.4,463.9 659.8,465.4C661.3,466.8 662.6,468.8 663.7,470.2C664.7,471.5 665.4,472.5 666.2,473.6C667.1,474.8 667.8,476.0 668.8,477.1C669.9,478.2 671.5,479.0 672.6,480.2C673.8,481.3 674.6,482.5 675.7,484.0C676.8,485.5 678.0,487.4 679.2,489.2C680.3,490.9 681.7,492.6 682.6,494.3C683.5,496.0 684.0,497.7 684.6,499.5C685.1,501.2 686.1,502.8 686.1,504.7C686.1,506.6 685.0,508.7 684.8,510.7C684.5,512.7 684.8,515.3 684.4,516.8C683.9,518.2 682.8,518.6 681.9,519.5C681.1,520.4 680.5,521.5 679.2,522.0C677.9,522.4 675.7,522.5 674.0,522.5C672.3,522.5 670.9,522.3 668.8,522.0C666.8,521.6 664.2,520.8 661.9,520.3C659.6,519.7 657.0,518.5 655.0,518.5C653.0,518.5 651.7,520.0 650.0,520.5C648.2,521.1 646.8,521.1 644.7,522.0C642.5,522.8 639.6,524.5 637.0,525.6C634.4,526.8 631.8,527.7 629.1,528.9C626.5,530.0 623.7,531.2 621.1,532.6C618.5,534.1 615.7,536.1 613.6,537.5C611.5,538.9 610.3,540.1 608.6,541.2C606.9,542.4 604.9,543.8 603.2,544.4C601.6,544.9 600.4,544.5 598.9,544.5C597.5,544.5 595.9,545.2 594.6,544.4C593.3,543.6 592.5,541.3 591.4,539.9C590.2,538.5 588.5,537.1 587.7,535.8C586.9,534.4 587.1,533.2 586.6,532.0C586.0,530.9 585.9,529.4 584.3,528.9C582.6,528.3 579.0,528.8 576.4,528.5C573.8,528.2 571.0,527.8 568.7,527.1C566.4,526.5 564.7,525.4 562.7,524.5C560.7,523.6 558.1,522.9 556.6,522.0C555.1,521.0 554.7,519.8 553.8,518.7C552.9,517.5 552.0,516.2 551.5,515.0C550.9,513.9 550.6,512.8 550.5,511.7C550.4,510.5 550.4,509.7 550.6,508.1Z" fill="none" stroke="#e6c67a" stroke-width="9" opacity="0.55"/>
<path d="M586.0,458.1C589.3,456.0 599.3,457.4 606.0,456.5C612.6,455.7 622.0,451.2 625.7,452.9C629.4,454.6 627.4,462.0 628.0,466.6C628.6,471.2 632.5,478.1 629.1,480.5C625.7,482.9 614.7,480.9 607.6,480.9C600.4,480.9 589.6,482.5 586.0,480.5C582.4,478.6 586.0,473.0 586.0,469.3C586.0,465.6 582.7,460.2 586.0,458.1Z" fill="#ebc678" stroke="none" stroke-width="0" />
<path d="M549.7,497.8C550.4,494.2 552.5,490.2 554.5,486.7C556.6,483.3 558.5,479.1 561.8,477.1C565.1,475.1 570.2,475.8 574.2,474.7C578.2,473.5 584.0,470.0 586.0,470.2C588.0,470.4 585.7,474.1 586.3,475.8C586.9,477.5 590.2,478.7 589.4,480.5C588.6,482.4 584.5,485.3 581.6,487.0C578.7,488.8 573.6,489.6 572.2,490.9C570.7,492.2 572.4,493.6 573.0,494.8C573.6,495.9 569.4,497.8 575.6,497.8C581.8,497.8 598.8,496.1 610.3,494.6C621.8,493.2 638.9,489.4 644.7,489.2C650.5,489.0 645.1,492.0 645.1,493.5C645.1,494.9 648.5,496.9 644.7,497.8C640.8,498.7 629.7,498.5 622.2,499.0C614.7,499.6 604.2,499.1 599.8,501.2C595.4,503.4 597.4,508.7 595.7,512.1C594.0,515.6 590.5,519.1 589.4,522.0C588.4,524.8 589.2,526.7 589.5,529.0C589.8,531.3 592.8,534.5 591.2,535.8C589.5,537.0 583.6,536.6 579.8,536.3C576.1,536.0 571.9,535.8 568.7,534.0C565.5,532.3 563.3,528.4 560.5,525.9C557.6,523.3 553.1,521.4 551.5,518.5C549.8,515.6 550.6,511.6 550.3,508.2C550.0,504.7 549.0,501.4 549.7,497.8Z" fill="#e98b3e" stroke="none" stroke-width="0" />
<path d="M622.2,452.9C623.0,451.2 628.7,452.2 631.8,452.5C635.0,452.7 639.4,452.7 641.2,454.6C643.0,456.6 642.6,461.0 642.6,464.1C642.6,467.3 642.5,471.8 641.2,473.6C640.0,475.4 637.2,474.8 635.2,474.8C633.2,474.8 630.5,475.6 629.1,473.6C627.8,471.6 628.1,466.3 626.9,462.9C625.8,459.4 621.4,454.6 622.2,452.9Z" fill="#c42a4c" stroke="none" stroke-width="0" />
<path d="M587.7,523.7C592.0,521.7 604.4,523.0 612.7,523.0C621.1,523.0 633.7,522.0 637.8,523.7C641.8,525.4 637.7,530.2 637.1,533.4C636.5,536.5 638.5,541.0 634.3,542.7C630.1,544.3 619.3,542.8 611.8,543.4C604.3,544.0 593.6,547.5 589.4,546.1C585.3,544.7 587.3,538.8 587.0,535.0C586.7,531.3 583.4,525.7 587.7,523.7Z" fill="#ec9a50" stroke="none" stroke-width="0" />
<g fill="none" stroke-linecap="round" stroke-linejoin="round" transform="translate(0,294.0)"><use href="#sRM" stroke="#8f7038" stroke-width="3.6" opacity="0.42"/><use href="#sRM" stroke="#5a4424" stroke-width="1.1" opacity="0.85"/><use href="#sRM" transform="translate(1.3,1.5)" stroke="#fff8d8" stroke-width="1.2" opacity="0.45"/></g>
<path d="M579.1,501.2C579.9,498.6 581.4,494.9 584.3,492.6C587.1,490.3 591.4,488.6 596.3,487.4C601.2,486.3 608.1,485.7 613.6,485.7C619.1,485.7 625.4,486.0 629.1,487.4C632.9,488.9 634.6,491.5 636.0,494.3C637.5,497.2 638.1,501.5 637.8,504.7C637.5,507.9 636.3,511.0 634.3,513.3C632.3,515.6 628.6,516.8 625.7,518.5C622.8,520.2 620.2,522.2 617.0,523.7C613.9,525.1 609.6,527.4 606.7,527.1C603.8,526.8 601.5,524.0 599.8,522.0C598.1,519.9 598.1,516.8 596.3,515.0C594.6,513.3 592.3,512.7 589.4,511.6C586.6,510.4 580.8,509.9 579.1,508.1C577.3,506.4 578.2,503.8 579.1,501.2Z" fill="#c4bfbb" stroke="#6f6660" stroke-width="0.7" />
<path d="M579.1,501.2C579.9,499.8 581.4,494.9 584.3,492.6C587.1,490.3 591.4,488.6 596.3,487.4C601.2,486.3 608.1,485.7 613.6,485.7C619.1,485.7 625.4,486.0 629.1,487.4C632.9,488.9 634.6,491.5 636.0,494.3C637.5,497.2 637.5,503.0 637.8,504.7" fill="none" stroke="#4f4640" stroke-width="1.6" stroke-linecap="round" opacity="0.8"/>
<path d="M584.3,513.3C585.3,512.4 588.9,514.5 591.2,514.5C593.5,514.5 597.1,512.4 598.1,513.3C599.1,514.3 597.1,517.9 597.1,520.2C597.1,522.5 598.9,526.0 598.1,527.1C597.2,528.2 594.0,526.9 592.0,526.9C590.0,526.9 587.2,528.2 586.0,527.1C584.8,526.0 585.0,522.6 584.7,520.3C584.4,518.0 583.2,514.3 584.3,513.3Z" fill="#c42a4c" stroke="none" stroke-width="0" />
<path d="M611.9,501.2C613.6,500.5 618.2,502.3 621.4,502.3C624.5,502.3 629.4,500.5 630.9,501.2C632.3,501.9 630.2,504.7 630.2,506.4C630.2,508.1 632.3,510.8 630.9,511.6C629.4,512.4 624.5,511.1 621.4,511.1C618.2,511.1 613.6,512.4 611.9,511.6C610.1,510.8 610.9,508.1 610.9,506.4C610.9,504.7 610.1,501.9 611.9,501.2Z" fill="#ec8040" stroke="none" stroke-width="0" />
<path d="M550.6,508.1C550.8,506.6 551.5,504.2 551.8,502.2C552.1,500.1 551.7,498.1 552.3,496.1C552.9,494.0 554.3,492.0 555.3,490.0C556.3,488.0 557.0,485.8 558.4,484.0C559.8,482.1 561.9,480.7 563.7,478.9C565.4,477.2 566.7,475.2 568.7,473.6C570.7,472.0 573.2,470.6 575.5,469.2C577.8,467.7 580.1,466.3 582.5,465.0C585.0,463.7 587.6,462.5 590.2,461.4C592.8,460.2 595.4,459.0 598.1,458.1C600.7,457.2 603.4,456.9 606.0,456.1C608.6,455.2 611.3,453.6 613.6,452.9C615.9,452.2 617.8,452.4 619.8,451.8C621.8,451.2 624.0,449.9 625.7,449.5C627.4,449.0 628.6,449.0 630.0,449.0C631.4,449.0 632.8,448.9 634.3,449.5C635.9,450.0 637.6,451.5 639.3,452.3C641.1,453.2 643.0,453.6 644.7,454.6C646.4,455.6 647.9,457.2 649.6,458.4C651.4,459.5 653.3,460.4 655.0,461.5C656.7,462.7 658.4,463.9 659.8,465.4C661.3,466.8 662.6,468.8 663.7,470.2C664.7,471.5 665.4,472.5 666.2,473.6C667.1,474.8 667.8,476.0 668.8,477.1C669.9,478.2 671.5,479.0 672.6,480.2C673.8,481.3 674.6,482.5 675.7,484.0C676.8,485.5 678.0,487.4 679.2,489.2C680.3,490.9 681.7,492.6 682.6,494.3C683.5,496.0 684.0,497.7 684.6,499.5C685.1,501.2 686.1,502.8 686.1,504.7C686.1,506.6 685.0,508.7 684.8,510.7C684.5,512.7 684.8,515.3 684.4,516.8C683.9,518.2 682.8,518.6 681.9,519.5C681.1,520.4 680.5,521.5 679.2,522.0C677.9,522.4 675.7,522.5 674.0,522.5C672.3,522.5 670.9,522.3 668.8,522.0C666.8,521.6 664.2,520.8 661.9,520.3C659.6,519.7 657.0,518.5 655.0,518.5C653.0,518.5 651.7,520.0 650.0,520.5C648.2,521.1 646.8,521.1 644.7,522.0C642.5,522.8 639.6,524.5 637.0,525.6C634.4,526.8 631.8,527.7 629.1,528.9C626.5,530.0 623.7,531.2 621.1,532.6C618.5,534.1 615.7,536.1 613.6,537.5C611.5,538.9 610.3,540.1 608.6,541.2C606.9,542.4 604.9,543.8 603.2,544.4C601.6,544.9 600.4,544.5 598.9,544.5C597.5,544.5 595.9,545.2 594.6,544.4C593.3,543.6 592.5,541.3 591.4,539.9C590.2,538.5 588.5,537.1 587.7,535.8C586.9,534.4 587.1,533.2 586.6,532.0C586.0,530.9 585.9,529.4 584.3,528.9C582.6,528.3 579.0,528.8 576.4,528.5C573.8,528.2 571.0,527.8 568.7,527.1C566.4,526.5 564.7,525.4 562.7,524.5C560.7,523.6 558.1,522.9 556.6,522.0C555.1,521.0 554.7,519.8 553.8,518.7C552.9,517.5 552.0,516.2 551.5,515.0C550.9,513.9 550.6,512.8 550.5,511.7C550.4,510.5 550.4,509.7 550.6,508.1Z" fill="none" stroke="#b79a5a" stroke-width="3" opacity="0.5"/>
</g>
<path d="M550.6,508.1C550.8,506.6 551.5,504.2 551.8,502.2C552.1,500.1 551.7,498.1 552.3,496.1C552.9,494.0 554.3,492.0 555.3,490.0C556.3,488.0 557.0,485.8 558.4,484.0C559.8,482.1 561.9,480.7 563.7,478.9C565.4,477.2 566.7,475.2 568.7,473.6C570.7,472.0 573.2,470.6 575.5,469.2C577.8,467.7 580.1,466.3 582.5,465.0C585.0,463.7 587.6,462.5 590.2,461.4C592.8,460.2 595.4,459.0 598.1,458.1C600.7,457.2 603.4,456.9 606.0,456.1C608.6,455.2 611.3,453.6 613.6,452.9C615.9,452.2 617.8,452.4 619.8,451.8C621.8,451.2 624.0,449.9 625.7,449.5C627.4,449.0 628.6,449.0 630.0,449.0C631.4,449.0 632.8,448.9 634.3,449.5C635.9,450.0 637.6,451.5 639.3,452.3C641.1,453.2 643.0,453.6 644.7,454.6C646.4,455.6 647.9,457.2 649.6,458.4C651.4,459.5 653.3,460.4 655.0,461.5C656.7,462.7 658.4,463.9 659.8,465.4C661.3,466.8 662.6,468.8 663.7,470.2C664.7,471.5 665.4,472.5 666.2,473.6C667.1,474.8 667.8,476.0 668.8,477.1C669.9,478.2 671.5,479.0 672.6,480.2C673.8,481.3 674.6,482.5 675.7,484.0C676.8,485.5 678.0,487.4 679.2,489.2C680.3,490.9 681.7,492.6 682.6,494.3C683.5,496.0 684.0,497.7 684.6,499.5C685.1,501.2 686.1,502.8 686.1,504.7C686.1,506.6 685.0,508.7 684.8,510.7C684.5,512.7 684.8,515.3 684.4,516.8C683.9,518.2 682.8,518.6 681.9,519.5C681.1,520.4 680.5,521.5 679.2,522.0C677.9,522.4 675.7,522.5 674.0,522.5C672.3,522.5 670.9,522.3 668.8,522.0C666.8,521.6 664.2,520.8 661.9,520.3C659.6,519.7 657.0,518.5 655.0,518.5C653.0,518.5 651.7,520.0 650.0,520.5C648.2,521.1 646.8,521.1 644.7,522.0C642.5,522.8 639.6,524.5 637.0,525.6C634.4,526.8 631.8,527.7 629.1,528.9C626.5,530.0 623.7,531.2 621.1,532.6C618.5,534.1 615.7,536.1 613.6,537.5C611.5,538.9 610.3,540.1 608.6,541.2C606.9,542.4 604.9,543.8 603.2,544.4C601.6,544.9 600.4,544.5 598.9,544.5C597.5,544.5 595.9,545.2 594.6,544.4C593.3,543.6 592.5,541.3 591.4,539.9C590.2,538.5 588.5,537.1 587.7,535.8C586.9,534.4 587.1,533.2 586.6,532.0C586.0,530.9 585.9,529.4 584.3,528.9C582.6,528.3 579.0,528.8 576.4,528.5C573.8,528.2 571.0,527.8 568.7,527.1C566.4,526.5 564.7,525.4 562.7,524.5C560.7,523.6 558.1,522.9 556.6,522.0C555.1,521.0 554.7,519.8 553.8,518.7C552.9,517.5 552.0,516.2 551.5,515.0C550.9,513.9 550.6,512.8 550.5,511.7C550.4,510.5 550.4,509.7 550.6,508.1Z" fill="none" stroke="#4e402c" stroke-width="0.8" />
<clipPath id="ax253"><path d="M511.00,361.98 L514.96,360.61 L518.87,361.60 L522.72,363.19 L526.31,365.72 L529.82,368.54 L532.53,372.69 L535.59,376.37 L538.37,380.53 L540.24,385.45 L542.02,390.42 L542.53,395.76 L543.38,401.00 L543.22,406.25 L542.90,411.49 L541.79,416.53 L539.70,421.01 L537.62,425.49 L534.92,429.49 L532.03,433.45 L528.29,436.30 L524.09,438.11 L520.02,440.40 L515.48,440.81 L511.00,441.61 L506.52,440.79 L502.15,439.65 L497.68,438.75 L493.94,435.83 L490.32,432.91 L486.68,429.97 L483.96,425.88 L482.11,421.15 L479.92,416.67 L479.11,411.49 L478.45,406.31 L478.83,401.00 L478.83,395.66 L480.13,390.47 L481.54,385.33 L483.67,380.56 L486.51,376.46 L489.30,372.46 L492.52,369.13 L495.91,366.22 L499.52,363.97 L503.22,362.07 L507.05,360.75Z"/></clipPath>
<path d="M511.00,361.98 L514.96,360.61 L518.87,361.60 L522.72,363.19 L526.31,365.72 L529.82,368.54 L532.53,372.69 L535.59,376.37 L538.37,380.53 L540.24,385.45 L542.02,390.42 L542.53,395.76 L543.38,401.00 L543.22,406.25 L542.90,411.49 L541.79,416.53 L539.70,421.01 L537.62,425.49 L534.92,429.49 L532.03,433.45 L528.29,436.30 L524.09,438.11 L520.02,440.40 L515.48,440.81 L511.00,441.61 L506.52,440.79 L502.15,439.65 L497.68,438.75 L493.94,435.83 L490.32,432.91 L486.68,429.97 L483.96,425.88 L482.11,421.15 L479.92,416.67 L479.11,411.49 L478.45,406.31 L478.83,401.00 L478.83,395.66 L480.13,390.47 L481.54,385.33 L483.67,380.56 L486.51,376.46 L489.30,372.46 L492.52,369.13 L495.91,366.22 L499.52,363.97 L503.22,362.07 L507.05,360.75Z" fill="#e4e1de"/>
<g clip-path="url(#ax253)">
<ellipse cx="511" cy="402" rx="26.4" ry="34.0" fill="#f5f4f2"/>
<g filter="url(#fb)">
<line x1="508.5" y1="361.4" x2="509.1" y2="369.7" stroke="#c6c2bd" stroke-width="2.7" stroke-linecap="round"/>
<line x1="516.7" y1="361.9" x2="515.0" y2="370.9" stroke="#c6c2bd" stroke-width="2.9" stroke-linecap="round"/>
<line x1="523.1" y1="364.3" x2="520.3" y2="370.8" stroke="#c6c2bd" stroke-width="3.2" stroke-linecap="round"/>
<line x1="527.8" y1="367.3" x2="522.4" y2="375.8" stroke="#c6c2bd" stroke-width="2.2" stroke-linecap="round"/>
<line x1="535.4" y1="375.6" x2="528.2" y2="381.6" stroke="#c6c2bd" stroke-width="2.2" stroke-linecap="round"/>
<line x1="539.2" y1="382.8" x2="533.4" y2="385.7" stroke="#c6c2bd" stroke-width="3.0" stroke-linecap="round"/>
<line x1="540.3" y1="385.8" x2="536.1" y2="387.5" stroke="#c6c2bd" stroke-width="2.5" stroke-linecap="round"/>
<line x1="542.7" y1="399.7" x2="537.2" y2="399.9" stroke="#c6c2bd" stroke-width="3.3" stroke-linecap="round"/>
<line x1="542.3" y1="407.9" x2="532.4" y2="406.2" stroke="#c6c2bd" stroke-width="2.7" stroke-linecap="round"/>
<line x1="541.4" y1="412.4" x2="534.2" y2="410.3" stroke="#c6c2bd" stroke-width="3.3" stroke-linecap="round"/>
<line x1="539.4" y1="418.7" x2="531.5" y2="414.8" stroke="#c6c2bd" stroke-width="3.3" stroke-linecap="round"/>
<line x1="533.3" y1="429.2" x2="530.1" y2="426.1" stroke="#c6c2bd" stroke-width="3.5" stroke-linecap="round"/>
<line x1="531.3" y1="431.5" x2="527.2" y2="426.7" stroke="#c6c2bd" stroke-width="3.1" stroke-linecap="round"/>
<line x1="521.9" y1="438.3" x2="519.7" y2="432.4" stroke="#c6c2bd" stroke-width="3.5" stroke-linecap="round"/>
<line x1="517.4" y1="439.9" x2="516.1" y2="433.9" stroke="#c6c2bd" stroke-width="2.6" stroke-linecap="round"/>
<line x1="512.6" y1="440.6" x2="512.4" y2="436.0" stroke="#c6c2bd" stroke-width="2.4" stroke-linecap="round"/>
<line x1="503.5" y1="439.6" x2="505.9" y2="429.7" stroke="#c6c2bd" stroke-width="2.4" stroke-linecap="round"/>
<line x1="500.2" y1="438.3" x2="503.7" y2="428.8" stroke="#c6c2bd" stroke-width="2.9" stroke-linecap="round"/>
<line x1="492.7" y1="433.5" x2="496.0" y2="428.9" stroke="#c6c2bd" stroke-width="3.0" stroke-linecap="round"/>
<line x1="486.3" y1="426.0" x2="491.8" y2="421.6" stroke="#c6c2bd" stroke-width="2.8" stroke-linecap="round"/>
<line x1="484.7" y1="423.2" x2="492.9" y2="417.8" stroke="#c6c2bd" stroke-width="2.2" stroke-linecap="round"/>
<line x1="480.8" y1="413.3" x2="489.7" y2="410.4" stroke="#c6c2bd" stroke-width="2.4" stroke-linecap="round"/>
<line x1="479.3" y1="403.7" x2="489.3" y2="403.0" stroke="#c6c2bd" stroke-width="3.1" stroke-linecap="round"/>
<line x1="479.6" y1="395.0" x2="484.5" y2="395.8" stroke="#c6c2bd" stroke-width="2.8" stroke-linecap="round"/>
<line x1="480.3" y1="390.9" x2="489.4" y2="393.2" stroke="#c6c2bd" stroke-width="2.6" stroke-linecap="round"/>
<line x1="483.4" y1="381.4" x2="492.4" y2="386.4" stroke="#c6c2bd" stroke-width="3.4" stroke-linecap="round"/>
<line x1="489.1" y1="372.3" x2="494.0" y2="377.3" stroke="#c6c2bd" stroke-width="2.9" stroke-linecap="round"/>
<line x1="493.3" y1="368.1" x2="497.3" y2="373.9" stroke="#c6c2bd" stroke-width="2.6" stroke-linecap="round"/>
<line x1="497.6" y1="365.0" x2="499.8" y2="369.6" stroke="#c6c2bd" stroke-width="2.7" stroke-linecap="round"/>
<line x1="506.8" y1="361.7" x2="508.2" y2="371.5" stroke="#c6c2bd" stroke-width="3.1" stroke-linecap="round"/>
<path d="M511.00,361.98 L514.96,360.61 L518.87,361.60 L522.72,363.19 L526.31,365.72 L529.82,368.54 L532.53,372.69 L535.59,376.37 L538.37,380.53 L540.24,385.45 L542.02,390.42 L542.53,395.76 L543.38,401.00 L543.22,406.25 L542.90,411.49 L541.79,416.53 L539.70,421.01 L537.62,425.49 L534.92,429.49 L532.03,433.45 L528.29,436.30 L524.09,438.11 L520.02,440.40 L515.48,440.81 L511.00,441.61 L506.52,440.79 L502.15,439.65 L497.68,438.75 L493.94,435.83 L490.32,432.91 L486.68,429.97 L483.96,425.88 L482.11,421.15 L479.92,416.67 L479.11,411.49 L478.45,406.31 L478.83,401.00 L478.83,395.66 L480.13,390.47 L481.54,385.33 L483.67,380.56 L486.51,376.46 L489.30,372.46 L492.52,369.13 L495.91,366.22 L499.52,363.97 L503.22,362.07 L507.05,360.75Z" fill="none" stroke="#d0ccc8" stroke-width="2.5"/>
<circle cx="493" cy="379" r="3" fill="#d9d6d2"/>
<circle cx="529" cy="379" r="3" fill="#d9d6d2"/>
<circle cx="489" cy="415" r="3.5" fill="#d9d6d2"/>
<circle cx="533" cy="415" r="3.5" fill="#d9d6d2"/>
<circle cx="499" cy="427" r="3" fill="#d9d6d2"/>
<circle cx="523" cy="427" r="3" fill="#d9d6d2"/>
<circle cx="511" cy="371" r="2.5" fill="#d9d6d2"/>
<circle cx="486" cy="396" r="2.5" fill="#d9d6d2"/>
<circle cx="536" cy="396" r="2.5" fill="#d9d6d2"/>
</g></g>
<path d="M511.00,361.98 L514.96,360.61 L518.87,361.60 L522.72,363.19 L526.31,365.72 L529.82,368.54 L532.53,372.69 L535.59,376.37 L538.37,380.53 L540.24,385.45 L542.02,390.42 L542.53,395.76 L543.38,401.00 L543.22,406.25 L542.90,411.49 L541.79,416.53 L539.70,421.01 L537.62,425.49 L534.92,429.49 L532.03,433.45 L528.29,436.30 L524.09,438.11 L520.02,440.40 L515.48,440.81 L511.00,441.61 L506.52,440.79 L502.15,439.65 L497.68,438.75 L493.94,435.83 L490.32,432.91 L486.68,429.97 L483.96,425.88 L482.11,421.15 L479.92,416.67 L479.11,411.49 L478.45,406.31 L478.83,401.00 L478.83,395.66 L480.13,390.47 L481.54,385.33 L483.67,380.56 L486.51,376.46 L489.30,372.46 L492.52,369.13 L495.91,366.22 L499.52,363.97 L503.22,362.07 L507.05,360.75Z" fill="none" stroke="#9c968f" stroke-width="0.8"/>
<line x1="511" y1="362.5" x2="511" y2="372.5" stroke="#b9b4ae" stroke-width="1.4"/>
<line x1="511" y1="439.5" x2="511" y2="427.5" stroke="#c9c4bf" stroke-width="1.4"/>
<ellipse cx="511" cy="404" rx="11.664" ry="14.58" fill="#ddd9d5"/>
<path d="M509,385 L513,385 L513.5,395 L508.5,395Z" fill="#9a928a"/>
<path d="M508,405 L514,405 L515,415 L507,415Z" fill="#bdb5ad"/>
<path d="M498,409 Q496,415 500,419 L503,413 Z" fill="#9f978f"/>
<path d="M524,409 Q526,415 522,419 L519,413 Z" fill="#9f978f"/>
<ellipse cx="499" cy="394.5" rx="3.4" ry="7.4" fill="#f6e9a6" transform="rotate(10 499 394.5)"/>
<ellipse cx="523" cy="394.5" rx="3.4" ry="7.4" fill="#f6e9a6" transform="rotate(-10 523 394.5)"/>
<path d="M501.5,381.5 Q507,382 509,385 L509,392.5 Q504,390 501.5,381.5 Z" fill="#f0a848"/>
<path d="M520.5,381.5 Q515,382 513,385 L513,392.5 Q518,390 520.5,381.5 Z" fill="#f0a848"/>
<ellipse cx="506" cy="402.5" rx="4.6" ry="7" fill="#ee7a30" transform="rotate(-25 506 402.5)"/>
<ellipse cx="516" cy="402.5" rx="4.6" ry="7" fill="#ee7a30" transform="rotate(25 516 402.5)"/>
<ellipse cx="503.5" cy="409.5" rx="2" ry="2.5" fill="#ee7a30"/>
<ellipse cx="518.5" cy="409.5" rx="2" ry="2.5" fill="#ee7a30"/>
<clipPath id="ax315"><path d="M511.00,463.78 L514.96,462.41 L518.87,463.40 L522.72,464.99 L526.31,467.52 L529.82,470.34 L532.53,474.49 L535.59,478.17 L538.37,482.33 L540.24,487.25 L542.02,492.22 L542.53,497.56 L543.38,502.80 L543.22,508.05 L542.90,513.29 L541.79,518.33 L539.70,522.81 L537.62,527.29 L534.92,531.29 L532.03,535.25 L528.29,538.10 L524.09,539.91 L520.02,542.20 L515.48,542.61 L511.00,543.41 L506.52,542.59 L502.15,541.45 L497.68,540.55 L493.94,537.63 L490.32,534.71 L486.68,531.77 L483.96,527.68 L482.11,522.95 L479.92,518.47 L479.11,513.29 L478.45,508.11 L478.83,502.80 L478.83,497.46 L480.13,492.27 L481.54,487.13 L483.67,482.36 L486.51,478.26 L489.30,474.26 L492.52,470.93 L495.91,468.02 L499.52,465.77 L503.22,463.87 L507.05,462.55Z"/></clipPath>
<path d="M511.00,463.78 L514.96,462.41 L518.87,463.40 L522.72,464.99 L526.31,467.52 L529.82,470.34 L532.53,474.49 L535.59,478.17 L538.37,482.33 L540.24,487.25 L542.02,492.22 L542.53,497.56 L543.38,502.80 L543.22,508.05 L542.90,513.29 L541.79,518.33 L539.70,522.81 L537.62,527.29 L534.92,531.29 L532.03,535.25 L528.29,538.10 L524.09,539.91 L520.02,542.20 L515.48,542.61 L511.00,543.41 L506.52,542.59 L502.15,541.45 L497.68,540.55 L493.94,537.63 L490.32,534.71 L486.68,531.77 L483.96,527.68 L482.11,522.95 L479.92,518.47 L479.11,513.29 L478.45,508.11 L478.83,502.80 L478.83,497.46 L480.13,492.27 L481.54,487.13 L483.67,482.36 L486.51,478.26 L489.30,474.26 L492.52,470.93 L495.91,468.02 L499.52,465.77 L503.22,463.87 L507.05,462.55Z" fill="#e4e1de"/>
<g clip-path="url(#ax315)">
<ellipse cx="511" cy="503.8" rx="26.4" ry="34.0" fill="#f5f4f2"/>
<g filter="url(#fb)">
<line x1="508.5" y1="463.2" x2="509.1" y2="471.5" stroke="#c6c2bd" stroke-width="2.7" stroke-linecap="round"/>
<line x1="516.7" y1="463.7" x2="515.0" y2="472.7" stroke="#c6c2bd" stroke-width="2.9" stroke-linecap="round"/>
<line x1="523.1" y1="466.1" x2="520.3" y2="472.6" stroke="#c6c2bd" stroke-width="3.2" stroke-linecap="round"/>
<line x1="527.8" y1="469.1" x2="522.4" y2="477.6" stroke="#c6c2bd" stroke-width="2.2" stroke-linecap="round"/>
<line x1="535.4" y1="477.4" x2="528.2" y2="483.4" stroke="#c6c2bd" stroke-width="2.2" stroke-linecap="round"/>
<line x1="539.2" y1="484.6" x2="533.4" y2="487.5" stroke="#c6c2bd" stroke-width="3.0" stroke-linecap="round"/>
<line x1="540.3" y1="487.6" x2="536.1" y2="489.3" stroke="#c6c2bd" stroke-width="2.5" stroke-linecap="round"/>
<line x1="542.7" y1="501.5" x2="537.2" y2="501.7" stroke="#c6c2bd" stroke-width="3.3" stroke-linecap="round"/>
<line x1="542.3" y1="509.7" x2="532.4" y2="508.0" stroke="#c6c2bd" stroke-width="2.7" stroke-linecap="round"/>
<line x1="541.4" y1="514.2" x2="534.2" y2="512.1" stroke="#c6c2bd" stroke-width="3.3" stroke-linecap="round"/>
<line x1="539.4" y1="520.5" x2="531.5" y2="516.6" stroke="#c6c2bd" stroke-width="3.3" stroke-linecap="round"/>
<line x1="533.3" y1="531.0" x2="530.1" y2="527.9" stroke="#c6c2bd" stroke-width="3.5" stroke-linecap="round"/>
<line x1="531.3" y1="533.3" x2="527.2" y2="528.5" stroke="#c6c2bd" stroke-width="3.1" stroke-linecap="round"/>
<line x1="521.9" y1="540.1" x2="519.7" y2="534.2" stroke="#c6c2bd" stroke-width="3.5" stroke-linecap="round"/>
<line x1="517.4" y1="541.7" x2="516.1" y2="535.7" stroke="#c6c2bd" stroke-width="2.6" stroke-linecap="round"/>
<line x1="512.6" y1="542.4" x2="512.4" y2="537.8" stroke="#c6c2bd" stroke-width="2.4" stroke-linecap="round"/>
<line x1="503.5" y1="541.4" x2="505.9" y2="531.5" stroke="#c6c2bd" stroke-width="2.4" stroke-linecap="round"/>
<line x1="500.2" y1="540.1" x2="503.7" y2="530.6" stroke="#c6c2bd" stroke-width="2.9" stroke-linecap="round"/>
<line x1="492.7" y1="535.3" x2="496.0" y2="530.7" stroke="#c6c2bd" stroke-width="3.0" stroke-linecap="round"/>
<line x1="486.3" y1="527.8" x2="491.8" y2="523.4" stroke="#c6c2bd" stroke-width="2.8" stroke-linecap="round"/>
<line x1="484.7" y1="525.0" x2="492.9" y2="519.6" stroke="#c6c2bd" stroke-width="2.2" stroke-linecap="round"/>
<line x1="480.8" y1="515.1" x2="489.7" y2="512.2" stroke="#c6c2bd" stroke-width="2.4" stroke-linecap="round"/>
<line x1="479.3" y1="505.5" x2="489.3" y2="504.8" stroke="#c6c2bd" stroke-width="3.1" stroke-linecap="round"/>
<line x1="479.6" y1="496.8" x2="484.5" y2="497.6" stroke="#c6c2bd" stroke-width="2.8" stroke-linecap="round"/>
<line x1="480.3" y1="492.7" x2="489.4" y2="495.0" stroke="#c6c2bd" stroke-width="2.6" stroke-linecap="round"/>
<line x1="483.4" y1="483.2" x2="492.4" y2="488.2" stroke="#c6c2bd" stroke-width="3.4" stroke-linecap="round"/>
<line x1="489.1" y1="474.1" x2="494.0" y2="479.1" stroke="#c6c2bd" stroke-width="2.9" stroke-linecap="round"/>
<line x1="493.3" y1="469.9" x2="497.3" y2="475.7" stroke="#c6c2bd" stroke-width="2.6" stroke-linecap="round"/>
<line x1="497.6" y1="466.8" x2="499.8" y2="471.4" stroke="#c6c2bd" stroke-width="2.7" stroke-linecap="round"/>
<line x1="506.8" y1="463.5" x2="508.2" y2="473.3" stroke="#c6c2bd" stroke-width="3.1" stroke-linecap="round"/>
<path d="M511.00,463.78 L514.96,462.41 L518.87,463.40 L522.72,464.99 L526.31,467.52 L529.82,470.34 L532.53,474.49 L535.59,478.17 L538.37,482.33 L540.24,487.25 L542.02,492.22 L542.53,497.56 L543.38,502.80 L543.22,508.05 L542.90,513.29 L541.79,518.33 L539.70,522.81 L537.62,527.29 L534.92,531.29 L532.03,535.25 L528.29,538.10 L524.09,539.91 L520.02,542.20 L515.48,542.61 L511.00,543.41 L506.52,542.59 L502.15,541.45 L497.68,540.55 L493.94,537.63 L490.32,534.71 L486.68,531.77 L483.96,527.68 L482.11,522.95 L479.92,518.47 L479.11,513.29 L478.45,508.11 L478.83,502.80 L478.83,497.46 L480.13,492.27 L481.54,487.13 L483.67,482.36 L486.51,478.26 L489.30,474.26 L492.52,470.93 L495.91,468.02 L499.52,465.77 L503.22,463.87 L507.05,462.55Z" fill="none" stroke="#d0ccc8" stroke-width="2.5"/>
<circle cx="493" cy="480.8" r="3" fill="#d9d6d2"/>
<circle cx="529" cy="480.8" r="3" fill="#d9d6d2"/>
<circle cx="489" cy="516.8" r="3.5" fill="#d9d6d2"/>
<circle cx="533" cy="516.8" r="3.5" fill="#d9d6d2"/>
<circle cx="499" cy="528.8" r="3" fill="#d9d6d2"/>
<circle cx="523" cy="528.8" r="3" fill="#d9d6d2"/>
<circle cx="511" cy="472.8" r="2.5" fill="#d9d6d2"/>
<circle cx="486" cy="497.8" r="2.5" fill="#d9d6d2"/>
<circle cx="536" cy="497.8" r="2.5" fill="#d9d6d2"/>
</g></g>
<path d="M511.00,463.78 L514.96,462.41 L518.87,463.40 L522.72,464.99 L526.31,467.52 L529.82,470.34 L532.53,474.49 L535.59,478.17 L538.37,482.33 L540.24,487.25 L542.02,492.22 L542.53,497.56 L543.38,502.80 L543.22,508.05 L542.90,513.29 L541.79,518.33 L539.70,522.81 L537.62,527.29 L534.92,531.29 L532.03,535.25 L528.29,538.10 L524.09,539.91 L520.02,542.20 L515.48,542.61 L511.00,543.41 L506.52,542.59 L502.15,541.45 L497.68,540.55 L493.94,537.63 L490.32,534.71 L486.68,531.77 L483.96,527.68 L482.11,522.95 L479.92,518.47 L479.11,513.29 L478.45,508.11 L478.83,502.80 L478.83,497.46 L480.13,492.27 L481.54,487.13 L483.67,482.36 L486.51,478.26 L489.30,474.26 L492.52,470.93 L495.91,468.02 L499.52,465.77 L503.22,463.87 L507.05,462.55Z" fill="none" stroke="#9c968f" stroke-width="0.8"/>
<line x1="511" y1="464.3" x2="511" y2="474.3" stroke="#b9b4ae" stroke-width="1.4"/>
<line x1="511" y1="541.3" x2="511" y2="529.3" stroke="#c9c4bf" stroke-width="1.4"/>
<ellipse cx="511" cy="505.8" rx="11.664" ry="14.58" fill="#ddd9d5"/>
<path d="M509,486.8 L513,486.8 L513.5,496.8 L508.5,496.8Z" fill="#9a928a"/>
<path d="M508,506.8 L514,506.8 L515,516.8 L507,516.8Z" fill="#bdb5ad"/>
<path d="M498,510.8 Q496,516.8 500,520.8 L503,514.8 Z" fill="#9f978f"/>
<path d="M524,510.8 Q526,516.8 522,520.8 L519,514.8 Z" fill="#9f978f"/>
<ellipse cx="499.5" cy="497.3" rx="5" ry="9" fill="#f6e9a6" transform="rotate(10 499.5 497.3)"/>
<ellipse cx="522.5" cy="497.3" rx="5" ry="9" fill="#f6e9a6" transform="rotate(-10 522.5 497.3)"/>
<ellipse cx="499" cy="496.3" rx="3.4" ry="7.4" fill="#a8142c" transform="rotate(10 499 496.3)"/>
<ellipse cx="523" cy="496.3" rx="3.4" ry="7.4" fill="#a8142c" transform="rotate(-10 523 496.3)"/>
<path d="M501.5,483.3 Q507,483.8 509,486.8 L509,494.3 Q504,491.8 501.5,483.3 Z" fill="#ee9a3a"/>
<path d="M520.5,483.3 Q515,483.8 513,486.8 L513,494.3 Q518,491.8 520.5,483.3 Z" fill="#ee9a3a"/>
<ellipse cx="506" cy="504.3" rx="4.6" ry="7" fill="#ee7a30" transform="rotate(-25 506 504.3)"/>
<ellipse cx="516" cy="504.3" rx="4.6" ry="7" fill="#ee7a30" transform="rotate(25 516 504.3)"/>
<ellipse cx="501" cy="512.3" rx="4.5" ry="1.8" fill="#f6e9a6"/>
<ellipse cx="521" cy="512.3" rx="4.5" ry="1.8" fill="#f6e9a6"/>
<rect x="691.2" y="149.1" width="9" height="109.6" fill="url(#bcb)" stroke="#7a7a7a" stroke-width="0.4"/>
<text x="704.6" y="171.2512" font-size="9.3" fill="#4a4a4a">0.10</text>
<text x="704.6" y="223.9688" font-size="9.3" fill="#4a4a4a">0.05</text>
<text x="704.6" y="260.904" font-size="9.3" fill="#4a4a4a">best</text>
<rect x="691.7" y="440.8" width="9" height="109.80000000000001" fill="url(#bcb)" stroke="#7a7a7a" stroke-width="0.4"/>
<text x="705.1" y="462.98560000000003" font-size="9.3" fill="#4a4a4a">0.10</text>
<text x="705.1" y="515.7994" font-size="9.3" fill="#4a4a4a">0.05</text>
<text x="705.1" y="552.802" font-size="9.3" fill="#4a4a4a">best</text>
<g>
<path d="M891.5,562.5 L888.6,567.3 L895.8,564.6 Z" fill="#ffffff" stroke="#8a8a8a" stroke-width="0.5"/>
<ellipse cx="903.2" cy="552.4" rx="15" ry="13.8" fill="#ffffff" fill-opacity="0.88" stroke="#9a9a9a" stroke-width="0.4"/>
<circle cx="897.7" cy="547.9" r="1.6" fill="#3a2490"/>
<circle cx="909.4" cy="547.9" r="1.6" fill="#3a2490"/>
<ellipse cx="917.4" cy="562.7" rx="13.15" ry="11.7" fill="#ffffff" fill-opacity="0.85" stroke="#6e6e6e" stroke-width="0.9"/>
<path d="M924.5,572.6 L927.8,575.0 L926.7,571.0" fill="#ffffff" stroke="#6e6e6e" stroke-width="0.8"/>
<circle cx="912.9" cy="558.4" r="1.3" fill="#8a8a8a"/>
<circle cx="922.4" cy="558.4" r="1.3" fill="#8a8a8a"/>
</g>
<path d="M943.72,548.60 L958.58,548.60 L958.58,559.60 L943.72,559.60 L943.72,548.60 M951.15,548.60 L951.15,559.60 M943.72,554.10 L958.58,554.10 M942.32,562.60 L940.93,568.60 M945.58,561.60 L945.58,567.60 L947.43,569.60 L954.87,569.60 L956.26,566.60 M949.76,561.60 L951.15,564.10 M957.65,561.60 L959.98,566.10 M966.79,548.60 L976.89,548.60 L976.89,554.60 L966.79,554.60 L966.79,548.60 M966.79,551.60 L976.89,551.60 M971.58,555.60 L971.58,556.60 M965.20,557.10 L978.48,557.10 M968.39,559.10 L975.29,559.10 L975.29,562.10 L968.39,562.10 L968.39,559.10 M971.79,563.10 L971.79,569.60 L970.51,569.10 M968.39,565.10 L966.26,568.60 M975.29,565.10 L977.42,568.60 M987.51,548.60 L980.61,554.60 M988.58,555.60 L980.61,561.60 M989.64,561.60 L979.01,570.60 M1002.92,548.60 L995.10,551.60 M993.54,556.10 L1005.00,556.10 M999.27,551.10 L999.27,570.60 M998.75,557.10 L993.54,565.10 M1000.00,558.10 L1003.96,561.60 M1006.56,551.60 L1009.17,554.10 M1006.56,556.60 L1009.17,559.10 M1005.52,563.10 L1016.98,561.10 M1013.33,548.60 L1013.33,570.60 M1020.26,555.10 L1028.76,555.10 M1024.51,548.60 L1024.51,568.60 L1022.39,567.60 M1020.26,564.10 L1029.29,560.10 M1030.89,553.10 L1043.64,553.10 M1037.26,548.60 L1037.26,558.10 M1031.95,559.10 L1041.51,559.10 L1031.95,570.60 M1034.61,562.10 L1044.17,570.60" fill="none" stroke="#4a4a4a" stroke-width="2.6" stroke-linecap="square" stroke-linejoin="miter" opacity="0.75"/>
<path d="M943.02,547.90 L957.88,547.90 L957.88,558.90 L943.02,558.90 L943.02,547.90 M950.45,547.90 L950.45,558.90 M943.02,553.40 L957.88,553.40 M941.62,561.90 L940.23,567.90 M944.88,560.90 L944.88,566.90 L946.73,568.90 L954.17,568.90 L955.56,565.90 M949.06,560.90 L950.45,563.40 M956.95,560.90 L959.28,565.40 M966.09,547.90 L976.19,547.90 L976.19,553.90 L966.09,553.90 L966.09,547.90 M966.09,550.90 L976.19,550.90 M970.88,554.90 L970.88,555.90 M964.50,556.40 L977.78,556.40 M967.69,558.40 L974.59,558.40 L974.59,561.40 L967.69,561.40 L967.69,558.40 M971.09,562.40 L971.09,568.90 L969.81,568.40 M967.69,564.40 L965.56,567.90 M974.59,564.40 L976.72,567.90 M986.81,547.90 L979.91,553.90 M987.88,554.90 L979.91,560.90 M988.94,560.90 L978.31,569.90 M1002.22,547.90 L994.40,550.90 M992.84,555.40 L1004.30,555.40 M998.57,550.40 L998.57,569.90 M998.05,556.40 L992.84,564.40 M999.30,557.40 L1003.26,560.90 M1005.86,550.90 L1008.47,553.40 M1005.86,555.90 L1008.47,558.40 M1004.82,562.40 L1016.28,560.40 M1012.63,547.90 L1012.63,569.90 M1019.56,554.40 L1028.06,554.40 M1023.81,547.90 L1023.81,567.90 L1021.69,566.90 M1019.56,563.40 L1028.59,559.40 M1030.19,552.40 L1042.94,552.40 M1036.56,547.90 L1036.56,557.40 M1031.25,558.40 L1040.81,558.40 L1031.25,569.90 M1033.91,561.40 L1043.47,569.90" fill="none" stroke="#ffffff" stroke-width="2.0" stroke-linecap="square" stroke-linejoin="miter"/>
</svg></body></html>
